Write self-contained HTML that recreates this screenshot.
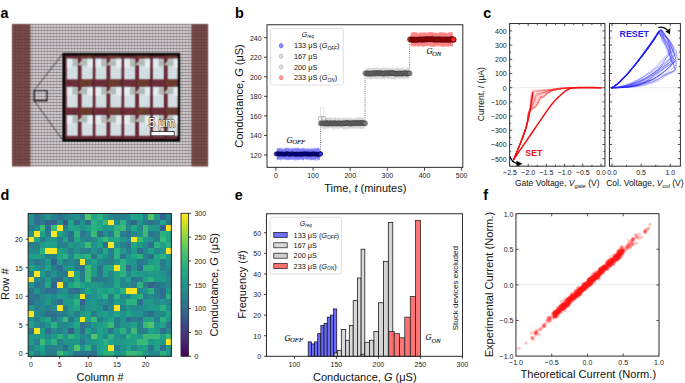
<!DOCTYPE html>
<html><head><meta charset="utf-8"><title>Figure</title>
<style>
html,body{margin:0;padding:0;background:#fff;}
body{width:685px;height:383px;overflow:hidden;font-family:"Liberation Sans", sans-serif;}
svg{display:block;}
</style></head><body>
<svg width="685" height="383" viewBox="0 0 685 383"><text x="0.50" y="17.80" font-size="14.4" text-anchor="start" font-weight="bold" font-style="normal" fill="#000" font-family='"Liberation Sans", sans-serif'>a</text>
<text x="234.90" y="17.90" font-size="14.4" text-anchor="start" font-weight="bold" font-style="normal" fill="#000" font-family='"Liberation Sans", sans-serif'>b</text>
<text x="483.20" y="17.90" font-size="14.4" text-anchor="start" font-weight="bold" font-style="normal" fill="#000" font-family='"Liberation Sans", sans-serif'>c</text>
<text x="0.50" y="200.20" font-size="14.4" text-anchor="start" font-weight="bold" font-style="normal" fill="#000" font-family='"Liberation Sans", sans-serif'>d</text>
<text x="234.70" y="200.30" font-size="14.4" text-anchor="start" font-weight="bold" font-style="normal" fill="#000" font-family='"Liberation Sans", sans-serif'>e</text>
<text x="483.20" y="200.20" font-size="14.4" text-anchor="start" font-weight="bold" font-style="normal" fill="#000" font-family='"Liberation Sans", sans-serif'>f</text>
<defs>
<pattern id="gridp" x="32" y="27" width="3" height="3" patternUnits="userSpaceOnUse"><rect width="3" height="3" fill="#edf0f2"/><rect width="1" height="3" fill="#9c9ca2"/><rect width="3" height="1" fill="#7a646a"/></pattern>
<pattern id="brownp" x="12" y="27" width="3" height="3" patternUnits="userSpaceOnUse"><rect width="3" height="3" fill="#80504a"/><rect width="3" height="1" fill="#5e3a3a"/><rect width="1" height="3" fill="#5e3c3c" fill-opacity="0.6"/></pattern>
<pattern id="padp" x="0" y="0" width="1.6" height="1.6" patternUnits="userSpaceOnUse"><rect width="1.6" height="1.6" fill="#dde8ec"/><rect width="0.4" height="1.6" fill="#c6d2d7"/><rect width="1.6" height="0.4" fill="#c6d2d7"/></pattern>
</defs>
<filter id="blurA" x="-2%" y="-2%" width="104%" height="104%" color-interpolation-filters="sRGB"><feConvolveMatrix order="3" kernelMatrix="0.04 0.12 0.04 0.12 0.36 0.12 0.04 0.12 0.04" divisor="1" edgeMode="duplicate" preserveAlpha="false"/></filter>
<g filter="url(#blurA)">
<rect x="12.00" y="24.00" width="18.80" height="142.50" fill="url(#brownp)" stroke="none" stroke-width="1.0"/>
<rect x="30.80" y="24.00" width="160.40" height="142.50" fill="url(#gridp)" stroke="none" stroke-width="1.0"/>
<rect x="191.20" y="24.00" width="16.90" height="142.50" fill="url(#brownp)" stroke="none" stroke-width="1.0"/>
<line x1="63.00" y1="53.60" x2="34.00" y2="90.40" stroke="#111" stroke-width="0.7"/>
<line x1="34.20" y1="100.80" x2="63.50" y2="141.00" stroke="#111" stroke-width="0.7"/>
<rect x="34.20" y="90.60" width="12.80" height="10.10" fill="none" stroke="#000" stroke-width="1.1"/>
<rect x="63.75" y="54.25" width="115.15" height="86.20" fill="#6c2b38" stroke="#050505" stroke-width="2.6"/>
<clipPath id="insclip"><rect x="64.95" y="55.45" width="112.75" height="83.80"/></clipPath>
<g clip-path="url(#insclip)">
<rect x="78.80" y="51.40" width="13.80" height="6.60" fill="#6a3b2c" stroke="none" stroke-width="1.0"/>
<rect x="92.00" y="51.40" width="2.00" height="32.20" fill="#55212c" stroke="none" stroke-width="1.0"/>
<rect x="78.10" y="51.40" width="1.20" height="32.20" fill="#5a2430" stroke="none" stroke-width="1.0"/>
<rect x="66.80" y="58.70" width="11.00" height="20.70" fill="url(#padp)" stroke="none" stroke-width="1.0"/>
<rect x="66.80" y="58.70" width="5.80" height="9.00" fill="#e3ecee" stroke="none" stroke-width="1.0"/>
<rect x="72.60" y="59.30" width="5.20" height="7.00" fill="#b2bab4" stroke="none" stroke-width="1.0"/>
<rect x="81.60" y="58.70" width="11.20" height="20.70" fill="url(#padp)" stroke="none" stroke-width="1.0"/>
<rect x="87.20" y="58.70" width="5.60" height="9.00" fill="#e3ecee" stroke="none" stroke-width="1.0"/>
<polygon points="78.4,63.9 82.6,59.7 87.2,59.7 87.2,66.1 78.4,65.3" fill="#b2bab4"/>
<line x1="66.80" y1="59.00" x2="72.60" y2="59.00" stroke="#a6e6f0" stroke-width="0.6"/>
<line x1="87.20" y1="59.00" x2="92.80" y2="59.00" stroke="#a6e6f0" stroke-width="0.6"/>
<rect x="107.50" y="51.40" width="13.80" height="6.60" fill="#6a3b2c" stroke="none" stroke-width="1.0"/>
<rect x="120.70" y="51.40" width="2.00" height="32.20" fill="#55212c" stroke="none" stroke-width="1.0"/>
<rect x="106.80" y="51.40" width="1.20" height="32.20" fill="#5a2430" stroke="none" stroke-width="1.0"/>
<rect x="95.50" y="58.70" width="11.00" height="20.70" fill="url(#padp)" stroke="none" stroke-width="1.0"/>
<rect x="95.50" y="58.70" width="5.80" height="9.00" fill="#e3ecee" stroke="none" stroke-width="1.0"/>
<rect x="101.30" y="59.30" width="5.20" height="7.00" fill="#b2bab4" stroke="none" stroke-width="1.0"/>
<rect x="110.30" y="58.70" width="11.20" height="20.70" fill="url(#padp)" stroke="none" stroke-width="1.0"/>
<rect x="115.90" y="58.70" width="5.60" height="9.00" fill="#e3ecee" stroke="none" stroke-width="1.0"/>
<polygon points="107.1,63.9 111.3,59.7 115.9,59.7 115.9,66.1 107.1,65.3" fill="#b2bab4"/>
<line x1="95.50" y1="59.00" x2="101.30" y2="59.00" stroke="#a6e6f0" stroke-width="0.6"/>
<line x1="115.90" y1="59.00" x2="121.50" y2="59.00" stroke="#a6e6f0" stroke-width="0.6"/>
<rect x="136.20" y="51.40" width="13.80" height="6.60" fill="#6a3b2c" stroke="none" stroke-width="1.0"/>
<rect x="149.40" y="51.40" width="2.00" height="32.20" fill="#55212c" stroke="none" stroke-width="1.0"/>
<rect x="135.50" y="51.40" width="1.20" height="32.20" fill="#5a2430" stroke="none" stroke-width="1.0"/>
<rect x="124.20" y="58.70" width="11.00" height="20.70" fill="url(#padp)" stroke="none" stroke-width="1.0"/>
<rect x="124.20" y="58.70" width="5.80" height="9.00" fill="#e3ecee" stroke="none" stroke-width="1.0"/>
<rect x="130.00" y="59.30" width="5.20" height="7.00" fill="#b2bab4" stroke="none" stroke-width="1.0"/>
<rect x="139.00" y="58.70" width="11.20" height="20.70" fill="url(#padp)" stroke="none" stroke-width="1.0"/>
<rect x="144.60" y="58.70" width="5.60" height="9.00" fill="#e3ecee" stroke="none" stroke-width="1.0"/>
<polygon points="135.8,63.9 140.0,59.7 144.6,59.7 144.6,66.1 135.8,65.3" fill="#b2bab4"/>
<line x1="124.20" y1="59.00" x2="130.00" y2="59.00" stroke="#a6e6f0" stroke-width="0.6"/>
<line x1="144.60" y1="59.00" x2="150.20" y2="59.00" stroke="#a6e6f0" stroke-width="0.6"/>
<rect x="164.90" y="51.40" width="13.80" height="6.60" fill="#6a3b2c" stroke="none" stroke-width="1.0"/>
<rect x="178.10" y="51.40" width="2.00" height="32.20" fill="#55212c" stroke="none" stroke-width="1.0"/>
<rect x="164.20" y="51.40" width="1.20" height="32.20" fill="#5a2430" stroke="none" stroke-width="1.0"/>
<rect x="152.90" y="58.70" width="11.00" height="20.70" fill="url(#padp)" stroke="none" stroke-width="1.0"/>
<rect x="152.90" y="58.70" width="5.80" height="9.00" fill="#e3ecee" stroke="none" stroke-width="1.0"/>
<rect x="158.70" y="59.30" width="5.20" height="7.00" fill="#b2bab4" stroke="none" stroke-width="1.0"/>
<rect x="167.70" y="58.70" width="11.20" height="20.70" fill="url(#padp)" stroke="none" stroke-width="1.0"/>
<rect x="173.30" y="58.70" width="5.60" height="9.00" fill="#e3ecee" stroke="none" stroke-width="1.0"/>
<polygon points="164.5,63.9 168.7,59.7 173.3,59.7 173.3,66.1 164.5,65.3" fill="#b2bab4"/>
<line x1="152.90" y1="59.00" x2="158.70" y2="59.00" stroke="#a6e6f0" stroke-width="0.6"/>
<line x1="173.30" y1="59.00" x2="178.90" y2="59.00" stroke="#a6e6f0" stroke-width="0.6"/>
<rect x="78.80" y="79.60" width="13.80" height="6.60" fill="#6a3b2c" stroke="none" stroke-width="1.0"/>
<rect x="92.00" y="79.60" width="2.00" height="32.20" fill="#55212c" stroke="none" stroke-width="1.0"/>
<rect x="78.10" y="79.60" width="1.20" height="32.20" fill="#5a2430" stroke="none" stroke-width="1.0"/>
<rect x="66.80" y="86.90" width="11.00" height="20.70" fill="url(#padp)" stroke="none" stroke-width="1.0"/>
<rect x="66.80" y="86.90" width="5.80" height="9.00" fill="#e3ecee" stroke="none" stroke-width="1.0"/>
<rect x="72.60" y="87.50" width="5.20" height="7.00" fill="#b2bab4" stroke="none" stroke-width="1.0"/>
<rect x="81.60" y="86.90" width="11.20" height="20.70" fill="url(#padp)" stroke="none" stroke-width="1.0"/>
<rect x="87.20" y="86.90" width="5.60" height="9.00" fill="#e3ecee" stroke="none" stroke-width="1.0"/>
<polygon points="78.4,92.1 82.6,87.9 87.2,87.9 87.2,94.3 78.4,93.5" fill="#b2bab4"/>
<line x1="66.80" y1="87.20" x2="72.60" y2="87.20" stroke="#a6e6f0" stroke-width="0.6"/>
<line x1="87.20" y1="87.20" x2="92.80" y2="87.20" stroke="#a6e6f0" stroke-width="0.6"/>
<rect x="107.50" y="79.60" width="13.80" height="6.60" fill="#6a3b2c" stroke="none" stroke-width="1.0"/>
<rect x="120.70" y="79.60" width="2.00" height="32.20" fill="#55212c" stroke="none" stroke-width="1.0"/>
<rect x="106.80" y="79.60" width="1.20" height="32.20" fill="#5a2430" stroke="none" stroke-width="1.0"/>
<rect x="95.50" y="86.90" width="11.00" height="20.70" fill="url(#padp)" stroke="none" stroke-width="1.0"/>
<rect x="95.50" y="86.90" width="5.80" height="9.00" fill="#e3ecee" stroke="none" stroke-width="1.0"/>
<rect x="101.30" y="87.50" width="5.20" height="7.00" fill="#b2bab4" stroke="none" stroke-width="1.0"/>
<rect x="110.30" y="86.90" width="11.20" height="20.70" fill="url(#padp)" stroke="none" stroke-width="1.0"/>
<rect x="115.90" y="86.90" width="5.60" height="9.00" fill="#e3ecee" stroke="none" stroke-width="1.0"/>
<polygon points="107.1,92.1 111.3,87.9 115.9,87.9 115.9,94.3 107.1,93.5" fill="#b2bab4"/>
<line x1="95.50" y1="87.20" x2="101.30" y2="87.20" stroke="#a6e6f0" stroke-width="0.6"/>
<line x1="115.90" y1="87.20" x2="121.50" y2="87.20" stroke="#a6e6f0" stroke-width="0.6"/>
<rect x="136.20" y="79.60" width="13.80" height="6.60" fill="#6a3b2c" stroke="none" stroke-width="1.0"/>
<rect x="149.40" y="79.60" width="2.00" height="32.20" fill="#55212c" stroke="none" stroke-width="1.0"/>
<rect x="135.50" y="79.60" width="1.20" height="32.20" fill="#5a2430" stroke="none" stroke-width="1.0"/>
<rect x="124.20" y="86.90" width="11.00" height="20.70" fill="url(#padp)" stroke="none" stroke-width="1.0"/>
<rect x="124.20" y="86.90" width="5.80" height="9.00" fill="#e3ecee" stroke="none" stroke-width="1.0"/>
<rect x="130.00" y="87.50" width="5.20" height="7.00" fill="#b2bab4" stroke="none" stroke-width="1.0"/>
<rect x="139.00" y="86.90" width="11.20" height="20.70" fill="url(#padp)" stroke="none" stroke-width="1.0"/>
<rect x="144.60" y="86.90" width="5.60" height="9.00" fill="#e3ecee" stroke="none" stroke-width="1.0"/>
<polygon points="135.8,92.1 140.0,87.9 144.6,87.9 144.6,94.3 135.8,93.5" fill="#b2bab4"/>
<line x1="124.20" y1="87.20" x2="130.00" y2="87.20" stroke="#a6e6f0" stroke-width="0.6"/>
<line x1="144.60" y1="87.20" x2="150.20" y2="87.20" stroke="#a6e6f0" stroke-width="0.6"/>
<rect x="164.90" y="79.60" width="13.80" height="6.60" fill="#6a3b2c" stroke="none" stroke-width="1.0"/>
<rect x="178.10" y="79.60" width="2.00" height="32.20" fill="#55212c" stroke="none" stroke-width="1.0"/>
<rect x="164.20" y="79.60" width="1.20" height="32.20" fill="#5a2430" stroke="none" stroke-width="1.0"/>
<rect x="152.90" y="86.90" width="11.00" height="20.70" fill="url(#padp)" stroke="none" stroke-width="1.0"/>
<rect x="152.90" y="86.90" width="5.80" height="9.00" fill="#e3ecee" stroke="none" stroke-width="1.0"/>
<rect x="158.70" y="87.50" width="5.20" height="7.00" fill="#b2bab4" stroke="none" stroke-width="1.0"/>
<rect x="167.70" y="86.90" width="11.20" height="20.70" fill="url(#padp)" stroke="none" stroke-width="1.0"/>
<rect x="173.30" y="86.90" width="5.60" height="9.00" fill="#e3ecee" stroke="none" stroke-width="1.0"/>
<polygon points="164.5,92.1 168.7,87.9 173.3,87.9 173.3,94.3 164.5,93.5" fill="#b2bab4"/>
<line x1="152.90" y1="87.20" x2="158.70" y2="87.20" stroke="#a6e6f0" stroke-width="0.6"/>
<line x1="173.30" y1="87.20" x2="178.90" y2="87.20" stroke="#a6e6f0" stroke-width="0.6"/>
<rect x="78.80" y="107.80" width="13.80" height="6.60" fill="#6a3b2c" stroke="none" stroke-width="1.0"/>
<rect x="92.00" y="107.80" width="2.00" height="32.20" fill="#55212c" stroke="none" stroke-width="1.0"/>
<rect x="78.10" y="107.80" width="1.20" height="32.20" fill="#5a2430" stroke="none" stroke-width="1.0"/>
<rect x="66.80" y="115.10" width="11.00" height="20.70" fill="url(#padp)" stroke="none" stroke-width="1.0"/>
<rect x="66.80" y="115.10" width="5.80" height="9.00" fill="#e3ecee" stroke="none" stroke-width="1.0"/>
<rect x="72.60" y="115.70" width="5.20" height="7.00" fill="#b2bab4" stroke="none" stroke-width="1.0"/>
<rect x="81.60" y="115.10" width="11.20" height="20.70" fill="url(#padp)" stroke="none" stroke-width="1.0"/>
<rect x="87.20" y="115.10" width="5.60" height="9.00" fill="#e3ecee" stroke="none" stroke-width="1.0"/>
<polygon points="78.4,120.3 82.6,116.1 87.2,116.1 87.2,122.5 78.4,121.7" fill="#b2bab4"/>
<line x1="66.80" y1="115.40" x2="72.60" y2="115.40" stroke="#a6e6f0" stroke-width="0.6"/>
<line x1="87.20" y1="115.40" x2="92.80" y2="115.40" stroke="#a6e6f0" stroke-width="0.6"/>
<rect x="107.50" y="107.80" width="13.80" height="6.60" fill="#6a3b2c" stroke="none" stroke-width="1.0"/>
<rect x="120.70" y="107.80" width="2.00" height="32.20" fill="#55212c" stroke="none" stroke-width="1.0"/>
<rect x="106.80" y="107.80" width="1.20" height="32.20" fill="#5a2430" stroke="none" stroke-width="1.0"/>
<rect x="95.50" y="115.10" width="11.00" height="20.70" fill="url(#padp)" stroke="none" stroke-width="1.0"/>
<rect x="95.50" y="115.10" width="5.80" height="9.00" fill="#e3ecee" stroke="none" stroke-width="1.0"/>
<rect x="101.30" y="115.70" width="5.20" height="7.00" fill="#b2bab4" stroke="none" stroke-width="1.0"/>
<rect x="110.30" y="115.10" width="11.20" height="20.70" fill="url(#padp)" stroke="none" stroke-width="1.0"/>
<rect x="115.90" y="115.10" width="5.60" height="9.00" fill="#e3ecee" stroke="none" stroke-width="1.0"/>
<polygon points="107.1,120.3 111.3,116.1 115.9,116.1 115.9,122.5 107.1,121.7" fill="#b2bab4"/>
<line x1="95.50" y1="115.40" x2="101.30" y2="115.40" stroke="#a6e6f0" stroke-width="0.6"/>
<line x1="115.90" y1="115.40" x2="121.50" y2="115.40" stroke="#a6e6f0" stroke-width="0.6"/>
<rect x="136.20" y="107.80" width="13.80" height="6.60" fill="#6a3b2c" stroke="none" stroke-width="1.0"/>
<rect x="149.40" y="107.80" width="2.00" height="32.20" fill="#55212c" stroke="none" stroke-width="1.0"/>
<rect x="135.50" y="107.80" width="1.20" height="32.20" fill="#5a2430" stroke="none" stroke-width="1.0"/>
<rect x="124.20" y="115.10" width="11.00" height="20.70" fill="url(#padp)" stroke="none" stroke-width="1.0"/>
<rect x="124.20" y="115.10" width="5.80" height="9.00" fill="#e3ecee" stroke="none" stroke-width="1.0"/>
<rect x="130.00" y="115.70" width="5.20" height="7.00" fill="#b2bab4" stroke="none" stroke-width="1.0"/>
<rect x="139.00" y="115.10" width="11.20" height="20.70" fill="url(#padp)" stroke="none" stroke-width="1.0"/>
<rect x="144.60" y="115.10" width="5.60" height="9.00" fill="#e3ecee" stroke="none" stroke-width="1.0"/>
<polygon points="135.8,120.3 140.0,116.1 144.6,116.1 144.6,122.5 135.8,121.7" fill="#b2bab4"/>
<line x1="124.20" y1="115.40" x2="130.00" y2="115.40" stroke="#a6e6f0" stroke-width="0.6"/>
<line x1="144.60" y1="115.40" x2="150.20" y2="115.40" stroke="#a6e6f0" stroke-width="0.6"/>
<rect x="164.90" y="107.80" width="13.80" height="6.60" fill="#6a3b2c" stroke="none" stroke-width="1.0"/>
<rect x="178.10" y="107.80" width="2.00" height="32.20" fill="#55212c" stroke="none" stroke-width="1.0"/>
<rect x="164.20" y="107.80" width="1.20" height="32.20" fill="#5a2430" stroke="none" stroke-width="1.0"/>
<rect x="152.90" y="115.10" width="11.00" height="20.70" fill="url(#padp)" stroke="none" stroke-width="1.0"/>
<rect x="152.90" y="115.10" width="5.80" height="9.00" fill="#e3ecee" stroke="none" stroke-width="1.0"/>
<rect x="158.70" y="115.70" width="5.20" height="7.00" fill="#b2bab4" stroke="none" stroke-width="1.0"/>
<rect x="167.70" y="115.10" width="11.20" height="20.70" fill="url(#padp)" stroke="none" stroke-width="1.0"/>
<rect x="173.30" y="115.10" width="5.60" height="9.00" fill="#e3ecee" stroke="none" stroke-width="1.0"/>
<polygon points="164.5,120.3 168.7,116.1 173.3,116.1 173.3,122.5 164.5,121.7" fill="#b2bab4"/>
<line x1="152.90" y1="115.40" x2="158.70" y2="115.40" stroke="#a6e6f0" stroke-width="0.6"/>
<line x1="173.30" y1="115.40" x2="178.90" y2="115.40" stroke="#a6e6f0" stroke-width="0.6"/>
</g>
</g>
<text x="148.40" y="126.90" font-size="12" text-anchor="start" font-weight="normal" font-style="normal" fill="#fff" font-family='"Liberation Sans", sans-serif' stroke="#333" stroke-width="1.3" stroke-opacity="0.8" paint-order="stroke" stroke-linejoin="round">5 μm</text>
<rect x="151.00" y="131.60" width="23.20" height="4.20" fill="#fff" stroke="#222" stroke-width="0.8"/>
<line x1="320.48" y1="154.02" x2="320.48" y2="119.81" stroke="#555" stroke-width="0.8" stroke-dasharray="1,1.2"/>
<line x1="365.06" y1="122.74" x2="365.06" y2="73.87" stroke="#555" stroke-width="0.8" stroke-dasharray="1,1.2"/>
<line x1="409.64" y1="73.87" x2="409.64" y2="39.66" stroke="#555" stroke-width="0.8" stroke-dasharray="1,1.2"/>
<line x1="320.50" y1="107.00" x2="320.50" y2="131.00" stroke="#cfcfcf" stroke-width="0.6"/>
<line x1="323.70" y1="107.00" x2="323.70" y2="131.00" stroke="#cfcfcf" stroke-width="0.6"/>
<g fill="#4a4aff" fill-opacity="0.45"><rect x="276.59" y="149.16" width="1" height="11.09"/><rect x="277.03" y="147.96" width="1" height="11.16"/><rect x="277.47" y="148.47" width="1" height="11.01"/><rect x="277.91" y="148.17" width="1" height="11.97"/><rect x="278.35" y="149.24" width="1" height="9.43"/><rect x="278.79" y="147.82" width="1" height="11.64"/><rect x="279.24" y="147.96" width="1" height="10.67"/><rect x="279.68" y="148.57" width="1" height="11.44"/><rect x="280.12" y="148.98" width="1" height="11.45"/><rect x="280.56" y="147.69" width="1" height="10.99"/><rect x="281.00" y="149.37" width="1" height="10.29"/><rect x="281.44" y="147.62" width="1" height="11.74"/><rect x="281.89" y="149.01" width="1" height="10.43"/><rect x="282.33" y="149.37" width="1" height="9.68"/><rect x="282.77" y="148.58" width="1" height="10.99"/><rect x="283.21" y="148.97" width="1" height="10.09"/><rect x="283.65" y="149.00" width="1" height="10.50"/><rect x="284.09" y="148.87" width="1" height="9.80"/><rect x="284.53" y="147.81" width="1" height="11.88"/><rect x="284.98" y="148.19" width="1" height="10.79"/><rect x="285.42" y="147.52" width="1" height="12.76"/><rect x="285.86" y="149.19" width="1" height="10.07"/><rect x="286.30" y="148.04" width="1" height="11.95"/><rect x="286.74" y="147.62" width="1" height="11.81"/><rect x="287.18" y="147.83" width="1" height="12.08"/><rect x="287.63" y="148.84" width="1" height="10.91"/><rect x="288.07" y="147.73" width="1" height="12.52"/><rect x="288.51" y="148.45" width="1" height="11.30"/><rect x="288.95" y="149.36" width="1" height="9.73"/><rect x="289.39" y="147.89" width="1" height="11.53"/><rect x="289.83" y="149.09" width="1" height="10.59"/><rect x="290.28" y="148.07" width="1" height="11.84"/><rect x="290.72" y="148.70" width="1" height="10.76"/><rect x="291.16" y="148.45" width="1" height="11.67"/><rect x="291.60" y="148.42" width="1" height="10.96"/><rect x="292.04" y="148.48" width="1" height="10.20"/><rect x="292.48" y="149.34" width="1" height="10.63"/><rect x="292.93" y="147.53" width="1" height="12.23"/><rect x="293.37" y="148.67" width="1" height="10.28"/><rect x="293.81" y="148.46" width="1" height="12.05"/><rect x="294.25" y="147.94" width="1" height="11.72"/><rect x="294.69" y="147.77" width="1" height="11.30"/><rect x="295.13" y="148.44" width="1" height="12.02"/><rect x="295.57" y="148.31" width="1" height="11.19"/><rect x="296.02" y="148.91" width="1" height="10.77"/><rect x="296.46" y="147.58" width="1" height="11.05"/><rect x="296.90" y="147.92" width="1" height="12.28"/><rect x="297.34" y="147.72" width="1" height="12.32"/><rect x="297.78" y="147.87" width="1" height="11.75"/><rect x="298.22" y="148.34" width="1" height="11.10"/><rect x="298.67" y="149.31" width="1" height="10.98"/><rect x="299.11" y="148.33" width="1" height="10.68"/><rect x="299.55" y="148.45" width="1" height="11.10"/><rect x="299.99" y="148.74" width="1" height="10.55"/><rect x="300.43" y="148.39" width="1" height="11.43"/><rect x="300.87" y="148.25" width="1" height="11.26"/><rect x="301.32" y="149.37" width="1" height="9.69"/><rect x="301.76" y="149.08" width="1" height="10.66"/><rect x="302.20" y="147.77" width="1" height="12.39"/><rect x="302.64" y="147.89" width="1" height="12.30"/><rect x="303.08" y="148.93" width="1" height="11.31"/><rect x="303.52" y="148.13" width="1" height="10.65"/><rect x="303.97" y="149.39" width="1" height="9.26"/><rect x="304.41" y="147.97" width="1" height="11.13"/><rect x="304.85" y="149.21" width="1" height="10.61"/><rect x="305.29" y="148.76" width="1" height="9.99"/><rect x="305.73" y="149.12" width="1" height="10.52"/><rect x="306.17" y="149.10" width="1" height="10.05"/><rect x="306.62" y="148.06" width="1" height="11.44"/><rect x="307.06" y="148.80" width="1" height="10.73"/><rect x="307.50" y="149.38" width="1" height="9.99"/><rect x="307.94" y="148.61" width="1" height="10.37"/><rect x="308.38" y="149.21" width="1" height="11.14"/><rect x="308.82" y="148.44" width="1" height="10.58"/><rect x="309.26" y="148.26" width="1" height="11.93"/><rect x="309.71" y="149.38" width="1" height="9.27"/><rect x="310.15" y="149.14" width="1" height="10.86"/><rect x="310.59" y="149.11" width="1" height="10.86"/><rect x="311.03" y="148.12" width="1" height="11.55"/><rect x="311.47" y="149.00" width="1" height="11.50"/><rect x="311.91" y="147.89" width="1" height="11.72"/><rect x="312.36" y="148.99" width="1" height="10.87"/><rect x="312.80" y="148.66" width="1" height="11.06"/><rect x="313.24" y="148.81" width="1" height="11.03"/><rect x="313.68" y="149.31" width="1" height="9.89"/><rect x="314.12" y="147.56" width="1" height="12.74"/><rect x="314.56" y="148.83" width="1" height="11.44"/><rect x="315.01" y="148.83" width="1" height="11.60"/><rect x="315.45" y="147.99" width="1" height="11.43"/><rect x="315.89" y="148.94" width="1" height="9.70"/><rect x="316.33" y="147.74" width="1" height="10.96"/><rect x="316.77" y="147.85" width="1" height="12.62"/><rect x="317.21" y="148.33" width="1" height="10.62"/><rect x="317.66" y="147.76" width="1" height="12.74"/><rect x="318.10" y="148.07" width="1" height="11.53"/><rect x="318.54" y="148.70" width="1" height="10.59"/><rect x="318.98" y="149.03" width="1" height="10.89"/></g>
<g fill="#000090" fill-opacity="0.6" stroke="#000038" stroke-opacity="0.6" stroke-width="0.7"><circle cx="276.09" cy="153.96" r="2.10"/><circle cx="277.20" cy="153.75" r="2.10"/><circle cx="278.31" cy="153.67" r="2.10"/><circle cx="279.42" cy="154.17" r="2.10"/><circle cx="280.53" cy="153.84" r="2.10"/><circle cx="281.64" cy="154.02" r="2.10"/><circle cx="282.74" cy="153.87" r="2.10"/><circle cx="283.85" cy="154.36" r="2.10"/><circle cx="284.96" cy="154.38" r="2.10"/><circle cx="286.07" cy="153.59" r="2.10"/><circle cx="287.18" cy="153.75" r="2.10"/><circle cx="288.29" cy="153.87" r="2.10"/><circle cx="289.40" cy="154.46" r="2.10"/><circle cx="290.51" cy="154.28" r="2.10"/><circle cx="291.62" cy="153.88" r="2.10"/><circle cx="292.73" cy="153.76" r="2.10"/><circle cx="293.84" cy="154.18" r="2.10"/><circle cx="294.95" cy="154.33" r="2.10"/><circle cx="296.06" cy="154.41" r="2.10"/><circle cx="297.17" cy="153.88" r="2.10"/><circle cx="298.28" cy="154.37" r="2.10"/><circle cx="299.39" cy="154.19" r="2.10"/><circle cx="300.50" cy="154.01" r="2.10"/><circle cx="301.61" cy="154.46" r="2.10"/><circle cx="302.72" cy="153.78" r="2.10"/><circle cx="303.83" cy="154.23" r="2.10"/><circle cx="304.94" cy="153.65" r="2.10"/><circle cx="306.05" cy="153.73" r="2.10"/><circle cx="307.16" cy="154.39" r="2.10"/><circle cx="308.27" cy="153.76" r="2.10"/><circle cx="309.38" cy="154.26" r="2.10"/><circle cx="310.49" cy="154.11" r="2.10"/><circle cx="311.60" cy="154.33" r="2.10"/><circle cx="312.71" cy="153.90" r="2.10"/><circle cx="313.82" cy="153.88" r="2.10"/><circle cx="314.93" cy="153.83" r="2.10"/><circle cx="316.04" cy="154.35" r="2.10"/><circle cx="317.15" cy="154.12" r="2.10"/><circle cx="318.26" cy="154.43" r="2.10"/><circle cx="319.37" cy="154.37" r="2.10"/><circle cx="320.48" cy="153.69" r="2.10"/></g>
<circle cx="320.48" cy="154.02" r="2.10" fill="#3030ff" stroke="#000038" stroke-width="0.6"/>
<g fill="#b4b4b4" fill-opacity="0.28"><rect x="321.35" y="117.77" width="1" height="10.06"/><rect x="321.79" y="118.76" width="1" height="9.02"/><rect x="322.23" y="117.17" width="1" height="11.98"/><rect x="322.67" y="117.24" width="1" height="11.05"/><rect x="323.11" y="117.65" width="1" height="11.48"/><rect x="323.55" y="118.11" width="1" height="10.62"/><rect x="323.99" y="118.40" width="1" height="9.39"/><rect x="324.43" y="118.32" width="1" height="11.02"/><rect x="324.87" y="117.75" width="1" height="11.66"/><rect x="325.31" y="117.95" width="1" height="10.21"/><rect x="325.75" y="117.32" width="1" height="11.90"/><rect x="326.19" y="118.81" width="1" height="10.11"/><rect x="326.63" y="118.66" width="1" height="9.20"/><rect x="327.07" y="117.13" width="1" height="10.58"/><rect x="327.51" y="118.37" width="1" height="11.16"/><rect x="327.95" y="118.02" width="1" height="9.83"/><rect x="328.39" y="118.51" width="1" height="9.58"/><rect x="328.83" y="117.40" width="1" height="10.43"/><rect x="329.27" y="117.08" width="1" height="11.27"/><rect x="329.71" y="116.97" width="1" height="12.41"/><rect x="330.14" y="118.27" width="1" height="9.85"/><rect x="330.58" y="117.92" width="1" height="9.91"/><rect x="331.02" y="117.58" width="1" height="10.13"/><rect x="331.46" y="118.81" width="1" height="10.71"/><rect x="331.90" y="118.26" width="1" height="10.51"/><rect x="332.34" y="117.97" width="1" height="10.27"/><rect x="332.78" y="118.71" width="1" height="10.67"/><rect x="333.22" y="116.97" width="1" height="12.52"/><rect x="333.66" y="118.62" width="1" height="9.43"/><rect x="334.10" y="117.65" width="1" height="11.87"/><rect x="334.54" y="117.79" width="1" height="11.16"/><rect x="334.98" y="117.56" width="1" height="10.57"/><rect x="335.42" y="117.79" width="1" height="10.43"/><rect x="335.86" y="118.36" width="1" height="9.43"/><rect x="336.30" y="118.29" width="1" height="11.23"/><rect x="336.74" y="117.97" width="1" height="10.91"/><rect x="337.18" y="117.60" width="1" height="11.84"/><rect x="337.62" y="118.08" width="1" height="10.14"/><rect x="338.06" y="118.20" width="1" height="10.04"/><rect x="338.50" y="117.20" width="1" height="12.14"/><rect x="338.94" y="118.25" width="1" height="10.02"/><rect x="339.38" y="117.79" width="1" height="10.96"/><rect x="339.82" y="117.69" width="1" height="10.41"/><rect x="340.26" y="118.79" width="1" height="9.31"/><rect x="340.70" y="118.69" width="1" height="10.00"/><rect x="341.14" y="118.70" width="1" height="9.08"/><rect x="341.58" y="117.61" width="1" height="10.58"/><rect x="342.02" y="117.31" width="1" height="11.27"/><rect x="342.46" y="117.17" width="1" height="10.75"/><rect x="342.90" y="117.87" width="1" height="11.29"/><rect x="343.34" y="118.68" width="1" height="10.77"/><rect x="343.77" y="118.50" width="1" height="10.62"/><rect x="344.21" y="116.94" width="1" height="12.27"/><rect x="344.65" y="118.22" width="1" height="9.62"/><rect x="345.09" y="117.84" width="1" height="11.55"/><rect x="345.53" y="118.27" width="1" height="11.08"/><rect x="345.97" y="118.56" width="1" height="10.82"/><rect x="346.41" y="118.77" width="1" height="9.47"/><rect x="346.85" y="117.10" width="1" height="12.08"/><rect x="347.29" y="117.09" width="1" height="12.16"/><rect x="347.73" y="117.40" width="1" height="11.56"/><rect x="348.17" y="118.49" width="1" height="9.97"/><rect x="348.61" y="118.53" width="1" height="10.48"/><rect x="349.05" y="117.55" width="1" height="10.57"/><rect x="349.49" y="118.71" width="1" height="10.77"/><rect x="349.93" y="117.28" width="1" height="11.41"/><rect x="350.37" y="117.79" width="1" height="11.47"/><rect x="350.81" y="117.96" width="1" height="10.43"/><rect x="351.25" y="118.18" width="1" height="9.95"/><rect x="351.69" y="118.78" width="1" height="10.09"/><rect x="352.13" y="118.03" width="1" height="10.70"/><rect x="352.57" y="118.71" width="1" height="9.60"/><rect x="353.01" y="118.57" width="1" height="9.31"/><rect x="353.45" y="118.33" width="1" height="10.89"/><rect x="353.89" y="118.07" width="1" height="10.33"/><rect x="354.33" y="117.66" width="1" height="10.42"/><rect x="354.77" y="118.82" width="1" height="9.83"/><rect x="355.21" y="117.87" width="1" height="11.01"/><rect x="355.65" y="117.99" width="1" height="10.96"/><rect x="356.09" y="117.43" width="1" height="10.66"/><rect x="356.53" y="117.88" width="1" height="10.67"/><rect x="356.96" y="118.40" width="1" height="10.02"/><rect x="357.40" y="117.76" width="1" height="11.62"/><rect x="357.84" y="117.07" width="1" height="11.09"/><rect x="358.28" y="117.59" width="1" height="10.13"/><rect x="358.72" y="118.69" width="1" height="9.92"/><rect x="359.16" y="117.15" width="1" height="10.79"/><rect x="359.60" y="117.36" width="1" height="11.97"/><rect x="360.04" y="118.23" width="1" height="10.73"/><rect x="360.48" y="117.20" width="1" height="11.14"/><rect x="360.92" y="117.48" width="1" height="11.56"/><rect x="361.36" y="117.69" width="1" height="11.59"/><rect x="361.80" y="117.11" width="1" height="12.36"/><rect x="362.24" y="117.73" width="1" height="10.24"/><rect x="362.68" y="118.35" width="1" height="9.70"/><rect x="363.12" y="117.74" width="1" height="11.35"/><rect x="363.56" y="118.73" width="1" height="10.21"/></g>
<g fill="#707070" fill-opacity="0.6" stroke="#303030" stroke-opacity="0.6" stroke-width="0.7"><circle cx="320.85" cy="123.43" r="2.50"/><circle cx="321.96" cy="123.09" r="2.50"/><circle cx="323.06" cy="123.24" r="2.50"/><circle cx="324.17" cy="122.93" r="2.50"/><circle cx="325.27" cy="123.44" r="2.50"/><circle cx="326.38" cy="122.82" r="2.50"/><circle cx="327.48" cy="123.66" r="2.50"/><circle cx="328.59" cy="123.51" r="2.50"/><circle cx="329.69" cy="123.35" r="2.50"/><circle cx="330.80" cy="123.02" r="2.50"/><circle cx="331.90" cy="123.60" r="2.50"/><circle cx="333.01" cy="123.64" r="2.50"/><circle cx="334.11" cy="122.91" r="2.50"/><circle cx="335.22" cy="123.48" r="2.50"/><circle cx="336.32" cy="123.54" r="2.50"/><circle cx="337.43" cy="123.37" r="2.50"/><circle cx="338.53" cy="123.41" r="2.50"/><circle cx="339.64" cy="123.18" r="2.50"/><circle cx="340.75" cy="123.61" r="2.50"/><circle cx="341.85" cy="123.66" r="2.50"/><circle cx="342.96" cy="123.13" r="2.50"/><circle cx="344.06" cy="123.50" r="2.50"/><circle cx="345.17" cy="123.17" r="2.50"/><circle cx="346.27" cy="122.93" r="2.50"/><circle cx="347.38" cy="123.07" r="2.50"/><circle cx="348.48" cy="122.89" r="2.50"/><circle cx="349.59" cy="123.60" r="2.50"/><circle cx="350.69" cy="123.64" r="2.50"/><circle cx="351.80" cy="122.89" r="2.50"/><circle cx="352.90" cy="123.32" r="2.50"/><circle cx="354.01" cy="123.15" r="2.50"/><circle cx="355.11" cy="122.89" r="2.50"/><circle cx="356.22" cy="123.05" r="2.50"/><circle cx="357.32" cy="123.00" r="2.50"/><circle cx="358.43" cy="123.46" r="2.50"/><circle cx="359.53" cy="122.78" r="2.50"/><circle cx="360.64" cy="122.95" r="2.50"/><circle cx="361.74" cy="123.18" r="2.50"/><circle cx="362.85" cy="122.80" r="2.50"/><circle cx="363.95" cy="123.35" r="2.50"/><circle cx="365.06" cy="123.33" r="2.50"/></g>
<circle cx="320.50" cy="118.5" r="2.3" fill="#f4f4f4" fill-opacity="0.6" stroke="#8a8a8a" stroke-width="0.6"/>
<circle cx="323.70" cy="118.5" r="2.3" fill="#f4f4f4" fill-opacity="0.6" stroke="#8a8a8a" stroke-width="0.6"/>
<g fill="#b4b4b4" fill-opacity="0.28"><rect x="365.93" y="67.37" width="1" height="10.80"/><rect x="366.37" y="68.43" width="1" height="10.39"/><rect x="366.81" y="68.45" width="1" height="10.45"/><rect x="367.25" y="68.50" width="1" height="10.59"/><rect x="367.69" y="67.46" width="1" height="11.87"/><rect x="368.13" y="67.11" width="1" height="11.72"/><rect x="368.57" y="68.04" width="1" height="11.39"/><rect x="369.01" y="67.50" width="1" height="11.37"/><rect x="369.45" y="68.24" width="1" height="10.08"/><rect x="369.89" y="68.77" width="1" height="10.56"/><rect x="370.33" y="68.75" width="1" height="10.46"/><rect x="370.77" y="67.93" width="1" height="11.70"/><rect x="371.21" y="67.52" width="1" height="12.13"/><rect x="371.65" y="68.72" width="1" height="10.02"/><rect x="372.09" y="67.88" width="1" height="10.50"/><rect x="372.53" y="68.01" width="1" height="10.45"/><rect x="372.97" y="67.96" width="1" height="9.82"/><rect x="373.41" y="68.13" width="1" height="10.51"/><rect x="373.85" y="68.39" width="1" height="10.15"/><rect x="374.29" y="67.48" width="1" height="11.62"/><rect x="374.72" y="68.03" width="1" height="10.99"/><rect x="375.16" y="68.25" width="1" height="9.92"/><rect x="375.60" y="68.97" width="1" height="9.34"/><rect x="376.04" y="67.83" width="1" height="11.64"/><rect x="376.48" y="67.39" width="1" height="11.37"/><rect x="376.92" y="67.08" width="1" height="11.58"/><rect x="377.36" y="67.38" width="1" height="11.19"/><rect x="377.80" y="67.55" width="1" height="12.13"/><rect x="378.24" y="68.39" width="1" height="9.71"/><rect x="378.68" y="67.79" width="1" height="11.01"/><rect x="379.12" y="68.29" width="1" height="9.50"/><rect x="379.56" y="68.23" width="1" height="10.36"/><rect x="380.00" y="68.20" width="1" height="11.23"/><rect x="380.44" y="67.86" width="1" height="11.33"/><rect x="380.88" y="67.25" width="1" height="11.96"/><rect x="381.32" y="68.03" width="1" height="11.18"/><rect x="381.76" y="67.75" width="1" height="11.28"/><rect x="382.20" y="67.77" width="1" height="10.79"/><rect x="382.64" y="67.77" width="1" height="11.22"/><rect x="383.08" y="67.18" width="1" height="12.10"/><rect x="383.52" y="67.35" width="1" height="11.90"/><rect x="383.96" y="67.41" width="1" height="11.53"/><rect x="384.40" y="68.31" width="1" height="9.98"/><rect x="384.84" y="67.62" width="1" height="11.84"/><rect x="385.28" y="67.93" width="1" height="10.14"/><rect x="385.72" y="67.38" width="1" height="11.33"/><rect x="386.16" y="68.08" width="1" height="9.78"/><rect x="386.60" y="68.00" width="1" height="11.21"/><rect x="387.04" y="68.17" width="1" height="10.29"/><rect x="387.48" y="67.72" width="1" height="10.10"/><rect x="387.92" y="68.00" width="1" height="11.59"/><rect x="388.35" y="67.65" width="1" height="10.90"/><rect x="388.79" y="67.66" width="1" height="11.28"/><rect x="389.23" y="68.58" width="1" height="9.60"/><rect x="389.67" y="67.28" width="1" height="11.02"/><rect x="390.11" y="68.83" width="1" height="10.54"/><rect x="390.55" y="67.97" width="1" height="10.51"/><rect x="390.99" y="68.00" width="1" height="11.20"/><rect x="391.43" y="68.66" width="1" height="10.38"/><rect x="391.87" y="67.61" width="1" height="11.73"/><rect x="392.31" y="68.46" width="1" height="10.49"/><rect x="392.75" y="68.53" width="1" height="10.32"/><rect x="393.19" y="68.65" width="1" height="10.65"/><rect x="393.63" y="67.31" width="1" height="11.10"/><rect x="394.07" y="68.55" width="1" height="11.08"/><rect x="394.51" y="67.62" width="1" height="11.78"/><rect x="394.95" y="68.92" width="1" height="10.59"/><rect x="395.39" y="67.78" width="1" height="10.60"/><rect x="395.83" y="68.15" width="1" height="11.09"/><rect x="396.27" y="67.47" width="1" height="10.67"/><rect x="396.71" y="67.78" width="1" height="10.32"/><rect x="397.15" y="67.11" width="1" height="11.52"/><rect x="397.59" y="67.23" width="1" height="11.95"/><rect x="398.03" y="67.81" width="1" height="10.47"/><rect x="398.47" y="67.97" width="1" height="10.08"/><rect x="398.91" y="68.71" width="1" height="10.44"/><rect x="399.35" y="68.29" width="1" height="10.94"/><rect x="399.79" y="68.52" width="1" height="10.64"/><rect x="400.23" y="67.60" width="1" height="10.77"/><rect x="400.67" y="68.77" width="1" height="9.77"/><rect x="401.11" y="68.03" width="1" height="9.94"/><rect x="401.54" y="68.62" width="1" height="9.26"/><rect x="401.98" y="67.83" width="1" height="11.65"/><rect x="402.42" y="68.56" width="1" height="9.28"/><rect x="402.86" y="67.63" width="1" height="11.72"/><rect x="403.30" y="67.13" width="1" height="11.83"/><rect x="403.74" y="68.32" width="1" height="11.07"/><rect x="404.18" y="68.75" width="1" height="10.36"/><rect x="404.62" y="68.80" width="1" height="9.75"/><rect x="405.06" y="68.03" width="1" height="10.48"/><rect x="405.50" y="68.66" width="1" height="9.57"/><rect x="405.94" y="67.40" width="1" height="11.26"/><rect x="406.38" y="67.87" width="1" height="10.32"/><rect x="406.82" y="67.61" width="1" height="10.81"/><rect x="407.26" y="67.84" width="1" height="11.69"/><rect x="407.70" y="67.07" width="1" height="10.80"/><rect x="408.14" y="67.45" width="1" height="11.98"/></g>
<g fill="#707070" fill-opacity="0.6" stroke="#303030" stroke-opacity="0.6" stroke-width="0.7"><circle cx="365.43" cy="73.22" r="2.50"/><circle cx="366.54" cy="73.27" r="2.50"/><circle cx="367.64" cy="73.45" r="2.50"/><circle cx="368.75" cy="73.76" r="2.50"/><circle cx="369.85" cy="73.29" r="2.50"/><circle cx="370.96" cy="73.72" r="2.50"/><circle cx="372.06" cy="73.61" r="2.50"/><circle cx="373.17" cy="73.07" r="2.50"/><circle cx="374.27" cy="73.75" r="2.50"/><circle cx="375.38" cy="72.94" r="2.50"/><circle cx="376.48" cy="73.06" r="2.50"/><circle cx="377.59" cy="73.53" r="2.50"/><circle cx="378.69" cy="72.98" r="2.50"/><circle cx="379.80" cy="73.27" r="2.50"/><circle cx="380.90" cy="73.05" r="2.50"/><circle cx="382.01" cy="73.35" r="2.50"/><circle cx="383.11" cy="73.68" r="2.50"/><circle cx="384.22" cy="73.74" r="2.50"/><circle cx="385.33" cy="72.96" r="2.50"/><circle cx="386.43" cy="72.98" r="2.50"/><circle cx="387.54" cy="73.69" r="2.50"/><circle cx="388.64" cy="72.97" r="2.50"/><circle cx="389.75" cy="73.17" r="2.50"/><circle cx="390.85" cy="73.03" r="2.50"/><circle cx="391.96" cy="73.01" r="2.50"/><circle cx="393.06" cy="72.95" r="2.50"/><circle cx="394.17" cy="73.50" r="2.50"/><circle cx="395.27" cy="73.60" r="2.50"/><circle cx="396.38" cy="73.55" r="2.50"/><circle cx="397.48" cy="73.69" r="2.50"/><circle cx="398.59" cy="73.53" r="2.50"/><circle cx="399.69" cy="73.28" r="2.50"/><circle cx="400.80" cy="73.50" r="2.50"/><circle cx="401.90" cy="73.80" r="2.50"/><circle cx="403.01" cy="73.51" r="2.50"/><circle cx="404.11" cy="73.15" r="2.50"/><circle cx="405.22" cy="72.98" r="2.50"/><circle cx="406.32" cy="73.77" r="2.50"/><circle cx="407.43" cy="73.46" r="2.50"/><circle cx="408.53" cy="73.24" r="2.50"/><circle cx="409.64" cy="73.47" r="2.50"/></g>
<g fill="#ff4a4a" fill-opacity="0.42"><rect x="410.51" y="32.68" width="1" height="13.48"/><rect x="410.95" y="33.64" width="1" height="12.19"/><rect x="411.39" y="32.97" width="1" height="12.58"/><rect x="411.83" y="32.07" width="1" height="13.90"/><rect x="412.28" y="32.49" width="1" height="14.04"/><rect x="412.72" y="32.33" width="1" height="14.21"/><rect x="413.16" y="32.32" width="1" height="13.33"/><rect x="413.60" y="31.88" width="1" height="13.56"/><rect x="414.04" y="32.00" width="1" height="14.80"/><rect x="414.48" y="32.12" width="1" height="13.14"/><rect x="414.92" y="33.58" width="1" height="13.14"/><rect x="415.36" y="32.86" width="1" height="13.01"/><rect x="415.80" y="31.87" width="1" height="13.37"/><rect x="416.25" y="32.74" width="1" height="13.27"/><rect x="416.69" y="33.51" width="1" height="12.40"/><rect x="417.13" y="32.40" width="1" height="14.45"/><rect x="417.57" y="33.71" width="1" height="12.45"/><rect x="418.01" y="33.59" width="1" height="13.11"/><rect x="418.45" y="33.59" width="1" height="11.63"/><rect x="418.89" y="33.02" width="1" height="13.54"/><rect x="419.33" y="33.16" width="1" height="12.25"/><rect x="419.78" y="32.23" width="1" height="14.47"/><rect x="420.22" y="32.12" width="1" height="13.63"/><rect x="420.66" y="32.94" width="1" height="12.69"/><rect x="421.10" y="32.69" width="1" height="13.10"/><rect x="421.54" y="33.11" width="1" height="13.55"/><rect x="421.98" y="31.92" width="1" height="14.36"/><rect x="422.42" y="33.56" width="1" height="12.85"/><rect x="422.86" y="32.90" width="1" height="14.16"/><rect x="423.30" y="32.38" width="1" height="14.38"/><rect x="423.75" y="32.41" width="1" height="13.77"/><rect x="424.19" y="32.04" width="1" height="14.72"/><rect x="424.63" y="33.20" width="1" height="12.26"/><rect x="425.07" y="33.05" width="1" height="13.11"/><rect x="425.51" y="33.57" width="1" height="12.25"/><rect x="425.95" y="32.66" width="1" height="12.59"/><rect x="426.39" y="32.19" width="1" height="14.21"/><rect x="426.83" y="33.16" width="1" height="12.57"/><rect x="427.27" y="33.08" width="1" height="12.70"/><rect x="427.72" y="32.32" width="1" height="13.80"/><rect x="428.16" y="32.75" width="1" height="12.70"/><rect x="428.60" y="32.00" width="1" height="13.78"/><rect x="429.04" y="33.13" width="1" height="12.16"/><rect x="429.48" y="31.88" width="1" height="14.20"/><rect x="429.92" y="32.01" width="1" height="14.93"/><rect x="430.36" y="31.90" width="1" height="14.83"/><rect x="430.80" y="31.98" width="1" height="14.95"/><rect x="431.24" y="32.22" width="1" height="13.20"/><rect x="431.69" y="32.75" width="1" height="13.51"/><rect x="432.13" y="31.85" width="1" height="14.81"/><rect x="432.57" y="32.41" width="1" height="14.18"/><rect x="433.01" y="33.07" width="1" height="13.90"/><rect x="433.45" y="32.52" width="1" height="13.41"/><rect x="433.89" y="32.87" width="1" height="14.17"/><rect x="434.33" y="32.74" width="1" height="12.74"/><rect x="434.77" y="33.47" width="1" height="13.00"/><rect x="435.21" y="32.68" width="1" height="14.22"/><rect x="435.66" y="33.41" width="1" height="12.54"/><rect x="436.10" y="32.36" width="1" height="12.89"/><rect x="436.54" y="33.57" width="1" height="12.64"/><rect x="436.98" y="33.25" width="1" height="12.12"/><rect x="437.42" y="33.26" width="1" height="13.12"/><rect x="437.86" y="32.75" width="1" height="12.56"/><rect x="438.30" y="33.62" width="1" height="13.17"/><rect x="438.74" y="32.52" width="1" height="12.97"/><rect x="439.18" y="32.10" width="1" height="13.10"/><rect x="439.63" y="33.05" width="1" height="13.73"/><rect x="440.07" y="32.40" width="1" height="13.31"/><rect x="440.51" y="32.05" width="1" height="14.26"/><rect x="440.95" y="32.10" width="1" height="14.78"/><rect x="441.39" y="32.94" width="1" height="13.51"/><rect x="441.83" y="32.71" width="1" height="14.26"/><rect x="442.27" y="32.23" width="1" height="14.33"/><rect x="442.71" y="32.20" width="1" height="14.88"/><rect x="443.15" y="33.27" width="1" height="12.28"/><rect x="443.60" y="32.33" width="1" height="14.31"/><rect x="444.04" y="32.77" width="1" height="13.32"/><rect x="444.48" y="32.98" width="1" height="13.87"/><rect x="444.92" y="32.23" width="1" height="14.05"/><rect x="445.36" y="33.68" width="1" height="13.11"/><rect x="445.80" y="32.88" width="1" height="12.64"/><rect x="446.24" y="33.18" width="1" height="13.30"/><rect x="446.68" y="33.75" width="1" height="11.64"/><rect x="447.12" y="33.18" width="1" height="13.68"/><rect x="447.57" y="32.33" width="1" height="14.70"/><rect x="448.01" y="32.72" width="1" height="13.54"/><rect x="448.45" y="32.70" width="1" height="13.47"/><rect x="448.89" y="32.72" width="1" height="14.01"/><rect x="449.33" y="31.93" width="1" height="14.01"/><rect x="449.77" y="32.55" width="1" height="13.20"/><rect x="450.21" y="33.18" width="1" height="12.95"/><rect x="450.65" y="32.63" width="1" height="13.58"/><rect x="451.09" y="31.88" width="1" height="13.59"/><rect x="451.54" y="32.54" width="1" height="14.53"/><rect x="451.98" y="32.35" width="1" height="13.90"/></g>
<g fill="#b00000" fill-opacity="0.6" stroke="#300000" stroke-opacity="0.6" stroke-width="0.7"><circle cx="410.01" cy="39.34" r="2.60"/><circle cx="411.13" cy="39.37" r="2.60"/><circle cx="412.24" cy="39.85" r="2.60"/><circle cx="413.35" cy="39.82" r="2.60"/><circle cx="414.47" cy="39.61" r="2.60"/><circle cx="415.58" cy="39.82" r="2.60"/><circle cx="416.70" cy="39.84" r="2.60"/><circle cx="417.81" cy="39.77" r="2.60"/><circle cx="418.93" cy="39.35" r="2.60"/><circle cx="420.04" cy="39.43" r="2.60"/><circle cx="421.16" cy="39.73" r="2.60"/><circle cx="422.27" cy="39.34" r="2.60"/><circle cx="423.39" cy="39.68" r="2.60"/><circle cx="424.50" cy="39.44" r="2.60"/><circle cx="425.61" cy="39.31" r="2.60"/><circle cx="426.73" cy="39.42" r="2.60"/><circle cx="427.84" cy="39.11" r="2.60"/><circle cx="428.96" cy="39.33" r="2.60"/><circle cx="430.07" cy="39.38" r="2.60"/><circle cx="431.19" cy="39.03" r="2.60"/><circle cx="432.30" cy="39.16" r="2.60"/><circle cx="433.42" cy="39.24" r="2.60"/><circle cx="434.53" cy="39.78" r="2.60"/><circle cx="435.64" cy="39.54" r="2.60"/><circle cx="436.76" cy="39.27" r="2.60"/><circle cx="437.87" cy="39.91" r="2.60"/><circle cx="438.99" cy="39.24" r="2.60"/><circle cx="440.10" cy="39.47" r="2.60"/><circle cx="441.22" cy="39.68" r="2.60"/><circle cx="442.33" cy="39.63" r="2.60"/><circle cx="443.45" cy="39.40" r="2.60"/><circle cx="444.56" cy="39.71" r="2.60"/><circle cx="445.68" cy="39.45" r="2.60"/><circle cx="446.79" cy="39.65" r="2.60"/><circle cx="447.90" cy="39.45" r="2.60"/><circle cx="449.02" cy="39.88" r="2.60"/><circle cx="450.13" cy="39.65" r="2.60"/><circle cx="451.25" cy="39.09" r="2.60"/><circle cx="452.36" cy="39.13" r="2.60"/><circle cx="453.48" cy="39.88" r="2.60"/></g>
<circle cx="453.48" cy="39.46" r="2.60" fill="#ff2020" stroke="#300000" stroke-width="0.6"/>
<rect x="267.00" y="24.75" width="195.80" height="142.60" fill="none" stroke="#2b2b2b" stroke-width="1.0"/>
<line x1="264.00" y1="155.00" x2="267.00" y2="155.00" stroke="#2b2b2b" stroke-width="0.9"/>
<text x="0.00" y="0.00" font-size="8.0" text-anchor="end" font-weight="normal" font-style="normal" fill="#1a1a1a" font-family='"Liberation Sans", sans-serif' transform="translate(261.60 157.85) scale(0.875 1)">120</text>
<line x1="264.00" y1="135.45" x2="267.00" y2="135.45" stroke="#2b2b2b" stroke-width="0.9"/>
<text x="0.00" y="0.00" font-size="8.0" text-anchor="end" font-weight="normal" font-style="normal" fill="#1a1a1a" font-family='"Liberation Sans", sans-serif' transform="translate(261.60 138.30) scale(0.875 1)">140</text>
<line x1="264.00" y1="115.90" x2="267.00" y2="115.90" stroke="#2b2b2b" stroke-width="0.9"/>
<text x="0.00" y="0.00" font-size="8.0" text-anchor="end" font-weight="normal" font-style="normal" fill="#1a1a1a" font-family='"Liberation Sans", sans-serif' transform="translate(261.60 118.75) scale(0.875 1)">160</text>
<line x1="264.00" y1="96.35" x2="267.00" y2="96.35" stroke="#2b2b2b" stroke-width="0.9"/>
<text x="0.00" y="0.00" font-size="8.0" text-anchor="end" font-weight="normal" font-style="normal" fill="#1a1a1a" font-family='"Liberation Sans", sans-serif' transform="translate(261.60 99.20) scale(0.875 1)">180</text>
<line x1="264.00" y1="76.80" x2="267.00" y2="76.80" stroke="#2b2b2b" stroke-width="0.9"/>
<text x="0.00" y="0.00" font-size="8.0" text-anchor="end" font-weight="normal" font-style="normal" fill="#1a1a1a" font-family='"Liberation Sans", sans-serif' transform="translate(261.60 79.65) scale(0.875 1)">200</text>
<line x1="264.00" y1="57.25" x2="267.00" y2="57.25" stroke="#2b2b2b" stroke-width="0.9"/>
<text x="0.00" y="0.00" font-size="8.0" text-anchor="end" font-weight="normal" font-style="normal" fill="#1a1a1a" font-family='"Liberation Sans", sans-serif' transform="translate(261.60 60.10) scale(0.875 1)">220</text>
<line x1="264.00" y1="37.70" x2="267.00" y2="37.70" stroke="#2b2b2b" stroke-width="0.9"/>
<text x="0.00" y="0.00" font-size="8.0" text-anchor="end" font-weight="normal" font-style="normal" fill="#1a1a1a" font-family='"Liberation Sans", sans-serif' transform="translate(261.60 40.55) scale(0.875 1)">240</text>
<line x1="275.90" y1="167.35" x2="275.90" y2="170.65" stroke="#2b2b2b" stroke-width="0.9"/>
<text x="0.00" y="0.00" font-size="8.0" text-anchor="middle" font-weight="normal" font-style="normal" fill="#1a1a1a" font-family='"Liberation Sans", sans-serif' transform="translate(275.90 178.35) scale(0.875 1)">0</text>
<line x1="313.05" y1="167.35" x2="313.05" y2="170.65" stroke="#2b2b2b" stroke-width="0.9"/>
<text x="0.00" y="0.00" font-size="8.0" text-anchor="middle" font-weight="normal" font-style="normal" fill="#1a1a1a" font-family='"Liberation Sans", sans-serif' transform="translate(313.05 178.35) scale(0.875 1)">100</text>
<line x1="350.20" y1="167.35" x2="350.20" y2="170.65" stroke="#2b2b2b" stroke-width="0.9"/>
<text x="0.00" y="0.00" font-size="8.0" text-anchor="middle" font-weight="normal" font-style="normal" fill="#1a1a1a" font-family='"Liberation Sans", sans-serif' transform="translate(350.20 178.35) scale(0.875 1)">200</text>
<line x1="387.35" y1="167.35" x2="387.35" y2="170.65" stroke="#2b2b2b" stroke-width="0.9"/>
<text x="0.00" y="0.00" font-size="8.0" text-anchor="middle" font-weight="normal" font-style="normal" fill="#1a1a1a" font-family='"Liberation Sans", sans-serif' transform="translate(387.35 178.35) scale(0.875 1)">300</text>
<line x1="424.50" y1="167.35" x2="424.50" y2="170.65" stroke="#2b2b2b" stroke-width="0.9"/>
<text x="0.00" y="0.00" font-size="8.0" text-anchor="middle" font-weight="normal" font-style="normal" fill="#1a1a1a" font-family='"Liberation Sans", sans-serif' transform="translate(424.50 178.35) scale(0.875 1)">400</text>
<line x1="461.65" y1="167.35" x2="461.65" y2="170.65" stroke="#2b2b2b" stroke-width="0.9"/>
<text x="0.00" y="0.00" font-size="8.0" text-anchor="middle" font-weight="normal" font-style="normal" fill="#1a1a1a" font-family='"Liberation Sans", sans-serif' transform="translate(461.65 178.35) scale(0.875 1)">500</text>
<text x="365.30" y="191.90" font-size="11" text-anchor="middle" font-weight="normal" font-style="normal" fill="#111" font-family='"Liberation Sans", sans-serif'>Time, <tspan font-style="italic">t</tspan> (minutes)</text>
<text x="243.40" y="96.00" font-size="11" text-anchor="middle" font-weight="normal" font-style="normal" fill="#111" font-family='"Liberation Sans", sans-serif' transform="rotate(-90 243.40 96.00)">Conductance, <tspan font-style="italic">G</tspan> (μS)</text>
<text x="286.60" y="142.60" font-size="8.3" text-anchor="start" font-weight="normal" font-style="italic" fill="#111" font-family='"Liberation Serif", serif' stroke="#111" stroke-width="0.12">G</text>
<text x="292.20" y="144.30" font-size="6.7" text-anchor="start" font-weight="normal" font-style="italic" fill="#111" font-family='"Liberation Serif", serif' stroke="#111" stroke-width="0.12">OFF</text>
<text x="426.40" y="54.00" font-size="8.3" text-anchor="start" font-weight="normal" font-style="italic" fill="#111" font-family='"Liberation Serif", serif' stroke="#111" stroke-width="0.12">G</text>
<text x="432.00" y="55.60" font-size="6.7" text-anchor="start" font-weight="normal" font-style="italic" fill="#111" font-family='"Liberation Serif", serif' stroke="#111" stroke-width="0.12">ON</text>
<rect x="270.5" y="28.4" width="72.7" height="56.6" rx="2" ry="2" fill="#fff" fill-opacity="0.85" stroke="#d8d8d8" stroke-width="0.8"/>
<text x="307.90" y="36.60" font-size="7.0" text-anchor="middle" font-weight="normal" font-style="italic" fill="#111" font-family='"Liberation Sans", sans-serif'>G<tspan font-size="4.6" dy="1.2">req</tspan></text>
<line x1="281.10" y1="43.10" x2="281.10" y2="48.30" stroke="#5555dd" stroke-width="0.6"/>
<circle cx="281.1" cy="45.70" r="2.0" fill="#8888ff" stroke="#5555dd" stroke-width="0.5"/>
<text x="294.00" y="48.30" font-size="7.3" text-anchor="start" font-weight="normal" font-style="normal" fill="#111" font-family='"Liberation Sans", sans-serif'>133 μS (<tspan font-style="italic">G</tspan><tspan font-size="4.8" dy="1.3" font-style="italic">OFF</tspan><tspan dy="-1.3">)</tspan></text>
<line x1="281.10" y1="53.75" x2="281.10" y2="58.95" stroke="#aaaaaa" stroke-width="0.6"/>
<circle cx="281.1" cy="56.35" r="2.0" fill="#dddddd" stroke="#aaaaaa" stroke-width="0.5"/>
<text x="294.00" y="58.95" font-size="7.3" text-anchor="start" font-weight="normal" font-style="normal" fill="#111" font-family='"Liberation Sans", sans-serif'>167 μS</text>
<line x1="281.10" y1="64.40" x2="281.10" y2="69.60" stroke="#aaaaaa" stroke-width="0.6"/>
<circle cx="281.1" cy="67.00" r="2.0" fill="#dddddd" stroke="#aaaaaa" stroke-width="0.5"/>
<text x="294.00" y="69.60" font-size="7.3" text-anchor="start" font-weight="normal" font-style="normal" fill="#111" font-family='"Liberation Sans", sans-serif'>200 μS</text>
<line x1="281.10" y1="75.05" x2="281.10" y2="80.25" stroke="#dd6666" stroke-width="0.6"/>
<circle cx="281.1" cy="77.65" r="2.0" fill="#ff9999" stroke="#dd6666" stroke-width="0.5"/>
<text x="294.00" y="80.25" font-size="7.3" text-anchor="start" font-weight="normal" font-style="normal" fill="#111" font-family='"Liberation Sans", sans-serif'>233 μS (<tspan font-style="italic">G</tspan><tspan font-size="4.8" dy="1.3" font-style="italic">ON</tspan><tspan dy="-1.3">)</tspan></text>
<line x1="509.65" y1="87.70" x2="604.95" y2="87.70" stroke="#e6e6e6" stroke-width="0.8"/>
<line x1="609.45" y1="87.70" x2="680.40" y2="87.70" stroke="#e6e6e6" stroke-width="0.8"/>
<line x1="601.00" y1="23.55" x2="601.00" y2="166.20" stroke="#e6e6e6" stroke-width="0.8"/>
<line x1="612.00" y1="23.55" x2="612.00" y2="166.20" stroke="#e6e6e6" stroke-width="0.8"/>
<path d="M601.00,87.70 L597.91,87.69 L593.52,87.67 L588.38,87.65 L583.03,87.64 L578.01,87.65 L573.88,87.70 L570.61,87.78 L567.75,87.89 L565.24,88.02 L562.98,88.16 L560.88,88.32 L558.88,88.48 L557.10,88.66 L555.65,88.85 L554.37,89.04 L553.10,89.25 L551.70,89.47 L550.00,89.69 L547.85,89.92 L545.34,90.17 L542.69,90.42 L540.12,90.67 L537.85,90.91 L536.10,91.12 L534.97,91.24 L534.27,91.23 L533.88,91.21 L533.65,91.29 L533.44,91.56 L533.10,92.12 L532.65,93.01 L532.21,94.13 L531.78,95.44 L531.38,96.91 L531.03,98.49 L530.73,100.12 L530.54,101.85 L530.44,103.72 L530.39,105.69 L530.33,107.74 L530.19,109.85 L529.92,112.00 L529.53,114.18 L529.07,116.40 L528.54,118.68 L527.93,121.03 L527.25,123.47 L526.50,126.00 L525.66,128.66 L524.72,131.46 L523.72,134.34 L522.66,137.25 L521.58,140.16 L520.50,143.00 L519.32,145.98 L518.01,149.18 L516.67,152.36 L515.42,155.31 L514.36,157.80 L513.60,159.60" fill="none" stroke="#ff2a2a" stroke-width="0.55" stroke-opacity="0.7" stroke-linejoin="round" stroke-linecap="round"/>
<path d="M601.00,87.70 L597.63,87.69 L592.83,87.67 L587.20,87.64 L581.38,87.63 L575.95,87.65 L571.53,87.70 L568.10,87.79 L565.15,87.91 L562.60,88.06 L560.37,88.23 L558.38,88.42 L556.53,88.62 L555.01,88.83 L553.90,89.04 L553.03,89.27 L552.21,89.53 L551.26,89.84 L550.00,90.20 L548.30,90.65 L546.29,91.20 L544.15,91.80 L542.06,92.39 L540.20,92.91 L538.75,93.33 L537.77,93.54 L537.13,93.56 L536.72,93.52 L536.43,93.56 L536.14,93.78 L535.75,94.33 L535.28,95.24 L534.83,96.41 L534.39,97.79 L533.93,99.28 L533.46,100.82 L532.95,102.33 L532.39,103.79 L531.79,105.27 L531.17,106.79 L530.55,108.39 L529.94,110.12 L529.38,112.00 L528.90,114.05 L528.48,116.23 L528.09,118.54 L527.67,120.95 L527.15,123.44 L526.50,126.00 L525.69,128.66 L524.76,131.46 L523.75,134.34 L522.68,137.25 L521.59,140.16 L520.50,143.00 L519.32,145.98 L518.01,149.18 L516.67,152.36 L515.42,155.31 L514.36,157.80 L513.60,159.60" fill="none" stroke="#ff2a2a" stroke-width="0.55" stroke-opacity="0.7" stroke-linejoin="round" stroke-linecap="round"/>
<path d="M601.00,87.70 L597.81,87.68 L593.28,87.65 L587.98,87.61 L582.46,87.60 L577.31,87.62 L573.08,87.70 L569.75,87.83 L566.87,88.01 L564.34,88.22 L562.09,88.47 L560.03,88.76 L558.08,89.10 L556.31,89.46 L554.80,89.86 L553.49,90.30 L552.29,90.79 L551.16,91.35 L550.00,91.99 L548.83,92.79 L547.69,93.75 L546.60,94.77 L545.59,95.78 L544.66,96.66 L543.84,97.32 L543.17,97.66 L542.66,97.72 L542.22,97.66 L541.82,97.63 L541.38,97.80 L540.84,98.32 L540.23,99.28 L539.59,100.56 L538.92,102.03 L538.20,103.57 L537.42,105.04 L536.55,106.32 L535.54,107.31 L534.39,108.08 L533.18,108.79 L531.97,109.58 L530.86,110.60 L529.91,112.00 L529.19,113.82 L528.63,115.94 L528.17,118.29 L527.71,120.80 L527.18,123.40 L526.50,126.00 L525.66,128.66 L524.72,131.46 L523.72,134.34 L522.66,137.25 L521.58,140.16 L520.50,143.00 L519.32,145.98 L518.01,149.18 L516.67,152.36 L515.42,155.31 L514.36,157.80 L513.60,159.60" fill="none" stroke="#ff2a2a" stroke-width="0.55" stroke-opacity="0.7" stroke-linejoin="round" stroke-linecap="round"/>
<path d="M601.00,87.70 L597.87,87.68 L593.41,87.65 L588.20,87.61 L582.77,87.60 L577.69,87.62 L573.52,87.70 L570.22,87.83 L567.35,88.00 L564.83,88.21 L562.58,88.46 L560.50,88.75 L558.52,89.08 L556.71,89.44 L555.15,89.82 L553.77,90.25 L552.49,90.73 L551.26,91.28 L550.00,91.91 L548.69,92.69 L547.37,93.64 L546.10,94.65 L544.90,95.63 L543.82,96.50 L542.89,97.16 L542.17,97.49 L541.63,97.55 L541.21,97.48 L540.83,97.46 L540.41,97.63 L539.89,98.16 L539.28,99.11 L538.65,100.38 L537.98,101.85 L537.27,103.39 L536.50,104.87 L535.67,106.16 L534.71,107.16 L533.63,107.96 L532.49,108.70 L531.37,109.53 L530.34,110.58 L529.47,112.00 L528.83,113.83 L528.36,115.95 L527.98,118.30 L527.60,120.81 L527.13,123.40 L526.50,126.00 L525.69,128.66 L524.76,131.46 L523.75,134.34 L522.68,137.25 L521.59,140.16 L520.50,143.00 L519.32,145.98 L518.01,149.18 L516.67,152.36 L515.42,155.31 L514.36,157.80 L513.60,159.60" fill="none" stroke="#ff2a2a" stroke-width="0.55" stroke-opacity="0.7" stroke-linejoin="round" stroke-linecap="round"/>
<path d="M601.00,87.70 L597.91,87.69 L593.52,87.67 L588.38,87.66 L583.03,87.65 L578.01,87.66 L573.88,87.70 L570.61,87.77 L567.75,87.87 L565.24,87.99 L562.98,88.12 L560.88,88.26 L558.88,88.39 L557.11,88.54 L555.67,88.69 L554.41,88.86 L553.15,89.02 L551.73,89.19 L550.00,89.36 L547.77,89.52 L545.15,89.68 L542.38,89.84 L539.68,90.01 L537.31,90.17 L535.49,90.34 L534.32,90.42 L533.61,90.41 L533.22,90.40 L533.00,90.48 L532.81,90.76 L532.49,91.34 L532.07,92.21 L531.68,93.31 L531.30,94.61 L530.96,96.06 L530.66,97.65 L530.40,99.34 L530.22,101.16 L530.14,103.16 L530.10,105.29 L530.04,107.51 L529.92,109.76 L529.67,112.00 L529.32,114.22 L528.90,116.46 L528.41,118.73 L527.86,121.06 L527.22,123.48 L526.50,126.00 L525.67,128.66 L524.74,131.46 L523.73,134.34 L522.67,137.25 L521.58,140.16 L520.50,143.00 L519.32,145.98 L518.01,149.18 L516.67,152.36 L515.42,155.31 L514.36,157.80 L513.60,159.60" fill="none" stroke="#ff2a2a" stroke-width="0.55" stroke-opacity="0.7" stroke-linejoin="round" stroke-linecap="round"/>
<path d="M601.00,87.70 L597.63,87.69 L592.82,87.65 L587.20,87.62 L581.37,87.60 L575.94,87.63 L571.52,87.70 L568.09,87.82 L565.14,87.99 L562.59,88.18 L560.36,88.41 L558.37,88.68 L556.52,88.99 L554.95,89.31 L553.74,89.67 L552.76,90.05 L551.90,90.49 L551.02,90.99 L550.00,91.57 L548.81,92.31 L547.55,93.19 L546.27,94.14 L545.04,95.07 L543.92,95.89 L542.98,96.52 L542.26,96.83 L541.72,96.88 L541.29,96.83 L540.90,96.81 L540.49,96.99 L539.98,97.52 L539.41,98.46 L538.85,99.72 L538.26,101.17 L537.61,102.70 L536.88,104.19 L536.03,105.52 L534.99,106.60 L533.76,107.51 L532.44,108.38 L531.14,109.34 L529.97,110.50 L529.02,112.00 L528.38,113.86 L527.98,116.00 L527.70,118.34 L527.43,120.83 L527.07,123.41 L526.50,126.00 L525.71,128.66 L524.79,131.46 L523.77,134.34 L522.70,137.25 L521.59,140.16 L520.50,143.00 L519.32,145.98 L518.01,149.18 L516.67,152.36 L515.42,155.31 L514.36,157.80 L513.60,159.60" fill="none" stroke="#ff2a2a" stroke-width="0.55" stroke-opacity="0.7" stroke-linejoin="round" stroke-linecap="round"/>
<path d="M601.00,87.70 L598.22,87.69 L594.28,87.66 L589.65,87.63 L584.82,87.62 L580.26,87.63 L576.43,87.70 L573.34,87.81 L570.59,87.96 L568.11,88.13 L565.81,88.34 L563.61,88.57 L561.43,88.83 L559.30,89.12 L557.28,89.42 L555.37,89.75 L553.54,90.12 L551.75,90.54 L550.00,91.01 L548.23,91.58 L546.45,92.26 L544.72,92.99 L543.11,93.70 L541.68,94.34 L540.49,94.83 L539.62,95.08 L539.02,95.11 L538.61,95.07 L538.28,95.08 L537.94,95.29 L537.49,95.83 L536.96,96.75 L536.44,97.97 L535.91,99.38 L535.34,100.89 L534.71,102.40 L534.02,103.83 L533.19,105.11 L532.23,106.32 L531.21,107.54 L530.22,108.84 L529.32,110.30 L528.59,112.00 L528.09,113.96 L527.79,116.12 L527.58,118.45 L527.36,120.90 L527.04,123.43 L526.50,126.00 L525.74,128.66 L524.82,131.46 L523.80,134.34 L522.71,137.25 L521.60,140.16 L520.50,143.00 L519.32,145.98 L518.01,149.18 L516.67,152.36 L515.42,155.31 L514.36,157.80 L513.60,159.60" fill="none" stroke="#ff2a2a" stroke-width="0.55" stroke-opacity="0.7" stroke-linejoin="round" stroke-linecap="round"/>
<path d="M601.00,87.70 L598.22,87.69 L594.28,87.65 L589.65,87.62 L584.82,87.60 L580.26,87.63 L576.43,87.70 L573.34,87.82 L570.59,87.98 L568.11,88.18 L565.81,88.41 L563.62,88.68 L561.43,88.98 L559.28,89.32 L557.24,89.68 L555.29,90.07 L553.44,90.51 L551.67,91.01 L550.00,91.56 L548.39,92.24 L546.85,93.04 L545.40,93.89 L544.07,94.72 L542.88,95.46 L541.85,96.02 L541.07,96.31 L540.51,96.35 L540.09,96.30 L539.73,96.30 L539.35,96.49 L538.85,97.02 L538.28,97.96 L537.70,99.21 L537.09,100.65 L536.43,102.17 L535.72,103.67 L534.92,105.02 L533.97,106.16 L532.87,107.16 L531.71,108.14 L530.58,109.19 L529.55,110.44 L528.72,112.00 L528.17,113.89 L527.83,116.04 L527.60,118.37 L527.37,120.85 L527.04,123.41 L526.50,126.00 L525.73,128.66 L524.81,131.46 L523.79,134.34 L522.71,137.25 L521.60,140.16 L520.50,143.00 L519.32,145.98 L518.01,149.18 L516.67,152.36 L515.42,155.31 L514.36,157.80 L513.60,159.60" fill="none" stroke="#ff2a2a" stroke-width="0.55" stroke-opacity="0.7" stroke-linejoin="round" stroke-linecap="round"/>
<path d="M601.00,87.70 L598.28,87.69 L594.43,87.66 L589.91,87.64 L585.19,87.62 L580.72,87.64 L576.95,87.70 L573.89,87.80 L571.17,87.93 L568.70,88.09 L566.39,88.28 L564.17,88.49 L561.95,88.72 L559.77,88.95 L557.69,89.20 L555.70,89.47 L553.77,89.77 L551.88,90.13 L550.00,90.56 L548.06,91.11 L546.07,91.78 L544.12,92.50 L542.29,93.21 L540.67,93.84 L539.35,94.33 L538.41,94.57 L537.79,94.61 L537.38,94.56 L537.08,94.58 L536.77,94.79 L536.35,95.33 L535.86,96.25 L535.37,97.45 L534.89,98.85 L534.38,100.35 L533.84,101.87 L533.25,103.33 L532.57,104.67 L531.81,105.97 L531.01,107.29 L530.22,108.69 L529.49,110.24 L528.86,112.00 L528.39,113.99 L528.06,116.16 L527.78,118.48 L527.48,120.91 L527.08,123.43 L526.50,126.00 L525.72,128.66 L524.80,131.46 L523.78,134.34 L522.70,137.25 L521.59,140.16 L520.50,143.00 L519.32,145.98 L518.01,149.18 L516.67,152.36 L515.42,155.31 L514.36,157.80 L513.60,159.60" fill="none" stroke="#ff2a2a" stroke-width="0.55" stroke-opacity="0.7" stroke-linejoin="round" stroke-linecap="round"/>
<path d="M601.00,87.70 L597.72,87.69 L593.05,87.66 L587.58,87.64 L581.91,87.63 L576.61,87.64 L572.29,87.70 L568.90,87.80 L565.99,87.93 L563.45,88.09 L561.21,88.27 L559.18,88.47 L557.29,88.69 L555.66,88.93 L554.39,89.18 L553.34,89.45 L552.35,89.76 L551.29,90.10 L550.00,90.48 L548.39,90.94 L546.57,91.49 L544.66,92.07 L542.82,92.64 L541.17,93.16 L539.86,93.57 L538.95,93.77 L538.34,93.79 L537.92,93.76 L537.60,93.79 L537.28,94.02 L536.86,94.57 L536.37,95.48 L535.90,96.66 L535.42,98.04 L534.93,99.53 L534.41,101.07 L533.83,102.57 L533.19,104.00 L532.47,105.43 L531.73,106.91 L530.98,108.46 L530.27,110.15 L529.62,112.00 L529.07,114.03 L528.60,116.22 L528.17,118.53 L527.71,120.94 L527.17,123.44 L526.50,126.00 L525.68,128.66 L524.75,131.46 L523.74,134.34 L522.67,137.25 L521.59,140.16 L520.50,143.00 L519.32,145.98 L518.01,149.18 L516.67,152.36 L515.42,155.31 L514.36,157.80 L513.60,159.60" fill="none" stroke="#ff2a2a" stroke-width="0.55" stroke-opacity="0.7" stroke-linejoin="round" stroke-linecap="round"/>
<path d="M601.00,87.70 L598.28,87.69 L594.42,87.67 L589.90,87.65 L585.18,87.64 L580.70,87.65 L576.93,87.70 L573.87,87.79 L571.15,87.90 L568.68,88.04 L566.37,88.21 L564.15,88.38 L561.93,88.57 L559.77,88.78 L557.74,89.00 L555.79,89.25 L553.88,89.50 L551.97,89.76 L550.00,90.01 L547.88,90.27 L545.62,90.53 L543.35,90.80 L541.20,91.07 L539.31,91.32 L537.81,91.54 L536.78,91.66 L536.12,91.66 L535.71,91.64 L535.44,91.71 L535.18,91.98 L534.81,92.54 L534.35,93.43 L533.91,94.56 L533.47,95.89 L533.04,97.36 L532.61,98.93 L532.17,100.54 L531.72,102.22 L531.28,104.01 L530.83,105.90 L530.38,107.86 L529.92,109.90 L529.45,112.00 L529.01,114.15 L528.60,116.37 L528.18,118.65 L527.72,121.02 L527.17,123.46 L526.50,126.00 L525.69,128.66 L524.76,131.46 L523.75,134.34 L522.68,137.25 L521.59,140.16 L520.50,143.00 L519.32,145.98 L518.01,149.18 L516.67,152.36 L515.42,155.31 L514.36,157.80 L513.60,159.60" fill="none" stroke="#ff2a2a" stroke-width="0.55" stroke-opacity="0.7" stroke-linejoin="round" stroke-linecap="round"/>
<path d="M601.00,87.70 L597.95,87.68 L593.63,87.65 L588.56,87.62 L583.28,87.60 L578.33,87.62 L574.24,87.70 L571.00,87.83 L568.16,88.00 L565.65,88.20 L563.38,88.44 L561.27,88.72 L559.24,89.04 L557.33,89.39 L555.62,89.78 L554.07,90.21 L552.64,90.68 L551.29,91.20 L550.00,91.78 L548.76,92.48 L547.61,93.30 L546.55,94.18 L545.57,95.04 L544.69,95.79 L543.88,96.37 L543.21,96.67 L542.69,96.71 L542.26,96.66 L541.85,96.65 L541.41,96.84 L540.88,97.37 L540.30,98.32 L539.72,99.57 L539.12,101.02 L538.44,102.55 L537.67,104.04 L536.77,105.37 L535.64,106.47 L534.29,107.41 L532.84,108.31 L531.42,109.30 L530.13,110.48 L529.10,112.00 L528.42,113.87 L527.99,116.01 L527.70,118.35 L527.43,120.84 L527.07,123.41 L526.50,126.00 L525.71,128.66 L524.78,131.46 L523.77,134.34 L522.69,137.25 L521.59,140.16 L520.50,143.00 L519.32,145.98 L518.01,149.18 L516.67,152.36 L515.42,155.31 L514.36,157.80 L513.60,159.60" fill="none" stroke="#ff2a2a" stroke-width="0.55" stroke-opacity="0.7" stroke-linejoin="round" stroke-linecap="round"/>
<path d="M532.80,92.50 L532.57,94.16 L532.27,96.43 L531.90,99.12 L531.48,102.07 L531.01,105.09 L530.50,108.00 L529.95,110.87 L529.37,113.85 L528.73,116.91 L528.04,119.98 L527.30,123.03 L526.50,126.00 L525.63,128.90 L524.68,131.76 L523.68,134.59 L522.64,137.40 L521.58,140.20 L520.50,143.00 L519.32,145.98 L518.01,149.18 L516.67,152.36 L515.42,155.31 L514.36,157.80 L513.60,159.60" fill="none" stroke="#f21111" stroke-width="1.5" stroke-opacity="1.0" stroke-linejoin="round" stroke-linecap="round"/>
<path d="M601.00,87.70 L597.96,87.67 L593.59,87.61 L588.50,87.54 L583.30,87.51 L578.59,87.56 L575.00,87.70 L572.61,87.94 L570.96,88.24 L569.80,88.62 L568.91,89.07 L568.06,89.59 L567.00,90.20 L565.79,90.91 L564.62,91.73 L563.49,92.62 L562.38,93.57 L561.28,94.54 L560.20,95.50 L559.13,96.45 L558.08,97.41 L557.05,98.39 L556.03,99.41 L555.01,100.48 L554.00,101.60 L552.99,102.78 L552.00,104.02 L551.01,105.30 L550.02,106.63 L549.02,107.99 L548.00,109.40 L546.96,110.86 L545.90,112.39 L544.82,113.96 L543.75,115.54 L542.67,117.13 L541.60,118.70 L540.58,120.17 L539.63,121.56 L538.68,122.94 L537.66,124.42 L536.52,126.07 L535.20,128.00 L533.65,130.26 L531.93,132.79 L530.08,135.49 L528.16,138.29 L526.25,141.09 L524.40,143.80 L522.48,146.62 L520.40,149.65 L518.32,152.69 L516.40,155.50 L514.77,157.88 L513.60,159.60" fill="none" stroke="#f21111" stroke-width="1.5" stroke-opacity="1.0" stroke-linejoin="round" stroke-linecap="round"/>
<path d="M510.0,156.4 Q511.6,162.6 517.6,163.5" fill="none" stroke="#000" stroke-width="1.3"/>
<polygon points="516.4,160.7 522.6,163.8 516.6,166.6" fill="#000"/>
<text x="525.30" y="156.40" font-size="8.8" text-anchor="start" font-weight="bold" font-style="normal" fill="#f21111" font-family='"Liberation Sans", sans-serif'>SET</text>
<path d="M612.00,87.70 L613.52,86.70 L615.70,85.25 L617.88,83.63 L619.83,81.91 L621.79,80.01 L623.75,78.02 L625.71,75.97 L627.67,73.84 L629.63,71.64 L631.58,69.38 L633.54,67.06 L635.50,64.69 L637.46,62.27 L639.42,59.79 L641.38,57.28 L643.33,54.73 L645.29,52.13 L647.25,49.50 L649.21,46.83 L651.17,44.12 L653.13,41.38 L655.15,38.01 L657.18,34.60 L659.00,32.96 L660.44,34.28 L661.68,37.37 L663.03,40.46 L664.73,42.85 L666.53,45.24 L668.06,48.00 L669.02,51.37 L669.69,55.10 L670.61,58.78 L672.39,62.53 L674.41,66.22 L675.32,69.12 L674.30,70.75 L672.17,71.59 L670.04,72.30 L668.29,73.05 L666.53,73.67 L664.77,74.26 L663.01,74.79 L661.25,75.29 L659.49,75.95 L657.73,76.94 L655.97,78.08 L654.21,79.03 L652.46,79.60 L650.70,79.98 L648.94,80.40 L647.18,80.95 L645.42,81.54 L643.66,82.11 L641.90,82.64 L640.14,83.14 L638.38,83.62 L636.62,84.08 L634.87,84.52 L633.11,84.93 L631.35,85.32 L629.59,85.68 L627.83,86.02 L626.07,86.33 L624.31,86.61 L622.55,86.87 L620.79,87.09 L619.04,87.29 L617.28,87.45 L615.32,87.57 L613.37,87.65 L612.00,87.70" fill="none" stroke="#3030ff" stroke-width="0.5" stroke-opacity="0.6" stroke-linejoin="round" stroke-linecap="round"/>
<path d="M612.00,87.70 L613.51,86.70 L615.68,85.24 L617.84,83.60 L619.78,81.87 L621.73,79.96 L623.68,77.96 L625.62,75.89 L627.57,73.74 L629.52,71.53 L631.46,69.25 L633.41,66.92 L635.35,64.53 L637.30,62.09 L639.25,59.60 L641.19,57.07 L643.14,54.50 L645.08,51.89 L647.03,49.23 L648.98,46.55 L650.92,43.82 L652.87,41.06 L654.86,37.82 L656.85,34.55 L658.71,32.59 L660.29,32.76 L661.74,34.25 L663.31,35.92 L665.17,37.26 L667.15,38.79 L668.94,40.87 L670.33,43.91 L671.54,47.51 L672.85,50.83 L674.79,53.63 L676.84,56.16 L677.74,58.37 L676.69,60.16 L674.48,61.62 L672.27,62.94 L670.44,64.08 L668.61,65.08 L666.79,66.22 L664.96,67.71 L663.13,69.35 L661.31,70.80 L659.48,71.84 L657.66,72.69 L655.83,73.58 L654.00,74.62 L652.18,75.70 L650.35,76.72 L648.52,77.67 L646.70,78.56 L644.87,79.41 L643.05,80.23 L641.22,81.02 L639.39,81.76 L637.57,82.46 L635.74,83.12 L633.91,83.74 L632.09,84.33 L630.26,84.86 L628.44,85.36 L626.61,85.81 L624.78,86.22 L622.96,86.58 L621.13,86.90 L619.30,87.17 L617.48,87.38 L615.45,87.54 L613.42,87.64 L612.00,87.70" fill="none" stroke="#3030ff" stroke-width="0.5" stroke-opacity="0.6" stroke-linejoin="round" stroke-linecap="round"/>
<path d="M612.00,87.70 L613.55,86.67 L615.77,85.17 L617.99,83.50 L619.99,81.72 L621.98,79.76 L623.98,77.71 L625.98,75.60 L627.97,73.39 L629.97,71.12 L631.97,68.79 L633.96,66.40 L635.96,63.95 L637.96,61.45 L639.95,58.90 L641.95,56.31 L643.95,53.67 L645.94,50.99 L647.94,48.27 L649.94,45.52 L651.93,42.72 L653.93,39.89 L656.00,36.39 L658.08,32.85 L659.92,31.21 L661.40,32.76 L662.66,36.21 L663.82,39.62 L664.90,42.25 L665.88,44.84 L666.90,47.71 L667.97,51.01 L669.06,54.58 L670.26,58.22 L671.95,62.15 L673.74,66.14 L674.48,69.32 L673.44,71.19 L671.36,72.25 L669.27,73.15 L667.54,74.04 L665.80,74.77 L664.07,75.55 L662.33,76.45 L660.59,77.40 L658.86,78.36 L657.12,79.38 L655.39,80.41 L653.65,81.29 L651.92,81.90 L650.18,82.36 L648.45,82.82 L646.71,83.35 L644.98,83.87 L643.24,84.36 L641.50,84.80 L639.77,85.20 L638.03,85.57 L636.30,85.90 L634.56,86.20 L632.83,86.47 L631.09,86.71 L629.36,86.91 L627.62,87.09 L625.88,87.25 L624.15,87.37 L622.41,87.48 L620.68,87.56 L618.94,87.62 L617.21,87.66 L615.28,87.68 L613.35,87.69 L612.00,87.70" fill="none" stroke="#3030ff" stroke-width="0.5" stroke-opacity="0.6" stroke-linejoin="round" stroke-linecap="round"/>
<path d="M612.00,87.70 L613.55,86.67 L615.76,85.18 L617.97,83.50 L619.96,81.72 L621.94,79.76 L623.93,77.72 L625.92,75.60 L627.91,73.40 L629.90,71.13 L631.89,68.80 L633.88,66.40 L635.87,63.96 L637.85,61.46 L639.84,58.91 L641.83,56.32 L643.82,53.68 L645.81,51.00 L647.80,48.29 L649.79,45.53 L651.78,42.74 L653.77,39.91 L655.82,36.57 L657.88,33.20 L659.73,31.23 L661.21,31.62 L662.49,33.42 L663.86,35.17 L665.46,36.18 L667.15,37.14 L668.82,38.74 L670.47,41.53 L672.09,44.95 L673.58,48.12 L675.20,50.63 L676.67,52.87 L677.15,55.12 L676.01,57.57 L673.87,60.02 L671.72,62.21 L669.91,63.96 L668.10,65.44 L666.29,66.92 L664.48,68.49 L662.67,70.06 L660.86,71.59 L659.05,73.09 L657.24,74.55 L655.43,75.91 L653.62,77.16 L651.81,78.30 L650.00,79.36 L648.20,80.34 L646.39,81.23 L644.58,82.06 L642.77,82.82 L640.96,83.51 L639.15,84.14 L637.34,84.71 L635.53,85.22 L633.72,85.68 L631.91,86.08 L630.10,86.42 L628.29,86.72 L626.48,86.97 L624.67,87.18 L622.86,87.35 L621.05,87.48 L619.24,87.57 L617.43,87.64 L615.42,87.68 L613.41,87.69 L612.00,87.70" fill="none" stroke="#3030ff" stroke-width="0.5" stroke-opacity="0.6" stroke-linejoin="round" stroke-linecap="round"/>
<path d="M612.00,87.70 L613.58,86.65 L615.83,85.13 L618.08,83.43 L620.10,81.62 L622.13,79.63 L624.15,77.55 L626.18,75.40 L628.20,73.16 L630.23,70.85 L632.25,68.48 L634.28,66.04 L636.30,63.55 L638.33,61.02 L640.36,58.42 L642.38,55.79 L644.41,53.11 L646.43,50.38 L648.46,47.62 L650.48,44.82 L652.51,41.98 L654.53,39.10 L656.60,35.68 L658.67,32.23 L660.61,30.27 L662.37,30.74 L664.00,32.71 L665.49,34.90 L666.80,36.93 L667.96,39.18 L669.09,41.55 L670.19,43.99 L671.25,46.54 L672.32,49.22 L673.76,52.24 L675.20,55.40 L675.68,58.00 L674.56,59.64 L672.47,60.73 L670.38,61.83 L668.61,63.17 L666.84,64.51 L665.07,65.77 L663.30,66.85 L661.53,67.83 L659.76,68.87 L657.99,70.02 L656.22,71.23 L654.46,72.43 L652.69,73.62 L650.92,74.81 L649.15,75.92 L647.38,76.90 L645.61,77.79 L643.84,78.65 L642.07,79.50 L640.30,80.31 L638.53,81.08 L636.77,81.82 L635.00,82.52 L633.23,83.19 L631.46,83.81 L629.69,84.40 L627.92,84.95 L626.15,85.45 L624.38,85.91 L622.61,86.33 L620.84,86.70 L619.08,87.02 L617.31,87.28 L615.34,87.48 L613.38,87.61 L612.00,87.70" fill="none" stroke="#3030ff" stroke-width="0.5" stroke-opacity="0.6" stroke-linejoin="round" stroke-linecap="round"/>
<path d="M612.00,87.70 L613.52,86.70 L615.69,85.24 L617.86,83.61 L619.81,81.88 L621.77,79.98 L623.72,77.98 L625.68,75.92 L627.63,73.78 L629.58,71.57 L631.54,69.30 L633.49,66.97 L635.44,64.59 L637.40,62.16 L639.35,59.68 L641.30,57.15 L643.26,54.59 L645.21,51.98 L647.16,49.34 L649.12,46.65 L651.07,43.94 L653.03,41.18 L655.04,37.74 L657.06,34.25 L658.89,32.73 L660.35,34.57 L661.63,38.36 L662.99,41.93 L664.59,44.31 L666.28,46.46 L667.92,49.13 L669.47,52.81 L670.96,57.00 L672.32,60.92 L673.77,64.42 L675.09,67.65 L675.47,70.18 L674.33,71.70 L672.25,72.52 L670.18,73.22 L668.41,73.89 L666.65,74.44 L664.89,75.16 L663.13,76.28 L661.36,77.56 L659.60,78.64 L657.84,79.29 L656.07,79.74 L654.31,80.20 L652.55,80.78 L650.78,81.38 L649.02,81.96 L647.26,82.51 L645.50,83.03 L643.73,83.53 L641.97,83.99 L640.21,84.43 L638.44,84.84 L636.68,85.22 L634.92,85.57 L633.16,85.90 L631.39,86.20 L629.63,86.46 L627.87,86.71 L626.10,86.92 L624.34,87.11 L622.58,87.27 L620.81,87.41 L619.05,87.51 L617.29,87.60 L615.33,87.65 L613.37,87.68 L612.00,87.70" fill="none" stroke="#3030ff" stroke-width="0.5" stroke-opacity="0.6" stroke-linejoin="round" stroke-linecap="round"/>
<path d="M612.00,87.70 L613.54,86.66 L615.75,85.15 L617.96,83.47 L619.94,81.67 L621.93,79.69 L623.91,77.63 L625.90,75.50 L627.89,73.27 L629.87,70.98 L631.86,68.63 L633.84,66.22 L635.83,63.75 L637.82,61.23 L639.80,58.66 L641.79,56.04 L643.77,53.38 L645.76,50.68 L647.74,47.94 L649.73,45.16 L651.72,42.34 L653.70,39.49 L655.75,36.13 L657.79,32.74 L659.66,30.73 L661.23,30.95 L662.62,32.55 L664.03,34.34 L665.49,35.92 L666.96,37.69 L668.51,39.70 L670.26,42.12 L672.08,44.78 L673.67,47.17 L675.15,49.01 L676.39,50.59 L676.70,52.26 L675.52,54.19 L673.41,56.20 L671.30,58.13 L669.51,59.90 L667.71,61.58 L665.91,63.17 L664.12,64.65 L662.32,66.04 L660.52,67.41 L658.72,68.76 L656.93,70.09 L655.13,71.40 L653.33,72.70 L651.54,73.99 L649.74,75.21 L647.94,76.34 L646.14,77.41 L644.35,78.43 L642.55,79.40 L640.75,80.32 L638.96,81.19 L637.16,82.00 L635.36,82.76 L633.57,83.47 L631.77,84.12 L629.97,84.73 L628.17,85.28 L626.38,85.77 L624.58,86.21 L622.78,86.59 L620.99,86.92 L619.19,87.20 L617.39,87.41 L615.39,87.56 L613.40,87.64 L612.00,87.70" fill="none" stroke="#3030ff" stroke-width="0.5" stroke-opacity="0.6" stroke-linejoin="round" stroke-linecap="round"/>
<path d="M612.00,87.70 L613.52,86.71 L615.69,85.28 L617.85,83.67 L619.80,81.96 L621.75,80.08 L623.71,78.11 L625.66,76.08 L627.61,73.97 L629.56,71.79 L631.51,69.55 L633.46,67.25 L635.41,64.90 L637.36,62.51 L639.31,60.06 L641.26,57.57 L643.22,55.04 L645.17,52.47 L647.12,49.86 L649.07,47.21 L651.02,44.53 L652.97,41.81 L654.97,38.57 L656.97,35.29 L658.82,33.48 L660.46,34.12 L661.95,36.23 L663.34,38.34 L664.63,39.82 L665.83,41.32 L667.01,43.28 L668.21,45.97 L669.38,49.14 L670.49,52.43 L671.81,56.08 L673.07,59.85 L673.43,62.79 L672.32,64.28 L670.31,64.94 L668.31,65.66 L666.60,66.77 L664.90,67.93 L663.19,69.04 L661.48,70.04 L659.78,70.97 L658.07,71.91 L656.36,72.86 L654.66,73.82 L652.95,74.79 L651.25,75.80 L649.54,76.81 L647.83,77.75 L646.13,78.58 L644.42,79.33 L642.71,80.05 L641.01,80.76 L639.30,81.44 L637.59,82.09 L635.89,82.71 L634.18,83.30 L632.48,83.86 L630.77,84.39 L629.06,84.89 L627.36,85.35 L625.65,85.78 L623.94,86.17 L622.24,86.52 L620.53,86.84 L618.83,87.11 L617.12,87.34 L615.22,87.51 L613.33,87.62 L612.00,87.70" fill="none" stroke="#3030ff" stroke-width="0.5" stroke-opacity="0.6" stroke-linejoin="round" stroke-linecap="round"/>
<path d="M612.00,87.70 L613.53,86.69 L615.71,85.22 L617.90,83.58 L619.87,81.83 L621.83,79.91 L623.80,77.90 L625.77,75.82 L627.73,73.65 L629.70,71.43 L631.67,69.14 L633.63,66.79 L635.60,64.38 L637.57,61.93 L639.53,59.43 L641.50,56.88 L643.47,54.29 L645.43,51.66 L647.40,48.99 L649.37,46.29 L651.33,43.54 L653.30,40.77 L655.40,37.38 L657.49,33.97 L659.20,32.24 L660.24,33.40 L660.90,36.24 L661.62,38.91 L662.57,40.63 L663.59,42.17 L664.59,44.05 L665.50,46.63 L666.38,49.55 L667.35,52.12 L668.77,54.05 L670.28,55.63 L670.85,57.15 L669.84,58.70 L667.90,60.20 L665.95,61.62 L664.31,62.96 L662.68,64.24 L661.04,65.45 L659.41,66.53 L657.77,67.54 L656.14,68.62 L654.51,69.89 L652.87,71.22 L651.24,72.41 L649.60,73.30 L647.97,74.03 L646.33,74.81 L644.70,75.72 L643.06,76.69 L641.43,77.63 L639.79,78.51 L638.16,79.36 L636.52,80.17 L634.89,80.96 L633.25,81.72 L631.62,82.43 L629.98,83.12 L628.35,83.77 L626.71,84.38 L625.08,84.95 L623.44,85.48 L621.81,85.96 L620.17,86.40 L618.54,86.80 L616.90,87.13 L615.09,87.38 L613.27,87.57 L612.00,87.70" fill="none" stroke="#3030ff" stroke-width="0.5" stroke-opacity="0.6" stroke-linejoin="round" stroke-linecap="round"/>
<path d="M612.00,87.70 L613.58,86.64 L615.83,85.11 L618.08,83.39 L620.10,81.57 L622.13,79.56 L624.15,77.46 L626.18,75.29 L628.20,73.03 L630.23,70.70 L632.25,68.31 L634.28,65.85 L636.30,63.34 L638.33,60.78 L640.35,58.16 L642.38,55.51 L644.40,52.80 L646.43,50.05 L648.45,47.26 L650.48,44.44 L652.50,41.57 L654.53,38.67 L656.69,35.15 L658.86,31.60 L660.61,29.77 L661.63,30.76 L662.24,33.47 L662.94,36.37 L663.91,38.89 L664.97,41.60 L666.09,44.55 L667.37,47.89 L668.71,51.47 L669.80,55.04 L670.68,58.66 L671.30,62.27 L671.22,65.29 L670.05,67.39 L668.17,68.90 L666.29,70.29 L664.64,71.68 L663.00,72.94 L661.35,74.11 L659.71,75.16 L658.06,76.12 L656.42,77.07 L654.77,78.07 L653.13,79.07 L651.48,79.96 L649.84,80.69 L648.19,81.32 L646.55,81.94 L644.90,82.58 L643.26,83.21 L641.61,83.79 L639.97,84.32 L638.32,84.79 L636.68,85.23 L635.03,85.62 L633.39,85.98 L631.74,86.29 L630.10,86.57 L628.45,86.81 L626.81,87.02 L625.16,87.19 L623.52,87.34 L621.87,87.45 L620.23,87.55 L618.58,87.61 L616.94,87.66 L615.11,87.68 L613.28,87.69 L612.00,87.70" fill="none" stroke="#3030ff" stroke-width="0.5" stroke-opacity="0.6" stroke-linejoin="round" stroke-linecap="round"/>
<path d="M612.00,87.70 L613.57,86.66 L615.82,85.15 L618.06,83.47 L620.08,81.67 L622.10,79.69 L624.12,77.63 L626.14,75.50 L628.16,73.27 L630.18,70.98 L632.20,68.63 L634.22,66.22 L636.24,63.75 L638.26,61.23 L640.28,58.66 L642.30,56.04 L644.32,53.39 L646.34,50.68 L648.35,47.94 L650.37,45.16 L652.39,42.35 L654.41,39.49 L656.55,36.06 L658.69,32.59 L660.47,30.74 L661.69,31.66 L662.56,34.20 L663.39,36.50 L664.26,37.86 L665.09,38.99 L665.89,40.11 L666.65,41.17 L667.39,42.22 L668.11,43.63 L669.07,45.57 L670.02,47.87 L670.20,50.40 L669.09,53.24 L667.22,56.31 L665.35,59.29 L663.73,62.13 L662.11,64.88 L660.50,67.38 L658.88,69.52 L657.26,71.41 L655.65,73.21 L654.03,74.99 L652.41,76.67 L650.80,78.15 L649.18,79.32 L647.56,80.29 L645.95,81.20 L644.33,82.11 L642.72,82.98 L641.10,83.75 L639.48,84.42 L637.87,85.00 L636.25,85.51 L634.63,85.95 L633.02,86.32 L631.40,86.64 L629.78,86.90 L628.17,87.11 L626.55,87.28 L624.93,87.42 L623.32,87.51 L621.70,87.59 L620.08,87.64 L618.47,87.67 L616.85,87.69 L615.05,87.70 L613.26,87.70 L612.00,87.70" fill="none" stroke="#3030ff" stroke-width="0.5" stroke-opacity="0.6" stroke-linejoin="round" stroke-linecap="round"/>
<path d="M612.00,87.70 L613.57,86.65 L615.80,85.14 L618.04,83.44 L620.05,81.63 L622.06,79.64 L624.08,77.56 L626.09,75.41 L628.10,73.18 L630.12,70.87 L632.13,68.51 L634.14,66.07 L636.15,63.59 L638.17,61.05 L640.18,58.46 L642.19,55.83 L644.20,53.16 L646.22,50.43 L648.23,47.68 L650.24,44.88 L652.26,42.04 L654.27,39.17 L656.32,35.74 L658.38,32.27 L660.31,30.35 L662.10,30.99 L663.77,33.18 L665.25,35.55 L666.41,37.59 L667.37,39.81 L668.49,42.34 L669.99,45.24 L671.65,48.45 L673.14,51.90 L674.64,55.87 L675.98,60.08 L676.37,63.64 L675.22,66.11 L673.11,67.93 L671.00,69.56 L669.22,71.10 L667.43,72.44 L665.64,73.76 L663.85,75.13 L662.06,76.48 L660.28,77.77 L658.49,79.04 L656.70,80.25 L654.91,81.26 L653.12,81.95 L651.34,82.44 L649.55,82.94 L647.76,83.54 L645.97,84.15 L644.18,84.70 L642.40,85.18 L640.61,85.60 L638.82,85.97 L637.03,86.29 L635.24,86.57 L633.46,86.81 L631.67,87.02 L629.88,87.19 L628.09,87.33 L626.30,87.44 L624.52,87.52 L622.73,87.59 L620.94,87.64 L619.15,87.67 L617.36,87.69 L615.38,87.70 L613.39,87.70 L612.00,87.70" fill="none" stroke="#3030ff" stroke-width="0.5" stroke-opacity="0.6" stroke-linejoin="round" stroke-linecap="round"/>
<path d="M612.00,87.70 L613.50,86.72 L615.63,85.30 L617.77,83.71 L619.69,82.02 L621.61,80.16 L623.53,78.21 L625.46,76.20 L627.38,74.11 L629.30,71.95 L631.22,69.74 L633.15,67.46 L635.07,65.13 L636.99,62.76 L638.91,60.34 L640.84,57.87 L642.76,55.37 L644.68,52.82 L646.60,50.24 L648.53,47.62 L650.45,44.97 L652.37,42.28 L654.32,39.12 L656.26,35.93 L658.14,34.03 L659.96,34.21 L661.72,35.69 L663.30,37.41 L664.61,39.06 L665.75,40.96 L666.90,43.01 L668.19,45.25 L669.50,47.63 L670.57,49.92 L671.49,52.00 L672.17,53.98 L672.12,55.91 L670.94,57.81 L669.03,59.66 L667.11,61.42 L665.44,63.07 L663.77,64.63 L662.10,66.13 L660.43,67.61 L658.76,69.03 L657.09,70.33 L655.42,71.46 L653.75,72.46 L652.08,73.50 L650.41,74.66 L648.74,75.86 L647.07,76.99 L645.40,78.01 L643.73,78.96 L642.06,79.86 L640.39,80.71 L638.72,81.52 L637.05,82.27 L635.38,82.98 L633.71,83.63 L632.04,84.24 L630.37,84.80 L628.70,85.31 L627.03,85.76 L625.36,86.17 L623.69,86.53 L622.02,86.85 L620.35,87.11 L618.68,87.32 L617.01,87.49 L615.15,87.60 L613.30,87.66 L612.00,87.70" fill="none" stroke="#3030ff" stroke-width="0.5" stroke-opacity="0.6" stroke-linejoin="round" stroke-linecap="round"/>
<path d="M612.00,87.70 L613.58,86.63 L615.83,85.09 L618.09,83.36 L620.11,81.51 L622.14,79.49 L624.17,77.37 L626.20,75.18 L628.23,72.90 L630.26,70.55 L632.28,68.14 L634.31,65.66 L636.34,63.13 L638.37,60.55 L640.40,57.91 L642.43,55.23 L644.45,52.50 L646.48,49.73 L648.51,46.92 L650.54,44.06 L652.57,41.17 L654.60,38.25 L656.69,34.74 L658.78,31.20 L660.68,29.27 L662.29,29.94 L663.71,32.23 L665.05,34.72 L666.32,37.05 L667.51,39.58 L668.66,42.03 L669.83,44.19 L670.96,46.27 L671.95,48.54 L672.97,51.21 L673.84,54.08 L673.92,56.75 L672.73,59.13 L670.75,61.32 L668.76,63.28 L667.04,64.88 L665.32,66.25 L663.60,67.70 L661.88,69.45 L660.16,71.29 L658.44,72.90 L656.72,74.09 L655.00,75.06 L653.28,76.08 L651.56,77.29 L649.84,78.55 L648.12,79.69 L646.40,80.65 L644.68,81.49 L642.96,82.26 L641.24,82.99 L639.52,83.65 L637.80,84.26 L636.08,84.80 L634.36,85.29 L632.64,85.73 L630.92,86.12 L629.20,86.45 L627.48,86.74 L625.76,86.99 L624.04,87.19 L622.32,87.35 L620.60,87.48 L618.88,87.57 L617.16,87.64 L615.25,87.68 L613.34,87.69 L612.00,87.70" fill="none" stroke="#3030ff" stroke-width="0.5" stroke-opacity="0.6" stroke-linejoin="round" stroke-linecap="round"/>
<path d="M612.00,87.70 L613.58,86.64 L615.85,85.11 L618.11,83.39 L620.15,81.56 L622.19,79.55 L624.22,77.45 L626.26,75.28 L628.30,73.01 L630.33,70.68 L632.37,68.29 L634.41,65.83 L636.44,63.32 L638.48,60.75 L640.52,58.14 L642.56,55.47 L644.59,52.77 L646.63,50.02 L648.67,47.23 L650.70,44.40 L652.74,41.53 L654.78,38.62 L656.92,35.14 L659.06,31.61 L660.89,29.71 L662.16,30.57 L663.12,33.06 L664.16,35.36 L665.48,36.82 L666.89,38.10 L668.23,39.43 L669.50,40.82 L670.71,42.25 L671.70,43.92 L672.62,46.01 L673.32,48.33 L673.28,50.49 L672.08,52.32 L670.13,53.99 L668.18,55.64 L666.48,57.30 L664.77,58.93 L663.07,60.60 L661.37,62.33 L659.67,64.09 L657.96,65.80 L656.26,67.45 L654.56,69.05 L652.86,70.54 L651.15,71.84 L649.45,73.02 L647.75,74.18 L646.05,75.34 L644.34,76.49 L642.64,77.58 L640.94,78.61 L639.24,79.58 L637.54,80.51 L635.83,81.38 L634.13,82.20 L632.43,82.97 L630.73,83.68 L629.02,84.34 L627.32,84.95 L625.62,85.49 L623.92,85.98 L622.21,86.41 L620.51,86.79 L618.81,87.10 L617.11,87.35 L615.22,87.52 L613.32,87.63 L612.00,87.70" fill="none" stroke="#3030ff" stroke-width="0.5" stroke-opacity="0.6" stroke-linejoin="round" stroke-linecap="round"/>
<path d="M612.00,87.70 L613.54,86.68 L615.75,85.21 L617.96,83.56 L619.94,81.80 L621.93,79.87 L623.91,77.86 L625.90,75.77 L627.89,73.60 L629.87,71.36 L631.86,69.06 L633.84,66.70 L635.83,64.29 L637.81,61.83 L639.80,59.31 L641.79,56.76 L643.77,54.16 L645.76,51.51 L647.74,48.83 L649.73,46.12 L651.71,43.36 L653.70,40.58 L655.76,37.29 L657.83,33.97 L659.66,32.02 L661.15,32.35 L662.40,34.04 L663.49,35.70 L664.33,36.82 L665.00,37.90 L665.76,39.09 L666.79,40.38 L667.89,41.78 L668.81,43.42 L669.61,45.45 L670.21,47.73 L670.12,49.98 L668.97,52.15 L667.12,54.31 L665.28,56.36 L663.67,58.26 L662.05,60.05 L660.44,61.80 L658.82,63.56 L657.21,65.27 L655.59,66.86 L653.98,68.26 L652.36,69.53 L650.75,70.82 L649.14,72.19 L647.52,73.57 L645.91,74.87 L644.29,76.07 L642.68,77.20 L641.06,78.28 L639.45,79.29 L637.83,80.26 L636.22,81.16 L634.60,82.00 L632.99,82.79 L631.37,83.51 L629.76,84.18 L628.15,84.79 L626.53,85.35 L624.92,85.84 L623.30,86.28 L621.69,86.65 L620.07,86.97 L618.46,87.24 L616.84,87.44 L615.05,87.57 L613.26,87.65 L612.00,87.70" fill="none" stroke="#3030ff" stroke-width="0.5" stroke-opacity="0.6" stroke-linejoin="round" stroke-linecap="round"/>
<path d="M612.00,87.70 L613.52,86.70 L615.68,85.24 L617.85,83.62 L619.80,81.89 L621.75,79.98 L623.70,77.99 L625.65,75.94 L627.60,73.79 L629.55,71.59 L631.51,69.32 L633.46,66.99 L635.41,64.61 L637.36,62.18 L639.31,59.71 L641.26,57.18 L643.21,54.62 L645.16,52.02 L647.11,49.37 L649.06,46.69 L651.01,43.98 L652.96,41.23 L655.00,38.02 L657.04,34.77 L658.81,32.79 L660.17,32.84 L661.25,34.14 L662.28,35.66 L663.31,37.11 L664.27,38.77 L665.22,40.36 L666.13,41.65 L667.03,42.86 L667.96,44.40 L669.27,46.47 L670.62,48.85 L671.08,51.28 L670.03,53.69 L668.09,56.14 L666.16,58.49 L664.51,60.67 L662.87,62.74 L661.23,64.80 L659.59,66.93 L657.95,69.04 L656.31,70.91 L654.67,72.39 L653.03,73.64 L651.39,74.85 L649.74,76.11 L648.10,77.34 L646.46,78.50 L644.82,79.57 L643.18,80.57 L641.54,81.49 L639.90,82.34 L638.26,83.10 L636.62,83.80 L634.97,84.43 L633.33,85.00 L631.69,85.50 L630.05,85.94 L628.41,86.32 L626.77,86.64 L625.13,86.92 L623.49,87.14 L621.85,87.32 L620.21,87.46 L618.56,87.56 L616.92,87.64 L615.10,87.68 L613.28,87.69 L612.00,87.70" fill="none" stroke="#3030ff" stroke-width="0.5" stroke-opacity="0.6" stroke-linejoin="round" stroke-linecap="round"/>
<path d="M612.00,87.70 L613.51,86.72 L615.67,85.29 L617.82,83.70 L619.77,82.00 L621.71,80.13 L623.65,78.18 L625.59,76.16 L627.53,74.06 L629.47,71.89 L631.41,69.67 L633.35,67.38 L635.30,65.05 L637.24,62.67 L639.18,60.23 L641.12,57.76 L643.06,55.25 L645.00,52.69 L646.94,50.10 L648.88,47.47 L650.83,44.80 L652.77,42.11 L654.73,38.82 L656.70,35.50 L658.59,33.83 L660.37,34.94 L662.07,37.70 L663.72,40.37 L665.33,42.19 L666.90,43.91 L668.40,46.13 L669.81,49.20 L671.16,52.76 L672.51,56.37 L674.20,60.07 L675.89,63.82 L676.53,66.99 L675.44,69.26 L673.29,70.96 L671.15,72.43 L669.36,73.70 L667.57,74.74 L665.78,75.82 L663.98,77.08 L662.19,78.38 L660.40,79.54 L658.61,80.51 L656.81,81.36 L655.02,82.10 L653.23,82.73 L651.44,83.27 L649.64,83.78 L647.85,84.31 L646.06,84.81 L644.27,85.27 L642.47,85.66 L640.68,86.01 L638.89,86.32 L637.10,86.58 L635.30,86.81 L633.51,87.01 L631.72,87.17 L629.93,87.30 L628.13,87.41 L626.34,87.50 L624.55,87.57 L622.76,87.62 L620.96,87.65 L619.17,87.68 L617.38,87.69 L615.39,87.70 L613.39,87.70 L612.00,87.70" fill="none" stroke="#3030ff" stroke-width="0.5" stroke-opacity="0.6" stroke-linejoin="round" stroke-linecap="round"/>
<path d="M612.00,87.70 L613.57,86.66 L615.80,85.14 L618.04,83.44 L620.05,81.63 L622.06,79.65 L624.08,77.57 L626.09,75.42 L628.10,73.19 L630.12,70.88 L632.13,68.52 L634.14,66.09 L636.15,63.61 L638.17,61.07 L640.18,58.49 L642.19,55.85 L644.21,53.18 L646.22,50.46 L648.23,47.70 L650.24,44.91 L652.26,42.07 L654.27,39.20 L656.33,35.78 L658.39,32.33 L660.31,30.39 L662.00,31.02 L663.55,33.17 L665.03,35.32 L666.49,36.91 L667.88,38.51 L669.13,40.27 L670.15,42.26 L671.02,44.41 L671.89,46.71 L673.09,49.25 L674.28,51.94 L674.59,54.47 L673.44,56.72 L671.41,58.81 L669.38,60.83 L667.64,62.83 L665.90,64.75 L664.16,66.51 L662.42,68.01 L660.68,69.34 L658.95,70.70 L657.21,72.19 L655.47,73.72 L653.73,75.16 L651.99,76.49 L650.25,77.73 L648.51,78.87 L646.77,79.89 L645.04,80.81 L643.30,81.66 L641.56,82.45 L639.82,83.18 L638.08,83.84 L636.34,84.44 L634.60,84.99 L632.86,85.47 L631.13,85.90 L629.39,86.28 L627.65,86.60 L625.91,86.88 L624.17,87.11 L622.43,87.29 L620.69,87.44 L618.95,87.55 L617.22,87.63 L615.28,87.67 L613.35,87.69 L612.00,87.70" fill="none" stroke="#3030ff" stroke-width="0.5" stroke-opacity="0.6" stroke-linejoin="round" stroke-linecap="round"/>
<path d="M612.00,87.70 L613.58,86.63 L615.83,85.08 L618.08,83.35 L620.10,81.51 L622.13,79.48 L624.15,77.36 L626.18,75.17 L628.20,72.88 L630.23,70.53 L632.26,68.12 L634.28,65.64 L636.31,63.10 L638.33,60.52 L640.36,57.88 L642.38,55.19 L644.41,52.46 L646.43,49.68 L648.46,46.87 L650.48,44.01 L652.51,41.12 L654.54,38.19 L656.66,34.66 L658.79,31.09 L660.61,29.20 L661.89,30.16 L662.86,32.80 L663.91,35.24 L665.29,36.56 L666.75,37.69 L667.98,39.57 L668.77,42.86 L669.33,46.90 L669.92,50.61 L670.90,53.64 L671.92,56.35 L672.13,58.74 L670.99,60.80 L669.05,62.55 L667.12,64.09 L665.45,65.38 L663.78,66.46 L662.11,67.56 L660.44,68.79 L658.77,70.06 L657.10,71.27 L655.43,72.39 L653.76,73.46 L652.08,74.56 L650.41,75.77 L648.74,77.01 L647.07,78.15 L645.40,79.10 L643.73,79.94 L642.06,80.74 L640.39,81.51 L638.72,82.24 L637.05,82.92 L635.38,83.55 L633.71,84.14 L632.04,84.68 L630.37,85.17 L628.70,85.62 L627.03,86.03 L625.36,86.39 L623.69,86.70 L622.02,86.97 L620.35,87.20 L618.68,87.38 L617.01,87.53 L615.15,87.62 L613.30,87.67 L612.00,87.70" fill="none" stroke="#3030ff" stroke-width="0.5" stroke-opacity="0.6" stroke-linejoin="round" stroke-linecap="round"/>
<path d="M612.00,87.70 L614.36,86.36 L616.72,84.52 L619.08,82.42 L621.44,80.14 L623.81,77.71 L626.17,75.15 L628.53,72.49 L630.89,69.72 L633.25,66.87 L635.61,63.94 L637.97,60.93 L640.33,57.86 L642.69,54.72 L645.06,51.51 L647.42,48.25 L649.78,44.94 L652.14,41.57 L654.50,38.16 L656.86,34.69 L659.22,31.18" fill="none" stroke="#1f1fff" stroke-width="1.5" stroke-opacity="1.0" stroke-linejoin="round" stroke-linecap="round"/>
<path d="M675.55,60.72 L672.37,64.09 L669.19,67.18 L666.01,70.02 L662.84,72.60 L659.66,74.93 L656.48,77.03 L653.31,78.90 L650.13,80.55 L646.95,82.00 L643.77,83.25 L640.60,84.32 L637.42,85.21 L634.24,85.94 L631.06,86.52 L627.89,86.97 L624.71,87.29 L621.53,87.51 L618.35,87.63 L615.18,87.69 L612.00,87.70" fill="none" stroke="#1f1fff" stroke-width="0.9" stroke-opacity="0.9" stroke-linejoin="round" stroke-linecap="round"/>
<path d="M658.2,27.5 Q663.5,25.9 667.4,30.0" fill="none" stroke="#000" stroke-width="1.3"/>
<polygon points="665.4,31.6 670.4,28.0 670.0,34.4" fill="#000"/>
<text x="619.60" y="37.30" font-size="8.8" text-anchor="start" font-weight="bold" font-style="normal" fill="#1f1fff" font-family='"Liberation Sans", sans-serif'>RESET</text>
<rect x="509.65" y="23.55" width="95.30" height="142.65" fill="none" stroke="#2b2b2b" stroke-width="1.0"/>
<rect x="609.45" y="23.55" width="70.95" height="142.65" fill="none" stroke="#2b2b2b" stroke-width="1.0"/>
<line x1="509.65" y1="158.70" x2="512.25" y2="158.70" stroke="#2b2b2b" stroke-width="0.8"/>
<line x1="604.95" y1="158.70" x2="602.35" y2="158.70" stroke="#2b2b2b" stroke-width="0.8"/>
<line x1="609.45" y1="158.70" x2="612.05" y2="158.70" stroke="#2b2b2b" stroke-width="0.8"/>
<line x1="680.40" y1="158.70" x2="677.80" y2="158.70" stroke="#2b2b2b" stroke-width="0.8"/>
<text x="0.00" y="0.00" font-size="8.0" text-anchor="end" font-weight="normal" font-style="normal" fill="#1a1a1a" font-family='"Liberation Sans", sans-serif' transform="translate(506.65 161.55) scale(0.875 1)">−500</text>
<line x1="509.65" y1="151.60" x2="511.15" y2="151.60" stroke="#2b2b2b" stroke-width="0.8"/>
<line x1="604.95" y1="151.60" x2="603.45" y2="151.60" stroke="#2b2b2b" stroke-width="0.8"/>
<line x1="609.45" y1="151.60" x2="610.95" y2="151.60" stroke="#2b2b2b" stroke-width="0.8"/>
<line x1="680.40" y1="151.60" x2="678.90" y2="151.60" stroke="#2b2b2b" stroke-width="0.8"/>
<line x1="509.65" y1="144.50" x2="512.25" y2="144.50" stroke="#2b2b2b" stroke-width="0.8"/>
<line x1="604.95" y1="144.50" x2="602.35" y2="144.50" stroke="#2b2b2b" stroke-width="0.8"/>
<line x1="609.45" y1="144.50" x2="612.05" y2="144.50" stroke="#2b2b2b" stroke-width="0.8"/>
<line x1="680.40" y1="144.50" x2="677.80" y2="144.50" stroke="#2b2b2b" stroke-width="0.8"/>
<text x="0.00" y="0.00" font-size="8.0" text-anchor="end" font-weight="normal" font-style="normal" fill="#1a1a1a" font-family='"Liberation Sans", sans-serif' transform="translate(506.65 147.35) scale(0.875 1)">−400</text>
<line x1="509.65" y1="137.40" x2="511.15" y2="137.40" stroke="#2b2b2b" stroke-width="0.8"/>
<line x1="604.95" y1="137.40" x2="603.45" y2="137.40" stroke="#2b2b2b" stroke-width="0.8"/>
<line x1="609.45" y1="137.40" x2="610.95" y2="137.40" stroke="#2b2b2b" stroke-width="0.8"/>
<line x1="680.40" y1="137.40" x2="678.90" y2="137.40" stroke="#2b2b2b" stroke-width="0.8"/>
<line x1="509.65" y1="130.30" x2="512.25" y2="130.30" stroke="#2b2b2b" stroke-width="0.8"/>
<line x1="604.95" y1="130.30" x2="602.35" y2="130.30" stroke="#2b2b2b" stroke-width="0.8"/>
<line x1="609.45" y1="130.30" x2="612.05" y2="130.30" stroke="#2b2b2b" stroke-width="0.8"/>
<line x1="680.40" y1="130.30" x2="677.80" y2="130.30" stroke="#2b2b2b" stroke-width="0.8"/>
<text x="0.00" y="0.00" font-size="8.0" text-anchor="end" font-weight="normal" font-style="normal" fill="#1a1a1a" font-family='"Liberation Sans", sans-serif' transform="translate(506.65 133.15) scale(0.875 1)">−300</text>
<line x1="509.65" y1="123.20" x2="511.15" y2="123.20" stroke="#2b2b2b" stroke-width="0.8"/>
<line x1="604.95" y1="123.20" x2="603.45" y2="123.20" stroke="#2b2b2b" stroke-width="0.8"/>
<line x1="609.45" y1="123.20" x2="610.95" y2="123.20" stroke="#2b2b2b" stroke-width="0.8"/>
<line x1="680.40" y1="123.20" x2="678.90" y2="123.20" stroke="#2b2b2b" stroke-width="0.8"/>
<line x1="509.65" y1="116.10" x2="512.25" y2="116.10" stroke="#2b2b2b" stroke-width="0.8"/>
<line x1="604.95" y1="116.10" x2="602.35" y2="116.10" stroke="#2b2b2b" stroke-width="0.8"/>
<line x1="609.45" y1="116.10" x2="612.05" y2="116.10" stroke="#2b2b2b" stroke-width="0.8"/>
<line x1="680.40" y1="116.10" x2="677.80" y2="116.10" stroke="#2b2b2b" stroke-width="0.8"/>
<text x="0.00" y="0.00" font-size="8.0" text-anchor="end" font-weight="normal" font-style="normal" fill="#1a1a1a" font-family='"Liberation Sans", sans-serif' transform="translate(506.65 118.95) scale(0.875 1)">−200</text>
<line x1="509.65" y1="109.00" x2="511.15" y2="109.00" stroke="#2b2b2b" stroke-width="0.8"/>
<line x1="604.95" y1="109.00" x2="603.45" y2="109.00" stroke="#2b2b2b" stroke-width="0.8"/>
<line x1="609.45" y1="109.00" x2="610.95" y2="109.00" stroke="#2b2b2b" stroke-width="0.8"/>
<line x1="680.40" y1="109.00" x2="678.90" y2="109.00" stroke="#2b2b2b" stroke-width="0.8"/>
<line x1="509.65" y1="101.90" x2="512.25" y2="101.90" stroke="#2b2b2b" stroke-width="0.8"/>
<line x1="604.95" y1="101.90" x2="602.35" y2="101.90" stroke="#2b2b2b" stroke-width="0.8"/>
<line x1="609.45" y1="101.90" x2="612.05" y2="101.90" stroke="#2b2b2b" stroke-width="0.8"/>
<line x1="680.40" y1="101.90" x2="677.80" y2="101.90" stroke="#2b2b2b" stroke-width="0.8"/>
<text x="0.00" y="0.00" font-size="8.0" text-anchor="end" font-weight="normal" font-style="normal" fill="#1a1a1a" font-family='"Liberation Sans", sans-serif' transform="translate(506.65 104.75) scale(0.875 1)">−100</text>
<line x1="509.65" y1="94.80" x2="511.15" y2="94.80" stroke="#2b2b2b" stroke-width="0.8"/>
<line x1="604.95" y1="94.80" x2="603.45" y2="94.80" stroke="#2b2b2b" stroke-width="0.8"/>
<line x1="609.45" y1="94.80" x2="610.95" y2="94.80" stroke="#2b2b2b" stroke-width="0.8"/>
<line x1="680.40" y1="94.80" x2="678.90" y2="94.80" stroke="#2b2b2b" stroke-width="0.8"/>
<line x1="509.65" y1="87.70" x2="512.25" y2="87.70" stroke="#2b2b2b" stroke-width="0.8"/>
<line x1="604.95" y1="87.70" x2="602.35" y2="87.70" stroke="#2b2b2b" stroke-width="0.8"/>
<line x1="609.45" y1="87.70" x2="612.05" y2="87.70" stroke="#2b2b2b" stroke-width="0.8"/>
<line x1="680.40" y1="87.70" x2="677.80" y2="87.70" stroke="#2b2b2b" stroke-width="0.8"/>
<text x="0.00" y="0.00" font-size="8.0" text-anchor="end" font-weight="normal" font-style="normal" fill="#1a1a1a" font-family='"Liberation Sans", sans-serif' transform="translate(506.65 90.55) scale(0.875 1)">0</text>
<line x1="509.65" y1="80.60" x2="511.15" y2="80.60" stroke="#2b2b2b" stroke-width="0.8"/>
<line x1="604.95" y1="80.60" x2="603.45" y2="80.60" stroke="#2b2b2b" stroke-width="0.8"/>
<line x1="609.45" y1="80.60" x2="610.95" y2="80.60" stroke="#2b2b2b" stroke-width="0.8"/>
<line x1="680.40" y1="80.60" x2="678.90" y2="80.60" stroke="#2b2b2b" stroke-width="0.8"/>
<line x1="509.65" y1="73.50" x2="512.25" y2="73.50" stroke="#2b2b2b" stroke-width="0.8"/>
<line x1="604.95" y1="73.50" x2="602.35" y2="73.50" stroke="#2b2b2b" stroke-width="0.8"/>
<line x1="609.45" y1="73.50" x2="612.05" y2="73.50" stroke="#2b2b2b" stroke-width="0.8"/>
<line x1="680.40" y1="73.50" x2="677.80" y2="73.50" stroke="#2b2b2b" stroke-width="0.8"/>
<text x="0.00" y="0.00" font-size="8.0" text-anchor="end" font-weight="normal" font-style="normal" fill="#1a1a1a" font-family='"Liberation Sans", sans-serif' transform="translate(506.65 76.35) scale(0.875 1)">100</text>
<line x1="509.65" y1="66.40" x2="511.15" y2="66.40" stroke="#2b2b2b" stroke-width="0.8"/>
<line x1="604.95" y1="66.40" x2="603.45" y2="66.40" stroke="#2b2b2b" stroke-width="0.8"/>
<line x1="609.45" y1="66.40" x2="610.95" y2="66.40" stroke="#2b2b2b" stroke-width="0.8"/>
<line x1="680.40" y1="66.40" x2="678.90" y2="66.40" stroke="#2b2b2b" stroke-width="0.8"/>
<line x1="509.65" y1="59.30" x2="512.25" y2="59.30" stroke="#2b2b2b" stroke-width="0.8"/>
<line x1="604.95" y1="59.30" x2="602.35" y2="59.30" stroke="#2b2b2b" stroke-width="0.8"/>
<line x1="609.45" y1="59.30" x2="612.05" y2="59.30" stroke="#2b2b2b" stroke-width="0.8"/>
<line x1="680.40" y1="59.30" x2="677.80" y2="59.30" stroke="#2b2b2b" stroke-width="0.8"/>
<text x="0.00" y="0.00" font-size="8.0" text-anchor="end" font-weight="normal" font-style="normal" fill="#1a1a1a" font-family='"Liberation Sans", sans-serif' transform="translate(506.65 62.15) scale(0.875 1)">200</text>
<line x1="509.65" y1="52.20" x2="511.15" y2="52.20" stroke="#2b2b2b" stroke-width="0.8"/>
<line x1="604.95" y1="52.20" x2="603.45" y2="52.20" stroke="#2b2b2b" stroke-width="0.8"/>
<line x1="609.45" y1="52.20" x2="610.95" y2="52.20" stroke="#2b2b2b" stroke-width="0.8"/>
<line x1="680.40" y1="52.20" x2="678.90" y2="52.20" stroke="#2b2b2b" stroke-width="0.8"/>
<line x1="509.65" y1="45.10" x2="512.25" y2="45.10" stroke="#2b2b2b" stroke-width="0.8"/>
<line x1="604.95" y1="45.10" x2="602.35" y2="45.10" stroke="#2b2b2b" stroke-width="0.8"/>
<line x1="609.45" y1="45.10" x2="612.05" y2="45.10" stroke="#2b2b2b" stroke-width="0.8"/>
<line x1="680.40" y1="45.10" x2="677.80" y2="45.10" stroke="#2b2b2b" stroke-width="0.8"/>
<text x="0.00" y="0.00" font-size="8.0" text-anchor="end" font-weight="normal" font-style="normal" fill="#1a1a1a" font-family='"Liberation Sans", sans-serif' transform="translate(506.65 47.95) scale(0.875 1)">300</text>
<line x1="509.65" y1="38.00" x2="511.15" y2="38.00" stroke="#2b2b2b" stroke-width="0.8"/>
<line x1="604.95" y1="38.00" x2="603.45" y2="38.00" stroke="#2b2b2b" stroke-width="0.8"/>
<line x1="609.45" y1="38.00" x2="610.95" y2="38.00" stroke="#2b2b2b" stroke-width="0.8"/>
<line x1="680.40" y1="38.00" x2="678.90" y2="38.00" stroke="#2b2b2b" stroke-width="0.8"/>
<line x1="509.65" y1="30.90" x2="512.25" y2="30.90" stroke="#2b2b2b" stroke-width="0.8"/>
<line x1="604.95" y1="30.90" x2="602.35" y2="30.90" stroke="#2b2b2b" stroke-width="0.8"/>
<line x1="609.45" y1="30.90" x2="612.05" y2="30.90" stroke="#2b2b2b" stroke-width="0.8"/>
<line x1="680.40" y1="30.90" x2="677.80" y2="30.90" stroke="#2b2b2b" stroke-width="0.8"/>
<text x="0.00" y="0.00" font-size="8.0" text-anchor="end" font-weight="normal" font-style="normal" fill="#1a1a1a" font-family='"Liberation Sans", sans-serif' transform="translate(506.65 33.75) scale(0.875 1)">400</text>
<line x1="519.10" y1="166.20" x2="519.10" y2="164.70" stroke="#2b2b2b" stroke-width="0.8"/>
<line x1="519.10" y1="23.55" x2="519.10" y2="25.05" stroke="#2b2b2b" stroke-width="0.8"/>
<line x1="528.20" y1="166.20" x2="528.20" y2="163.60" stroke="#2b2b2b" stroke-width="0.8"/>
<line x1="528.20" y1="23.55" x2="528.20" y2="26.15" stroke="#2b2b2b" stroke-width="0.8"/>
<line x1="537.30" y1="166.20" x2="537.30" y2="164.70" stroke="#2b2b2b" stroke-width="0.8"/>
<line x1="537.30" y1="23.55" x2="537.30" y2="25.05" stroke="#2b2b2b" stroke-width="0.8"/>
<line x1="546.40" y1="166.20" x2="546.40" y2="163.60" stroke="#2b2b2b" stroke-width="0.8"/>
<line x1="546.40" y1="23.55" x2="546.40" y2="26.15" stroke="#2b2b2b" stroke-width="0.8"/>
<line x1="555.50" y1="166.20" x2="555.50" y2="164.70" stroke="#2b2b2b" stroke-width="0.8"/>
<line x1="555.50" y1="23.55" x2="555.50" y2="25.05" stroke="#2b2b2b" stroke-width="0.8"/>
<line x1="564.60" y1="166.20" x2="564.60" y2="163.60" stroke="#2b2b2b" stroke-width="0.8"/>
<line x1="564.60" y1="23.55" x2="564.60" y2="26.15" stroke="#2b2b2b" stroke-width="0.8"/>
<line x1="573.70" y1="166.20" x2="573.70" y2="164.70" stroke="#2b2b2b" stroke-width="0.8"/>
<line x1="573.70" y1="23.55" x2="573.70" y2="25.05" stroke="#2b2b2b" stroke-width="0.8"/>
<line x1="582.80" y1="166.20" x2="582.80" y2="163.60" stroke="#2b2b2b" stroke-width="0.8"/>
<line x1="582.80" y1="23.55" x2="582.80" y2="26.15" stroke="#2b2b2b" stroke-width="0.8"/>
<line x1="591.90" y1="166.20" x2="591.90" y2="164.70" stroke="#2b2b2b" stroke-width="0.8"/>
<line x1="591.90" y1="23.55" x2="591.90" y2="25.05" stroke="#2b2b2b" stroke-width="0.8"/>
<line x1="601.00" y1="166.20" x2="601.00" y2="163.60" stroke="#2b2b2b" stroke-width="0.8"/>
<line x1="601.00" y1="23.55" x2="601.00" y2="26.15" stroke="#2b2b2b" stroke-width="0.8"/>
<text x="0.00" y="0.00" font-size="8.0" text-anchor="middle" font-weight="normal" font-style="normal" fill="#1a1a1a" font-family='"Liberation Sans", sans-serif' transform="translate(510.00 174.90) scale(0.875 1)">−2.5</text>
<text x="0.00" y="0.00" font-size="8.0" text-anchor="middle" font-weight="normal" font-style="normal" fill="#1a1a1a" font-family='"Liberation Sans", sans-serif' transform="translate(528.20 174.90) scale(0.875 1)">−2.0</text>
<text x="0.00" y="0.00" font-size="8.0" text-anchor="middle" font-weight="normal" font-style="normal" fill="#1a1a1a" font-family='"Liberation Sans", sans-serif' transform="translate(546.40 174.90) scale(0.875 1)">−1.5</text>
<text x="0.00" y="0.00" font-size="8.0" text-anchor="middle" font-weight="normal" font-style="normal" fill="#1a1a1a" font-family='"Liberation Sans", sans-serif' transform="translate(564.60 174.90) scale(0.875 1)">−1.0</text>
<text x="0.00" y="0.00" font-size="8.0" text-anchor="middle" font-weight="normal" font-style="normal" fill="#1a1a1a" font-family='"Liberation Sans", sans-serif' transform="translate(582.80 174.90) scale(0.875 1)">−0.5</text>
<text x="0.00" y="0.00" font-size="8.0" text-anchor="middle" font-weight="normal" font-style="normal" fill="#1a1a1a" font-family='"Liberation Sans", sans-serif' transform="translate(601.00 174.90) scale(0.875 1)">0.0</text>
<line x1="612.00" y1="166.20" x2="612.00" y2="163.60" stroke="#2b2b2b" stroke-width="0.8"/>
<line x1="612.00" y1="23.55" x2="612.00" y2="26.15" stroke="#2b2b2b" stroke-width="0.8"/>
<line x1="626.58" y1="166.20" x2="626.58" y2="164.70" stroke="#2b2b2b" stroke-width="0.8"/>
<line x1="626.58" y1="23.55" x2="626.58" y2="25.05" stroke="#2b2b2b" stroke-width="0.8"/>
<line x1="641.15" y1="166.20" x2="641.15" y2="163.60" stroke="#2b2b2b" stroke-width="0.8"/>
<line x1="641.15" y1="23.55" x2="641.15" y2="26.15" stroke="#2b2b2b" stroke-width="0.8"/>
<line x1="655.73" y1="166.20" x2="655.73" y2="164.70" stroke="#2b2b2b" stroke-width="0.8"/>
<line x1="655.73" y1="23.55" x2="655.73" y2="25.05" stroke="#2b2b2b" stroke-width="0.8"/>
<line x1="670.30" y1="166.20" x2="670.30" y2="163.60" stroke="#2b2b2b" stroke-width="0.8"/>
<line x1="670.30" y1="23.55" x2="670.30" y2="26.15" stroke="#2b2b2b" stroke-width="0.8"/>
<text x="0.00" y="0.00" font-size="8.0" text-anchor="middle" font-weight="normal" font-style="normal" fill="#1a1a1a" font-family='"Liberation Sans", sans-serif' transform="translate(612.00 174.90) scale(0.875 1)">0.0</text>
<text x="0.00" y="0.00" font-size="8.0" text-anchor="middle" font-weight="normal" font-style="normal" fill="#1a1a1a" font-family='"Liberation Sans", sans-serif' transform="translate(641.15 174.90) scale(0.875 1)">0.5</text>
<text x="0.00" y="0.00" font-size="8.0" text-anchor="middle" font-weight="normal" font-style="normal" fill="#1a1a1a" font-family='"Liberation Sans", sans-serif' transform="translate(670.30 174.90) scale(0.875 1)">1.0</text>
<text x="557.20" y="185.70" font-size="8.5" text-anchor="middle" font-weight="normal" font-style="normal" fill="#111" font-family='"Liberation Sans", sans-serif'>Gate Voltage, <tspan font-style="italic">V</tspan><tspan font-size="5.8" dy="2.4" font-style="italic">gate</tspan><tspan dy="-2.4"> (V)</tspan></text>
<text x="644.90" y="185.70" font-size="8.5" text-anchor="middle" font-weight="normal" font-style="normal" fill="#111" font-family='"Liberation Sans", sans-serif'>Col. Voltage, <tspan font-style="italic">V</tspan><tspan font-size="5.8" dy="2.4" font-style="italic">col</tspan><tspan dy="-2.4"> (V)</tspan></text>
<text x="484.50" y="94.20" font-size="8.5" text-anchor="middle" font-weight="normal" font-style="normal" fill="#111" font-family='"Liberation Sans", sans-serif' transform="rotate(-90 484.50 94.20)">Current, <tspan font-style="italic">I</tspan> (μA)</text>
<rect x="28.15" y="350.54" width="6.03" height="6.01" fill="#1fa287" shape-rendering="crispEdges"/>
<rect x="33.88" y="350.54" width="6.03" height="6.01" fill="#277f8e" shape-rendering="crispEdges"/>
<rect x="39.61" y="350.54" width="6.03" height="6.01" fill="#1f9a89" shape-rendering="crispEdges"/>
<rect x="45.33" y="350.54" width="6.03" height="6.01" fill="#277f8e" shape-rendering="crispEdges"/>
<rect x="51.06" y="350.54" width="6.03" height="6.01" fill="#277f8e" shape-rendering="crispEdges"/>
<rect x="56.79" y="350.54" width="6.03" height="6.01" fill="#3aba76" shape-rendering="crispEdges"/>
<rect x="62.52" y="350.54" width="6.03" height="6.01" fill="#22a784" shape-rendering="crispEdges"/>
<rect x="68.25" y="350.54" width="6.03" height="6.01" fill="#20938c" shape-rendering="crispEdges"/>
<rect x="73.97" y="350.54" width="6.03" height="6.01" fill="#2b768e" shape-rendering="crispEdges"/>
<rect x="79.70" y="350.54" width="6.03" height="6.01" fill="#2b768e" shape-rendering="crispEdges"/>
<rect x="85.43" y="350.54" width="6.03" height="6.01" fill="#2e6e8e" shape-rendering="crispEdges"/>
<rect x="91.16" y="350.54" width="6.03" height="6.01" fill="#2e6e8e" shape-rendering="crispEdges"/>
<rect x="96.89" y="350.54" width="6.03" height="6.01" fill="#1fa287" shape-rendering="crispEdges"/>
<rect x="102.61" y="350.54" width="6.03" height="6.01" fill="#2cb27e" shape-rendering="crispEdges"/>
<rect x="108.34" y="350.54" width="6.03" height="6.01" fill="#2cb27e" shape-rendering="crispEdges"/>
<rect x="114.07" y="350.54" width="6.03" height="6.01" fill="#20938c" shape-rendering="crispEdges"/>
<rect x="119.80" y="350.54" width="6.03" height="6.01" fill="#1f9a89" shape-rendering="crispEdges"/>
<rect x="125.53" y="350.54" width="6.03" height="6.01" fill="#3aba76" shape-rendering="crispEdges"/>
<rect x="131.25" y="350.54" width="6.03" height="6.01" fill="#3aba76" shape-rendering="crispEdges"/>
<rect x="136.98" y="350.54" width="6.03" height="6.01" fill="#2cb27e" shape-rendering="crispEdges"/>
<rect x="142.71" y="350.54" width="6.03" height="6.01" fill="#1f9a89" shape-rendering="crispEdges"/>
<rect x="148.44" y="350.54" width="6.03" height="6.01" fill="#23898d" shape-rendering="crispEdges"/>
<rect x="154.17" y="350.54" width="6.03" height="6.01" fill="#23898d" shape-rendering="crispEdges"/>
<rect x="159.89" y="350.54" width="6.03" height="6.01" fill="#2cb27e" shape-rendering="crispEdges"/>
<rect x="165.62" y="350.54" width="6.03" height="6.01" fill="#1f9a89" shape-rendering="crispEdges"/>
<rect x="28.15" y="344.83" width="6.03" height="6.01" fill="#277f8e" shape-rendering="crispEdges"/>
<rect x="33.88" y="344.83" width="6.03" height="6.01" fill="#1f9a89" shape-rendering="crispEdges"/>
<rect x="39.61" y="344.83" width="6.03" height="6.01" fill="#1fa287" shape-rendering="crispEdges"/>
<rect x="45.33" y="344.83" width="6.03" height="6.01" fill="#277f8e" shape-rendering="crispEdges"/>
<rect x="51.06" y="344.83" width="6.03" height="6.01" fill="#277f8e" shape-rendering="crispEdges"/>
<rect x="56.79" y="344.83" width="6.03" height="6.01" fill="#23898d" shape-rendering="crispEdges"/>
<rect x="62.52" y="344.83" width="6.03" height="6.01" fill="#2e6e8e" shape-rendering="crispEdges"/>
<rect x="68.25" y="344.83" width="6.03" height="6.01" fill="#20938c" shape-rendering="crispEdges"/>
<rect x="73.97" y="344.83" width="6.03" height="6.01" fill="#51c469" shape-rendering="crispEdges"/>
<rect x="79.70" y="344.83" width="6.03" height="6.01" fill="#20938c" shape-rendering="crispEdges"/>
<rect x="85.43" y="344.83" width="6.03" height="6.01" fill="#2cb27e" shape-rendering="crispEdges"/>
<rect x="91.16" y="344.83" width="6.03" height="6.01" fill="#277f8e" shape-rendering="crispEdges"/>
<rect x="96.89" y="344.83" width="6.03" height="6.01" fill="#1fa287" shape-rendering="crispEdges"/>
<rect x="102.61" y="344.83" width="6.03" height="6.01" fill="#22a784" shape-rendering="crispEdges"/>
<rect x="108.34" y="344.83" width="6.03" height="6.01" fill="#f9e623" shape-rendering="crispEdges"/>
<rect x="114.07" y="344.83" width="6.03" height="6.01" fill="#277f8e" shape-rendering="crispEdges"/>
<rect x="119.80" y="344.83" width="6.03" height="6.01" fill="#20938c" shape-rendering="crispEdges"/>
<rect x="125.53" y="344.83" width="6.03" height="6.01" fill="#1fa287" shape-rendering="crispEdges"/>
<rect x="131.25" y="344.83" width="6.03" height="6.01" fill="#23898d" shape-rendering="crispEdges"/>
<rect x="136.98" y="344.83" width="6.03" height="6.01" fill="#1f9a89" shape-rendering="crispEdges"/>
<rect x="142.71" y="344.83" width="6.03" height="6.01" fill="#1fa287" shape-rendering="crispEdges"/>
<rect x="148.44" y="344.83" width="6.03" height="6.01" fill="#2b768e" shape-rendering="crispEdges"/>
<rect x="154.17" y="344.83" width="6.03" height="6.01" fill="#1fa287" shape-rendering="crispEdges"/>
<rect x="159.89" y="344.83" width="6.03" height="6.01" fill="#2e6e8e" shape-rendering="crispEdges"/>
<rect x="165.62" y="344.83" width="6.03" height="6.01" fill="#1f9a89" shape-rendering="crispEdges"/>
<rect x="28.15" y="339.12" width="6.03" height="6.01" fill="#1f9a89" shape-rendering="crispEdges"/>
<rect x="33.88" y="339.12" width="6.03" height="6.01" fill="#277f8e" shape-rendering="crispEdges"/>
<rect x="39.61" y="339.12" width="6.03" height="6.01" fill="#3aba76" shape-rendering="crispEdges"/>
<rect x="45.33" y="339.12" width="6.03" height="6.01" fill="#1f9a89" shape-rendering="crispEdges"/>
<rect x="51.06" y="339.12" width="6.03" height="6.01" fill="#2cb27e" shape-rendering="crispEdges"/>
<rect x="56.79" y="339.12" width="6.03" height="6.01" fill="#277f8e" shape-rendering="crispEdges"/>
<rect x="62.52" y="339.12" width="6.03" height="6.01" fill="#1f9a89" shape-rendering="crispEdges"/>
<rect x="68.25" y="339.12" width="6.03" height="6.01" fill="#20938c" shape-rendering="crispEdges"/>
<rect x="73.97" y="339.12" width="6.03" height="6.01" fill="#1f9a89" shape-rendering="crispEdges"/>
<rect x="79.70" y="339.12" width="6.03" height="6.01" fill="#2b768e" shape-rendering="crispEdges"/>
<rect x="85.43" y="339.12" width="6.03" height="6.01" fill="#20938c" shape-rendering="crispEdges"/>
<rect x="91.16" y="339.12" width="6.03" height="6.01" fill="#1f9a89" shape-rendering="crispEdges"/>
<rect x="96.89" y="339.12" width="6.03" height="6.01" fill="#1fa287" shape-rendering="crispEdges"/>
<rect x="102.61" y="339.12" width="6.03" height="6.01" fill="#2cb27e" shape-rendering="crispEdges"/>
<rect x="108.34" y="339.12" width="6.03" height="6.01" fill="#1fa287" shape-rendering="crispEdges"/>
<rect x="114.07" y="339.12" width="6.03" height="6.01" fill="#1f9a89" shape-rendering="crispEdges"/>
<rect x="119.80" y="339.12" width="6.03" height="6.01" fill="#1f9a89" shape-rendering="crispEdges"/>
<rect x="125.53" y="339.12" width="6.03" height="6.01" fill="#1fa287" shape-rendering="crispEdges"/>
<rect x="131.25" y="339.12" width="6.03" height="6.01" fill="#1fa287" shape-rendering="crispEdges"/>
<rect x="136.98" y="339.12" width="6.03" height="6.01" fill="#3aba76" shape-rendering="crispEdges"/>
<rect x="142.71" y="339.12" width="6.03" height="6.01" fill="#3aba76" shape-rendering="crispEdges"/>
<rect x="148.44" y="339.12" width="6.03" height="6.01" fill="#1f9a89" shape-rendering="crispEdges"/>
<rect x="154.17" y="339.12" width="6.03" height="6.01" fill="#1fa287" shape-rendering="crispEdges"/>
<rect x="159.89" y="339.12" width="6.03" height="6.01" fill="#1f9a89" shape-rendering="crispEdges"/>
<rect x="165.62" y="339.12" width="6.03" height="6.01" fill="#f9e623" shape-rendering="crispEdges"/>
<rect x="28.15" y="333.41" width="6.03" height="6.01" fill="#1f9a89" shape-rendering="crispEdges"/>
<rect x="33.88" y="333.41" width="6.03" height="6.01" fill="#20938c" shape-rendering="crispEdges"/>
<rect x="39.61" y="333.41" width="6.03" height="6.01" fill="#1f9a89" shape-rendering="crispEdges"/>
<rect x="45.33" y="333.41" width="6.03" height="6.01" fill="#23898d" shape-rendering="crispEdges"/>
<rect x="51.06" y="333.41" width="6.03" height="6.01" fill="#1f9a89" shape-rendering="crispEdges"/>
<rect x="56.79" y="333.41" width="6.03" height="6.01" fill="#2cb27e" shape-rendering="crispEdges"/>
<rect x="62.52" y="333.41" width="6.03" height="6.01" fill="#20938c" shape-rendering="crispEdges"/>
<rect x="68.25" y="333.41" width="6.03" height="6.01" fill="#2cb27e" shape-rendering="crispEdges"/>
<rect x="73.97" y="333.41" width="6.03" height="6.01" fill="#1fa287" shape-rendering="crispEdges"/>
<rect x="79.70" y="333.41" width="6.03" height="6.01" fill="#23898d" shape-rendering="crispEdges"/>
<rect x="85.43" y="333.41" width="6.03" height="6.01" fill="#23898d" shape-rendering="crispEdges"/>
<rect x="91.16" y="333.41" width="6.03" height="6.01" fill="#51c469" shape-rendering="crispEdges"/>
<rect x="96.89" y="333.41" width="6.03" height="6.01" fill="#1fa287" shape-rendering="crispEdges"/>
<rect x="102.61" y="333.41" width="6.03" height="6.01" fill="#23898d" shape-rendering="crispEdges"/>
<rect x="108.34" y="333.41" width="6.03" height="6.01" fill="#2cb27e" shape-rendering="crispEdges"/>
<rect x="114.07" y="333.41" width="6.03" height="6.01" fill="#20938c" shape-rendering="crispEdges"/>
<rect x="119.80" y="333.41" width="6.03" height="6.01" fill="#23898d" shape-rendering="crispEdges"/>
<rect x="125.53" y="333.41" width="6.03" height="6.01" fill="#2cb27e" shape-rendering="crispEdges"/>
<rect x="131.25" y="333.41" width="6.03" height="6.01" fill="#1fa287" shape-rendering="crispEdges"/>
<rect x="136.98" y="333.41" width="6.03" height="6.01" fill="#1f9a89" shape-rendering="crispEdges"/>
<rect x="142.71" y="333.41" width="6.03" height="6.01" fill="#3aba76" shape-rendering="crispEdges"/>
<rect x="148.44" y="333.41" width="6.03" height="6.01" fill="#3aba76" shape-rendering="crispEdges"/>
<rect x="154.17" y="333.41" width="6.03" height="6.01" fill="#3aba76" shape-rendering="crispEdges"/>
<rect x="159.89" y="333.41" width="6.03" height="6.01" fill="#1fa287" shape-rendering="crispEdges"/>
<rect x="165.62" y="333.41" width="6.03" height="6.01" fill="#3aba76" shape-rendering="crispEdges"/>
<rect x="28.15" y="327.70" width="6.03" height="6.01" fill="#2b768e" shape-rendering="crispEdges"/>
<rect x="33.88" y="327.70" width="6.03" height="6.01" fill="#f9e623" shape-rendering="crispEdges"/>
<rect x="39.61" y="327.70" width="6.03" height="6.01" fill="#1f9a89" shape-rendering="crispEdges"/>
<rect x="45.33" y="327.70" width="6.03" height="6.01" fill="#2e6e8e" shape-rendering="crispEdges"/>
<rect x="51.06" y="327.70" width="6.03" height="6.01" fill="#23898d" shape-rendering="crispEdges"/>
<rect x="56.79" y="327.70" width="6.03" height="6.01" fill="#277f8e" shape-rendering="crispEdges"/>
<rect x="62.52" y="327.70" width="6.03" height="6.01" fill="#20938c" shape-rendering="crispEdges"/>
<rect x="68.25" y="327.70" width="6.03" height="6.01" fill="#34618d" shape-rendering="crispEdges"/>
<rect x="73.97" y="327.70" width="6.03" height="6.01" fill="#1f9a89" shape-rendering="crispEdges"/>
<rect x="79.70" y="327.70" width="6.03" height="6.01" fill="#2e6e8e" shape-rendering="crispEdges"/>
<rect x="85.43" y="327.70" width="6.03" height="6.01" fill="#1fa287" shape-rendering="crispEdges"/>
<rect x="91.16" y="327.70" width="6.03" height="6.01" fill="#23898d" shape-rendering="crispEdges"/>
<rect x="96.89" y="327.70" width="6.03" height="6.01" fill="#1fa287" shape-rendering="crispEdges"/>
<rect x="102.61" y="327.70" width="6.03" height="6.01" fill="#1f9a89" shape-rendering="crispEdges"/>
<rect x="108.34" y="327.70" width="6.03" height="6.01" fill="#2b768e" shape-rendering="crispEdges"/>
<rect x="114.07" y="327.70" width="6.03" height="6.01" fill="#1f9a89" shape-rendering="crispEdges"/>
<rect x="119.80" y="327.70" width="6.03" height="6.01" fill="#2cb27e" shape-rendering="crispEdges"/>
<rect x="125.53" y="327.70" width="6.03" height="6.01" fill="#23898d" shape-rendering="crispEdges"/>
<rect x="131.25" y="327.70" width="6.03" height="6.01" fill="#3aba76" shape-rendering="crispEdges"/>
<rect x="136.98" y="327.70" width="6.03" height="6.01" fill="#277f8e" shape-rendering="crispEdges"/>
<rect x="142.71" y="327.70" width="6.03" height="6.01" fill="#277f8e" shape-rendering="crispEdges"/>
<rect x="148.44" y="327.70" width="6.03" height="6.01" fill="#1fa287" shape-rendering="crispEdges"/>
<rect x="154.17" y="327.70" width="6.03" height="6.01" fill="#1f9a89" shape-rendering="crispEdges"/>
<rect x="159.89" y="327.70" width="6.03" height="6.01" fill="#2e6e8e" shape-rendering="crispEdges"/>
<rect x="165.62" y="327.70" width="6.03" height="6.01" fill="#23898d" shape-rendering="crispEdges"/>
<rect x="28.15" y="321.99" width="6.03" height="6.01" fill="#1fa287" shape-rendering="crispEdges"/>
<rect x="33.88" y="321.99" width="6.03" height="6.01" fill="#23898d" shape-rendering="crispEdges"/>
<rect x="39.61" y="321.99" width="6.03" height="6.01" fill="#277f8e" shape-rendering="crispEdges"/>
<rect x="45.33" y="321.99" width="6.03" height="6.01" fill="#20938c" shape-rendering="crispEdges"/>
<rect x="51.06" y="321.99" width="6.03" height="6.01" fill="#2cb27e" shape-rendering="crispEdges"/>
<rect x="56.79" y="321.99" width="6.03" height="6.01" fill="#23898d" shape-rendering="crispEdges"/>
<rect x="62.52" y="321.99" width="6.03" height="6.01" fill="#23898d" shape-rendering="crispEdges"/>
<rect x="68.25" y="321.99" width="6.03" height="6.01" fill="#20938c" shape-rendering="crispEdges"/>
<rect x="73.97" y="321.99" width="6.03" height="6.01" fill="#22a784" shape-rendering="crispEdges"/>
<rect x="79.70" y="321.99" width="6.03" height="6.01" fill="#2e6e8e" shape-rendering="crispEdges"/>
<rect x="85.43" y="321.99" width="6.03" height="6.01" fill="#277f8e" shape-rendering="crispEdges"/>
<rect x="91.16" y="321.99" width="6.03" height="6.01" fill="#1f9a89" shape-rendering="crispEdges"/>
<rect x="96.89" y="321.99" width="6.03" height="6.01" fill="#1f9a89" shape-rendering="crispEdges"/>
<rect x="102.61" y="321.99" width="6.03" height="6.01" fill="#22a784" shape-rendering="crispEdges"/>
<rect x="108.34" y="321.99" width="6.03" height="6.01" fill="#3aba76" shape-rendering="crispEdges"/>
<rect x="114.07" y="321.99" width="6.03" height="6.01" fill="#277f8e" shape-rendering="crispEdges"/>
<rect x="119.80" y="321.99" width="6.03" height="6.01" fill="#20938c" shape-rendering="crispEdges"/>
<rect x="125.53" y="321.99" width="6.03" height="6.01" fill="#20938c" shape-rendering="crispEdges"/>
<rect x="131.25" y="321.99" width="6.03" height="6.01" fill="#1fa287" shape-rendering="crispEdges"/>
<rect x="136.98" y="321.99" width="6.03" height="6.01" fill="#277f8e" shape-rendering="crispEdges"/>
<rect x="142.71" y="321.99" width="6.03" height="6.01" fill="#3aba76" shape-rendering="crispEdges"/>
<rect x="148.44" y="321.99" width="6.03" height="6.01" fill="#51c469" shape-rendering="crispEdges"/>
<rect x="154.17" y="321.99" width="6.03" height="6.01" fill="#20938c" shape-rendering="crispEdges"/>
<rect x="159.89" y="321.99" width="6.03" height="6.01" fill="#1fa287" shape-rendering="crispEdges"/>
<rect x="165.62" y="321.99" width="6.03" height="6.01" fill="#2b768e" shape-rendering="crispEdges"/>
<rect x="28.15" y="316.28" width="6.03" height="6.01" fill="#20938c" shape-rendering="crispEdges"/>
<rect x="33.88" y="316.28" width="6.03" height="6.01" fill="#277f8e" shape-rendering="crispEdges"/>
<rect x="39.61" y="316.28" width="6.03" height="6.01" fill="#1f9a89" shape-rendering="crispEdges"/>
<rect x="45.33" y="316.28" width="6.03" height="6.01" fill="#22a784" shape-rendering="crispEdges"/>
<rect x="51.06" y="316.28" width="6.03" height="6.01" fill="#2b768e" shape-rendering="crispEdges"/>
<rect x="56.79" y="316.28" width="6.03" height="6.01" fill="#20938c" shape-rendering="crispEdges"/>
<rect x="62.52" y="316.28" width="6.03" height="6.01" fill="#3aba76" shape-rendering="crispEdges"/>
<rect x="68.25" y="316.28" width="6.03" height="6.01" fill="#2b768e" shape-rendering="crispEdges"/>
<rect x="73.97" y="316.28" width="6.03" height="6.01" fill="#1f9a89" shape-rendering="crispEdges"/>
<rect x="79.70" y="316.28" width="6.03" height="6.01" fill="#f9e623" shape-rendering="crispEdges"/>
<rect x="85.43" y="316.28" width="6.03" height="6.01" fill="#1fa287" shape-rendering="crispEdges"/>
<rect x="91.16" y="316.28" width="6.03" height="6.01" fill="#3aba76" shape-rendering="crispEdges"/>
<rect x="96.89" y="316.28" width="6.03" height="6.01" fill="#277f8e" shape-rendering="crispEdges"/>
<rect x="102.61" y="316.28" width="6.03" height="6.01" fill="#20938c" shape-rendering="crispEdges"/>
<rect x="108.34" y="316.28" width="6.03" height="6.01" fill="#1fa287" shape-rendering="crispEdges"/>
<rect x="114.07" y="316.28" width="6.03" height="6.01" fill="#277f8e" shape-rendering="crispEdges"/>
<rect x="119.80" y="316.28" width="6.03" height="6.01" fill="#20938c" shape-rendering="crispEdges"/>
<rect x="125.53" y="316.28" width="6.03" height="6.01" fill="#2e6e8e" shape-rendering="crispEdges"/>
<rect x="131.25" y="316.28" width="6.03" height="6.01" fill="#277f8e" shape-rendering="crispEdges"/>
<rect x="136.98" y="316.28" width="6.03" height="6.01" fill="#2b768e" shape-rendering="crispEdges"/>
<rect x="142.71" y="316.28" width="6.03" height="6.01" fill="#1fa287" shape-rendering="crispEdges"/>
<rect x="148.44" y="316.28" width="6.03" height="6.01" fill="#1fa287" shape-rendering="crispEdges"/>
<rect x="154.17" y="316.28" width="6.03" height="6.01" fill="#277f8e" shape-rendering="crispEdges"/>
<rect x="159.89" y="316.28" width="6.03" height="6.01" fill="#2cb27e" shape-rendering="crispEdges"/>
<rect x="165.62" y="316.28" width="6.03" height="6.01" fill="#1f9a89" shape-rendering="crispEdges"/>
<rect x="28.15" y="310.57" width="6.03" height="6.01" fill="#f9e623" shape-rendering="crispEdges"/>
<rect x="33.88" y="310.57" width="6.03" height="6.01" fill="#23898d" shape-rendering="crispEdges"/>
<rect x="39.61" y="310.57" width="6.03" height="6.01" fill="#277f8e" shape-rendering="crispEdges"/>
<rect x="45.33" y="310.57" width="6.03" height="6.01" fill="#2e6e8e" shape-rendering="crispEdges"/>
<rect x="51.06" y="310.57" width="6.03" height="6.01" fill="#2e6e8e" shape-rendering="crispEdges"/>
<rect x="56.79" y="310.57" width="6.03" height="6.01" fill="#277f8e" shape-rendering="crispEdges"/>
<rect x="62.52" y="310.57" width="6.03" height="6.01" fill="#277f8e" shape-rendering="crispEdges"/>
<rect x="68.25" y="310.57" width="6.03" height="6.01" fill="#20938c" shape-rendering="crispEdges"/>
<rect x="73.97" y="310.57" width="6.03" height="6.01" fill="#277f8e" shape-rendering="crispEdges"/>
<rect x="79.70" y="310.57" width="6.03" height="6.01" fill="#1f9a89" shape-rendering="crispEdges"/>
<rect x="85.43" y="310.57" width="6.03" height="6.01" fill="#1fa287" shape-rendering="crispEdges"/>
<rect x="91.16" y="310.57" width="6.03" height="6.01" fill="#277f8e" shape-rendering="crispEdges"/>
<rect x="96.89" y="310.57" width="6.03" height="6.01" fill="#1f9a89" shape-rendering="crispEdges"/>
<rect x="102.61" y="310.57" width="6.03" height="6.01" fill="#1fa287" shape-rendering="crispEdges"/>
<rect x="108.34" y="310.57" width="6.03" height="6.01" fill="#20938c" shape-rendering="crispEdges"/>
<rect x="114.07" y="310.57" width="6.03" height="6.01" fill="#1fa287" shape-rendering="crispEdges"/>
<rect x="119.80" y="310.57" width="6.03" height="6.01" fill="#20938c" shape-rendering="crispEdges"/>
<rect x="125.53" y="310.57" width="6.03" height="6.01" fill="#1fa287" shape-rendering="crispEdges"/>
<rect x="131.25" y="310.57" width="6.03" height="6.01" fill="#20938c" shape-rendering="crispEdges"/>
<rect x="136.98" y="310.57" width="6.03" height="6.01" fill="#20938c" shape-rendering="crispEdges"/>
<rect x="142.71" y="310.57" width="6.03" height="6.01" fill="#277f8e" shape-rendering="crispEdges"/>
<rect x="148.44" y="310.57" width="6.03" height="6.01" fill="#2e6e8e" shape-rendering="crispEdges"/>
<rect x="154.17" y="310.57" width="6.03" height="6.01" fill="#23898d" shape-rendering="crispEdges"/>
<rect x="159.89" y="310.57" width="6.03" height="6.01" fill="#23898d" shape-rendering="crispEdges"/>
<rect x="165.62" y="310.57" width="6.03" height="6.01" fill="#22a784" shape-rendering="crispEdges"/>
<rect x="28.15" y="304.86" width="6.03" height="6.01" fill="#1f9a89" shape-rendering="crispEdges"/>
<rect x="33.88" y="304.86" width="6.03" height="6.01" fill="#277f8e" shape-rendering="crispEdges"/>
<rect x="39.61" y="304.86" width="6.03" height="6.01" fill="#23898d" shape-rendering="crispEdges"/>
<rect x="45.33" y="304.86" width="6.03" height="6.01" fill="#277f8e" shape-rendering="crispEdges"/>
<rect x="51.06" y="304.86" width="6.03" height="6.01" fill="#23898d" shape-rendering="crispEdges"/>
<rect x="56.79" y="304.86" width="6.03" height="6.01" fill="#f9e623" shape-rendering="crispEdges"/>
<rect x="62.52" y="304.86" width="6.03" height="6.01" fill="#277f8e" shape-rendering="crispEdges"/>
<rect x="68.25" y="304.86" width="6.03" height="6.01" fill="#1f9a89" shape-rendering="crispEdges"/>
<rect x="73.97" y="304.86" width="6.03" height="6.01" fill="#22a784" shape-rendering="crispEdges"/>
<rect x="79.70" y="304.86" width="6.03" height="6.01" fill="#277f8e" shape-rendering="crispEdges"/>
<rect x="85.43" y="304.86" width="6.03" height="6.01" fill="#20938c" shape-rendering="crispEdges"/>
<rect x="91.16" y="304.86" width="6.03" height="6.01" fill="#1f9a89" shape-rendering="crispEdges"/>
<rect x="96.89" y="304.86" width="6.03" height="6.01" fill="#20938c" shape-rendering="crispEdges"/>
<rect x="102.61" y="304.86" width="6.03" height="6.01" fill="#2e6e8e" shape-rendering="crispEdges"/>
<rect x="108.34" y="304.86" width="6.03" height="6.01" fill="#23898d" shape-rendering="crispEdges"/>
<rect x="114.07" y="304.86" width="6.03" height="6.01" fill="#f9e623" shape-rendering="crispEdges"/>
<rect x="119.80" y="304.86" width="6.03" height="6.01" fill="#277f8e" shape-rendering="crispEdges"/>
<rect x="125.53" y="304.86" width="6.03" height="6.01" fill="#20938c" shape-rendering="crispEdges"/>
<rect x="131.25" y="304.86" width="6.03" height="6.01" fill="#23898d" shape-rendering="crispEdges"/>
<rect x="136.98" y="304.86" width="6.03" height="6.01" fill="#23898d" shape-rendering="crispEdges"/>
<rect x="142.71" y="304.86" width="6.03" height="6.01" fill="#20938c" shape-rendering="crispEdges"/>
<rect x="148.44" y="304.86" width="6.03" height="6.01" fill="#1f9a89" shape-rendering="crispEdges"/>
<rect x="154.17" y="304.86" width="6.03" height="6.01" fill="#1f9a89" shape-rendering="crispEdges"/>
<rect x="159.89" y="304.86" width="6.03" height="6.01" fill="#2cb27e" shape-rendering="crispEdges"/>
<rect x="165.62" y="304.86" width="6.03" height="6.01" fill="#20938c" shape-rendering="crispEdges"/>
<rect x="28.15" y="299.15" width="6.03" height="6.01" fill="#2e6e8e" shape-rendering="crispEdges"/>
<rect x="33.88" y="299.15" width="6.03" height="6.01" fill="#277f8e" shape-rendering="crispEdges"/>
<rect x="39.61" y="299.15" width="6.03" height="6.01" fill="#23898d" shape-rendering="crispEdges"/>
<rect x="45.33" y="299.15" width="6.03" height="6.01" fill="#1f9a89" shape-rendering="crispEdges"/>
<rect x="51.06" y="299.15" width="6.03" height="6.01" fill="#277f8e" shape-rendering="crispEdges"/>
<rect x="56.79" y="299.15" width="6.03" height="6.01" fill="#2e6e8e" shape-rendering="crispEdges"/>
<rect x="62.52" y="299.15" width="6.03" height="6.01" fill="#1f9a89" shape-rendering="crispEdges"/>
<rect x="68.25" y="299.15" width="6.03" height="6.01" fill="#1f9a89" shape-rendering="crispEdges"/>
<rect x="73.97" y="299.15" width="6.03" height="6.01" fill="#2cb27e" shape-rendering="crispEdges"/>
<rect x="79.70" y="299.15" width="6.03" height="6.01" fill="#34618d" shape-rendering="crispEdges"/>
<rect x="85.43" y="299.15" width="6.03" height="6.01" fill="#20938c" shape-rendering="crispEdges"/>
<rect x="91.16" y="299.15" width="6.03" height="6.01" fill="#1f9a89" shape-rendering="crispEdges"/>
<rect x="96.89" y="299.15" width="6.03" height="6.01" fill="#23898d" shape-rendering="crispEdges"/>
<rect x="102.61" y="299.15" width="6.03" height="6.01" fill="#20938c" shape-rendering="crispEdges"/>
<rect x="108.34" y="299.15" width="6.03" height="6.01" fill="#277f8e" shape-rendering="crispEdges"/>
<rect x="114.07" y="299.15" width="6.03" height="6.01" fill="#1f9a89" shape-rendering="crispEdges"/>
<rect x="119.80" y="299.15" width="6.03" height="6.01" fill="#20938c" shape-rendering="crispEdges"/>
<rect x="125.53" y="299.15" width="6.03" height="6.01" fill="#2cb27e" shape-rendering="crispEdges"/>
<rect x="131.25" y="299.15" width="6.03" height="6.01" fill="#2cb27e" shape-rendering="crispEdges"/>
<rect x="136.98" y="299.15" width="6.03" height="6.01" fill="#2e6e8e" shape-rendering="crispEdges"/>
<rect x="142.71" y="299.15" width="6.03" height="6.01" fill="#1f9a89" shape-rendering="crispEdges"/>
<rect x="148.44" y="299.15" width="6.03" height="6.01" fill="#1f9a89" shape-rendering="crispEdges"/>
<rect x="154.17" y="299.15" width="6.03" height="6.01" fill="#23898d" shape-rendering="crispEdges"/>
<rect x="159.89" y="299.15" width="6.03" height="6.01" fill="#20938c" shape-rendering="crispEdges"/>
<rect x="165.62" y="299.15" width="6.03" height="6.01" fill="#23898d" shape-rendering="crispEdges"/>
<rect x="28.15" y="293.44" width="6.03" height="6.01" fill="#2b768e" shape-rendering="crispEdges"/>
<rect x="33.88" y="293.44" width="6.03" height="6.01" fill="#2b768e" shape-rendering="crispEdges"/>
<rect x="39.61" y="293.44" width="6.03" height="6.01" fill="#23898d" shape-rendering="crispEdges"/>
<rect x="45.33" y="293.44" width="6.03" height="6.01" fill="#20938c" shape-rendering="crispEdges"/>
<rect x="51.06" y="293.44" width="6.03" height="6.01" fill="#23898d" shape-rendering="crispEdges"/>
<rect x="56.79" y="293.44" width="6.03" height="6.01" fill="#1f9a89" shape-rendering="crispEdges"/>
<rect x="62.52" y="293.44" width="6.03" height="6.01" fill="#1f9a89" shape-rendering="crispEdges"/>
<rect x="68.25" y="293.44" width="6.03" height="6.01" fill="#23898d" shape-rendering="crispEdges"/>
<rect x="73.97" y="293.44" width="6.03" height="6.01" fill="#1f9a89" shape-rendering="crispEdges"/>
<rect x="79.70" y="293.44" width="6.03" height="6.01" fill="#f9e623" shape-rendering="crispEdges"/>
<rect x="85.43" y="293.44" width="6.03" height="6.01" fill="#23898d" shape-rendering="crispEdges"/>
<rect x="91.16" y="293.44" width="6.03" height="6.01" fill="#20938c" shape-rendering="crispEdges"/>
<rect x="96.89" y="293.44" width="6.03" height="6.01" fill="#1fa287" shape-rendering="crispEdges"/>
<rect x="102.61" y="293.44" width="6.03" height="6.01" fill="#2cb27e" shape-rendering="crispEdges"/>
<rect x="108.34" y="293.44" width="6.03" height="6.01" fill="#277f8e" shape-rendering="crispEdges"/>
<rect x="114.07" y="293.44" width="6.03" height="6.01" fill="#2cb27e" shape-rendering="crispEdges"/>
<rect x="119.80" y="293.44" width="6.03" height="6.01" fill="#23898d" shape-rendering="crispEdges"/>
<rect x="125.53" y="293.44" width="6.03" height="6.01" fill="#23898d" shape-rendering="crispEdges"/>
<rect x="131.25" y="293.44" width="6.03" height="6.01" fill="#22a784" shape-rendering="crispEdges"/>
<rect x="136.98" y="293.44" width="6.03" height="6.01" fill="#2cb27e" shape-rendering="crispEdges"/>
<rect x="142.71" y="293.44" width="6.03" height="6.01" fill="#277f8e" shape-rendering="crispEdges"/>
<rect x="148.44" y="293.44" width="6.03" height="6.01" fill="#23898d" shape-rendering="crispEdges"/>
<rect x="154.17" y="293.44" width="6.03" height="6.01" fill="#277f8e" shape-rendering="crispEdges"/>
<rect x="159.89" y="293.44" width="6.03" height="6.01" fill="#2e6e8e" shape-rendering="crispEdges"/>
<rect x="165.62" y="293.44" width="6.03" height="6.01" fill="#2cb27e" shape-rendering="crispEdges"/>
<rect x="28.15" y="287.73" width="6.03" height="6.01" fill="#2b768e" shape-rendering="crispEdges"/>
<rect x="33.88" y="287.73" width="6.03" height="6.01" fill="#20938c" shape-rendering="crispEdges"/>
<rect x="39.61" y="287.73" width="6.03" height="6.01" fill="#277f8e" shape-rendering="crispEdges"/>
<rect x="45.33" y="287.73" width="6.03" height="6.01" fill="#2e6e8e" shape-rendering="crispEdges"/>
<rect x="51.06" y="287.73" width="6.03" height="6.01" fill="#2e6e8e" shape-rendering="crispEdges"/>
<rect x="56.79" y="287.73" width="6.03" height="6.01" fill="#23898d" shape-rendering="crispEdges"/>
<rect x="62.52" y="287.73" width="6.03" height="6.01" fill="#20938c" shape-rendering="crispEdges"/>
<rect x="68.25" y="287.73" width="6.03" height="6.01" fill="#2b768e" shape-rendering="crispEdges"/>
<rect x="73.97" y="287.73" width="6.03" height="6.01" fill="#2e6e8e" shape-rendering="crispEdges"/>
<rect x="79.70" y="287.73" width="6.03" height="6.01" fill="#23898d" shape-rendering="crispEdges"/>
<rect x="85.43" y="287.73" width="6.03" height="6.01" fill="#22a784" shape-rendering="crispEdges"/>
<rect x="91.16" y="287.73" width="6.03" height="6.01" fill="#20938c" shape-rendering="crispEdges"/>
<rect x="96.89" y="287.73" width="6.03" height="6.01" fill="#22a784" shape-rendering="crispEdges"/>
<rect x="102.61" y="287.73" width="6.03" height="6.01" fill="#1f9a89" shape-rendering="crispEdges"/>
<rect x="108.34" y="287.73" width="6.03" height="6.01" fill="#22a784" shape-rendering="crispEdges"/>
<rect x="114.07" y="287.73" width="6.03" height="6.01" fill="#1f9a89" shape-rendering="crispEdges"/>
<rect x="119.80" y="287.73" width="6.03" height="6.01" fill="#2cb27e" shape-rendering="crispEdges"/>
<rect x="125.53" y="287.73" width="6.03" height="6.01" fill="#f9e623" shape-rendering="crispEdges"/>
<rect x="131.25" y="287.73" width="6.03" height="6.01" fill="#f9e623" shape-rendering="crispEdges"/>
<rect x="136.98" y="287.73" width="6.03" height="6.01" fill="#23898d" shape-rendering="crispEdges"/>
<rect x="142.71" y="287.73" width="6.03" height="6.01" fill="#20938c" shape-rendering="crispEdges"/>
<rect x="148.44" y="287.73" width="6.03" height="6.01" fill="#2cb27e" shape-rendering="crispEdges"/>
<rect x="154.17" y="287.73" width="6.03" height="6.01" fill="#277f8e" shape-rendering="crispEdges"/>
<rect x="159.89" y="287.73" width="6.03" height="6.01" fill="#2e6e8e" shape-rendering="crispEdges"/>
<rect x="165.62" y="287.73" width="6.03" height="6.01" fill="#1f9a89" shape-rendering="crispEdges"/>
<rect x="28.15" y="282.02" width="6.03" height="6.01" fill="#20938c" shape-rendering="crispEdges"/>
<rect x="33.88" y="282.02" width="6.03" height="6.01" fill="#2b768e" shape-rendering="crispEdges"/>
<rect x="39.61" y="282.02" width="6.03" height="6.01" fill="#277f8e" shape-rendering="crispEdges"/>
<rect x="45.33" y="282.02" width="6.03" height="6.01" fill="#22a784" shape-rendering="crispEdges"/>
<rect x="51.06" y="282.02" width="6.03" height="6.01" fill="#34618d" shape-rendering="crispEdges"/>
<rect x="56.79" y="282.02" width="6.03" height="6.01" fill="#f9e623" shape-rendering="crispEdges"/>
<rect x="62.52" y="282.02" width="6.03" height="6.01" fill="#277f8e" shape-rendering="crispEdges"/>
<rect x="68.25" y="282.02" width="6.03" height="6.01" fill="#1fa287" shape-rendering="crispEdges"/>
<rect x="73.97" y="282.02" width="6.03" height="6.01" fill="#2cb27e" shape-rendering="crispEdges"/>
<rect x="79.70" y="282.02" width="6.03" height="6.01" fill="#1fa287" shape-rendering="crispEdges"/>
<rect x="85.43" y="282.02" width="6.03" height="6.01" fill="#1f9a89" shape-rendering="crispEdges"/>
<rect x="91.16" y="282.02" width="6.03" height="6.01" fill="#1f9a89" shape-rendering="crispEdges"/>
<rect x="96.89" y="282.02" width="6.03" height="6.01" fill="#20938c" shape-rendering="crispEdges"/>
<rect x="102.61" y="282.02" width="6.03" height="6.01" fill="#23898d" shape-rendering="crispEdges"/>
<rect x="108.34" y="282.02" width="6.03" height="6.01" fill="#23898d" shape-rendering="crispEdges"/>
<rect x="114.07" y="282.02" width="6.03" height="6.01" fill="#22a784" shape-rendering="crispEdges"/>
<rect x="119.80" y="282.02" width="6.03" height="6.01" fill="#23898d" shape-rendering="crispEdges"/>
<rect x="125.53" y="282.02" width="6.03" height="6.01" fill="#23898d" shape-rendering="crispEdges"/>
<rect x="131.25" y="282.02" width="6.03" height="6.01" fill="#277f8e" shape-rendering="crispEdges"/>
<rect x="136.98" y="282.02" width="6.03" height="6.01" fill="#2cb27e" shape-rendering="crispEdges"/>
<rect x="142.71" y="282.02" width="6.03" height="6.01" fill="#277f8e" shape-rendering="crispEdges"/>
<rect x="148.44" y="282.02" width="6.03" height="6.01" fill="#34618d" shape-rendering="crispEdges"/>
<rect x="154.17" y="282.02" width="6.03" height="6.01" fill="#2e6e8e" shape-rendering="crispEdges"/>
<rect x="159.89" y="282.02" width="6.03" height="6.01" fill="#277f8e" shape-rendering="crispEdges"/>
<rect x="165.62" y="282.02" width="6.03" height="6.01" fill="#23898d" shape-rendering="crispEdges"/>
<rect x="28.15" y="276.31" width="6.03" height="6.01" fill="#f9e623" shape-rendering="crispEdges"/>
<rect x="33.88" y="276.31" width="6.03" height="6.01" fill="#23898d" shape-rendering="crispEdges"/>
<rect x="39.61" y="276.31" width="6.03" height="6.01" fill="#277f8e" shape-rendering="crispEdges"/>
<rect x="45.33" y="276.31" width="6.03" height="6.01" fill="#1f9a89" shape-rendering="crispEdges"/>
<rect x="51.06" y="276.31" width="6.03" height="6.01" fill="#2b768e" shape-rendering="crispEdges"/>
<rect x="56.79" y="276.31" width="6.03" height="6.01" fill="#2e6e8e" shape-rendering="crispEdges"/>
<rect x="62.52" y="276.31" width="6.03" height="6.01" fill="#1f9a89" shape-rendering="crispEdges"/>
<rect x="68.25" y="276.31" width="6.03" height="6.01" fill="#277f8e" shape-rendering="crispEdges"/>
<rect x="73.97" y="276.31" width="6.03" height="6.01" fill="#22a784" shape-rendering="crispEdges"/>
<rect x="79.70" y="276.31" width="6.03" height="6.01" fill="#277f8e" shape-rendering="crispEdges"/>
<rect x="85.43" y="276.31" width="6.03" height="6.01" fill="#3aba76" shape-rendering="crispEdges"/>
<rect x="91.16" y="276.31" width="6.03" height="6.01" fill="#2b768e" shape-rendering="crispEdges"/>
<rect x="96.89" y="276.31" width="6.03" height="6.01" fill="#2b768e" shape-rendering="crispEdges"/>
<rect x="102.61" y="276.31" width="6.03" height="6.01" fill="#277f8e" shape-rendering="crispEdges"/>
<rect x="108.34" y="276.31" width="6.03" height="6.01" fill="#23898d" shape-rendering="crispEdges"/>
<rect x="114.07" y="276.31" width="6.03" height="6.01" fill="#1fa287" shape-rendering="crispEdges"/>
<rect x="119.80" y="276.31" width="6.03" height="6.01" fill="#23898d" shape-rendering="crispEdges"/>
<rect x="125.53" y="276.31" width="6.03" height="6.01" fill="#1fa287" shape-rendering="crispEdges"/>
<rect x="131.25" y="276.31" width="6.03" height="6.01" fill="#2b768e" shape-rendering="crispEdges"/>
<rect x="136.98" y="276.31" width="6.03" height="6.01" fill="#277f8e" shape-rendering="crispEdges"/>
<rect x="142.71" y="276.31" width="6.03" height="6.01" fill="#1fa287" shape-rendering="crispEdges"/>
<rect x="148.44" y="276.31" width="6.03" height="6.01" fill="#2cb27e" shape-rendering="crispEdges"/>
<rect x="154.17" y="276.31" width="6.03" height="6.01" fill="#1f9a89" shape-rendering="crispEdges"/>
<rect x="159.89" y="276.31" width="6.03" height="6.01" fill="#1f9a89" shape-rendering="crispEdges"/>
<rect x="165.62" y="276.31" width="6.03" height="6.01" fill="#23898d" shape-rendering="crispEdges"/>
<rect x="28.15" y="270.60" width="6.03" height="6.01" fill="#277f8e" shape-rendering="crispEdges"/>
<rect x="33.88" y="270.60" width="6.03" height="6.01" fill="#f9e623" shape-rendering="crispEdges"/>
<rect x="39.61" y="270.60" width="6.03" height="6.01" fill="#1f9a89" shape-rendering="crispEdges"/>
<rect x="45.33" y="270.60" width="6.03" height="6.01" fill="#277f8e" shape-rendering="crispEdges"/>
<rect x="51.06" y="270.60" width="6.03" height="6.01" fill="#20938c" shape-rendering="crispEdges"/>
<rect x="56.79" y="270.60" width="6.03" height="6.01" fill="#277f8e" shape-rendering="crispEdges"/>
<rect x="62.52" y="270.60" width="6.03" height="6.01" fill="#2b768e" shape-rendering="crispEdges"/>
<rect x="68.25" y="270.60" width="6.03" height="6.01" fill="#f9e623" shape-rendering="crispEdges"/>
<rect x="73.97" y="270.60" width="6.03" height="6.01" fill="#1fa287" shape-rendering="crispEdges"/>
<rect x="79.70" y="270.60" width="6.03" height="6.01" fill="#277f8e" shape-rendering="crispEdges"/>
<rect x="85.43" y="270.60" width="6.03" height="6.01" fill="#3aba76" shape-rendering="crispEdges"/>
<rect x="91.16" y="270.60" width="6.03" height="6.01" fill="#1f9a89" shape-rendering="crispEdges"/>
<rect x="96.89" y="270.60" width="6.03" height="6.01" fill="#2b768e" shape-rendering="crispEdges"/>
<rect x="102.61" y="270.60" width="6.03" height="6.01" fill="#1fa287" shape-rendering="crispEdges"/>
<rect x="108.34" y="270.60" width="6.03" height="6.01" fill="#23898d" shape-rendering="crispEdges"/>
<rect x="114.07" y="270.60" width="6.03" height="6.01" fill="#1fa287" shape-rendering="crispEdges"/>
<rect x="119.80" y="270.60" width="6.03" height="6.01" fill="#2cb27e" shape-rendering="crispEdges"/>
<rect x="125.53" y="270.60" width="6.03" height="6.01" fill="#23898d" shape-rendering="crispEdges"/>
<rect x="131.25" y="270.60" width="6.03" height="6.01" fill="#1fa287" shape-rendering="crispEdges"/>
<rect x="136.98" y="270.60" width="6.03" height="6.01" fill="#1f9a89" shape-rendering="crispEdges"/>
<rect x="142.71" y="270.60" width="6.03" height="6.01" fill="#20938c" shape-rendering="crispEdges"/>
<rect x="148.44" y="270.60" width="6.03" height="6.01" fill="#1f9a89" shape-rendering="crispEdges"/>
<rect x="154.17" y="270.60" width="6.03" height="6.01" fill="#1f9a89" shape-rendering="crispEdges"/>
<rect x="159.89" y="270.60" width="6.03" height="6.01" fill="#20938c" shape-rendering="crispEdges"/>
<rect x="165.62" y="270.60" width="6.03" height="6.01" fill="#277f8e" shape-rendering="crispEdges"/>
<rect x="28.15" y="264.89" width="6.03" height="6.01" fill="#1fa287" shape-rendering="crispEdges"/>
<rect x="33.88" y="264.89" width="6.03" height="6.01" fill="#20938c" shape-rendering="crispEdges"/>
<rect x="39.61" y="264.89" width="6.03" height="6.01" fill="#23898d" shape-rendering="crispEdges"/>
<rect x="45.33" y="264.89" width="6.03" height="6.01" fill="#1fa287" shape-rendering="crispEdges"/>
<rect x="51.06" y="264.89" width="6.03" height="6.01" fill="#277f8e" shape-rendering="crispEdges"/>
<rect x="56.79" y="264.89" width="6.03" height="6.01" fill="#2e6e8e" shape-rendering="crispEdges"/>
<rect x="62.52" y="264.89" width="6.03" height="6.01" fill="#20938c" shape-rendering="crispEdges"/>
<rect x="68.25" y="264.89" width="6.03" height="6.01" fill="#1f9a89" shape-rendering="crispEdges"/>
<rect x="73.97" y="264.89" width="6.03" height="6.01" fill="#277f8e" shape-rendering="crispEdges"/>
<rect x="79.70" y="264.89" width="6.03" height="6.01" fill="#2b768e" shape-rendering="crispEdges"/>
<rect x="85.43" y="264.89" width="6.03" height="6.01" fill="#3aba76" shape-rendering="crispEdges"/>
<rect x="91.16" y="264.89" width="6.03" height="6.01" fill="#1f9a89" shape-rendering="crispEdges"/>
<rect x="96.89" y="264.89" width="6.03" height="6.01" fill="#2b768e" shape-rendering="crispEdges"/>
<rect x="102.61" y="264.89" width="6.03" height="6.01" fill="#1fa287" shape-rendering="crispEdges"/>
<rect x="108.34" y="264.89" width="6.03" height="6.01" fill="#22a784" shape-rendering="crispEdges"/>
<rect x="114.07" y="264.89" width="6.03" height="6.01" fill="#f9e623" shape-rendering="crispEdges"/>
<rect x="119.80" y="264.89" width="6.03" height="6.01" fill="#2cb27e" shape-rendering="crispEdges"/>
<rect x="125.53" y="264.89" width="6.03" height="6.01" fill="#2e6e8e" shape-rendering="crispEdges"/>
<rect x="131.25" y="264.89" width="6.03" height="6.01" fill="#20938c" shape-rendering="crispEdges"/>
<rect x="136.98" y="264.89" width="6.03" height="6.01" fill="#2e6e8e" shape-rendering="crispEdges"/>
<rect x="142.71" y="264.89" width="6.03" height="6.01" fill="#2cb27e" shape-rendering="crispEdges"/>
<rect x="148.44" y="264.89" width="6.03" height="6.01" fill="#2cb27e" shape-rendering="crispEdges"/>
<rect x="154.17" y="264.89" width="6.03" height="6.01" fill="#22a784" shape-rendering="crispEdges"/>
<rect x="159.89" y="264.89" width="6.03" height="6.01" fill="#277f8e" shape-rendering="crispEdges"/>
<rect x="165.62" y="264.89" width="6.03" height="6.01" fill="#23898d" shape-rendering="crispEdges"/>
<rect x="28.15" y="259.18" width="6.03" height="6.01" fill="#23898d" shape-rendering="crispEdges"/>
<rect x="33.88" y="259.18" width="6.03" height="6.01" fill="#2b768e" shape-rendering="crispEdges"/>
<rect x="39.61" y="259.18" width="6.03" height="6.01" fill="#277f8e" shape-rendering="crispEdges"/>
<rect x="45.33" y="259.18" width="6.03" height="6.01" fill="#1f9a89" shape-rendering="crispEdges"/>
<rect x="51.06" y="259.18" width="6.03" height="6.01" fill="#34618d" shape-rendering="crispEdges"/>
<rect x="56.79" y="259.18" width="6.03" height="6.01" fill="#1f9a89" shape-rendering="crispEdges"/>
<rect x="62.52" y="259.18" width="6.03" height="6.01" fill="#277f8e" shape-rendering="crispEdges"/>
<rect x="68.25" y="259.18" width="6.03" height="6.01" fill="#23898d" shape-rendering="crispEdges"/>
<rect x="73.97" y="259.18" width="6.03" height="6.01" fill="#277f8e" shape-rendering="crispEdges"/>
<rect x="79.70" y="259.18" width="6.03" height="6.01" fill="#f9e623" shape-rendering="crispEdges"/>
<rect x="85.43" y="259.18" width="6.03" height="6.01" fill="#20938c" shape-rendering="crispEdges"/>
<rect x="91.16" y="259.18" width="6.03" height="6.01" fill="#1fa287" shape-rendering="crispEdges"/>
<rect x="96.89" y="259.18" width="6.03" height="6.01" fill="#23898d" shape-rendering="crispEdges"/>
<rect x="102.61" y="259.18" width="6.03" height="6.01" fill="#277f8e" shape-rendering="crispEdges"/>
<rect x="108.34" y="259.18" width="6.03" height="6.01" fill="#277f8e" shape-rendering="crispEdges"/>
<rect x="114.07" y="259.18" width="6.03" height="6.01" fill="#20938c" shape-rendering="crispEdges"/>
<rect x="119.80" y="259.18" width="6.03" height="6.01" fill="#2cb27e" shape-rendering="crispEdges"/>
<rect x="125.53" y="259.18" width="6.03" height="6.01" fill="#1f9a89" shape-rendering="crispEdges"/>
<rect x="131.25" y="259.18" width="6.03" height="6.01" fill="#20938c" shape-rendering="crispEdges"/>
<rect x="136.98" y="259.18" width="6.03" height="6.01" fill="#2b768e" shape-rendering="crispEdges"/>
<rect x="142.71" y="259.18" width="6.03" height="6.01" fill="#277f8e" shape-rendering="crispEdges"/>
<rect x="148.44" y="259.18" width="6.03" height="6.01" fill="#1f9a89" shape-rendering="crispEdges"/>
<rect x="154.17" y="259.18" width="6.03" height="6.01" fill="#1fa287" shape-rendering="crispEdges"/>
<rect x="159.89" y="259.18" width="6.03" height="6.01" fill="#277f8e" shape-rendering="crispEdges"/>
<rect x="165.62" y="259.18" width="6.03" height="6.01" fill="#20938c" shape-rendering="crispEdges"/>
<rect x="28.15" y="253.47" width="6.03" height="6.01" fill="#1fa287" shape-rendering="crispEdges"/>
<rect x="33.88" y="253.47" width="6.03" height="6.01" fill="#1fa287" shape-rendering="crispEdges"/>
<rect x="39.61" y="253.47" width="6.03" height="6.01" fill="#1f9a89" shape-rendering="crispEdges"/>
<rect x="45.33" y="253.47" width="6.03" height="6.01" fill="#277f8e" shape-rendering="crispEdges"/>
<rect x="51.06" y="253.47" width="6.03" height="6.01" fill="#277f8e" shape-rendering="crispEdges"/>
<rect x="56.79" y="253.47" width="6.03" height="6.01" fill="#22a784" shape-rendering="crispEdges"/>
<rect x="62.52" y="253.47" width="6.03" height="6.01" fill="#2cb27e" shape-rendering="crispEdges"/>
<rect x="68.25" y="253.47" width="6.03" height="6.01" fill="#23898d" shape-rendering="crispEdges"/>
<rect x="73.97" y="253.47" width="6.03" height="6.01" fill="#2cb27e" shape-rendering="crispEdges"/>
<rect x="79.70" y="253.47" width="6.03" height="6.01" fill="#22a784" shape-rendering="crispEdges"/>
<rect x="85.43" y="253.47" width="6.03" height="6.01" fill="#2cb27e" shape-rendering="crispEdges"/>
<rect x="91.16" y="253.47" width="6.03" height="6.01" fill="#2b768e" shape-rendering="crispEdges"/>
<rect x="96.89" y="253.47" width="6.03" height="6.01" fill="#1fa287" shape-rendering="crispEdges"/>
<rect x="102.61" y="253.47" width="6.03" height="6.01" fill="#20938c" shape-rendering="crispEdges"/>
<rect x="108.34" y="253.47" width="6.03" height="6.01" fill="#277f8e" shape-rendering="crispEdges"/>
<rect x="114.07" y="253.47" width="6.03" height="6.01" fill="#2cb27e" shape-rendering="crispEdges"/>
<rect x="119.80" y="253.47" width="6.03" height="6.01" fill="#2b768e" shape-rendering="crispEdges"/>
<rect x="125.53" y="253.47" width="6.03" height="6.01" fill="#20938c" shape-rendering="crispEdges"/>
<rect x="131.25" y="253.47" width="6.03" height="6.01" fill="#22a784" shape-rendering="crispEdges"/>
<rect x="136.98" y="253.47" width="6.03" height="6.01" fill="#2cb27e" shape-rendering="crispEdges"/>
<rect x="142.71" y="253.47" width="6.03" height="6.01" fill="#277f8e" shape-rendering="crispEdges"/>
<rect x="148.44" y="253.47" width="6.03" height="6.01" fill="#2e6e8e" shape-rendering="crispEdges"/>
<rect x="154.17" y="253.47" width="6.03" height="6.01" fill="#22a784" shape-rendering="crispEdges"/>
<rect x="159.89" y="253.47" width="6.03" height="6.01" fill="#2cb27e" shape-rendering="crispEdges"/>
<rect x="165.62" y="253.47" width="6.03" height="6.01" fill="#1f9a89" shape-rendering="crispEdges"/>
<rect x="28.15" y="247.76" width="6.03" height="6.01" fill="#23898d" shape-rendering="crispEdges"/>
<rect x="33.88" y="247.76" width="6.03" height="6.01" fill="#23898d" shape-rendering="crispEdges"/>
<rect x="39.61" y="247.76" width="6.03" height="6.01" fill="#2cb27e" shape-rendering="crispEdges"/>
<rect x="45.33" y="247.76" width="6.03" height="6.01" fill="#f9e623" shape-rendering="crispEdges"/>
<rect x="51.06" y="247.76" width="6.03" height="6.01" fill="#f9e623" shape-rendering="crispEdges"/>
<rect x="56.79" y="247.76" width="6.03" height="6.01" fill="#1fa287" shape-rendering="crispEdges"/>
<rect x="62.52" y="247.76" width="6.03" height="6.01" fill="#1f9a89" shape-rendering="crispEdges"/>
<rect x="68.25" y="247.76" width="6.03" height="6.01" fill="#277f8e" shape-rendering="crispEdges"/>
<rect x="73.97" y="247.76" width="6.03" height="6.01" fill="#20938c" shape-rendering="crispEdges"/>
<rect x="79.70" y="247.76" width="6.03" height="6.01" fill="#277f8e" shape-rendering="crispEdges"/>
<rect x="85.43" y="247.76" width="6.03" height="6.01" fill="#277f8e" shape-rendering="crispEdges"/>
<rect x="91.16" y="247.76" width="6.03" height="6.01" fill="#20938c" shape-rendering="crispEdges"/>
<rect x="96.89" y="247.76" width="6.03" height="6.01" fill="#277f8e" shape-rendering="crispEdges"/>
<rect x="102.61" y="247.76" width="6.03" height="6.01" fill="#22a784" shape-rendering="crispEdges"/>
<rect x="108.34" y="247.76" width="6.03" height="6.01" fill="#277f8e" shape-rendering="crispEdges"/>
<rect x="114.07" y="247.76" width="6.03" height="6.01" fill="#2cb27e" shape-rendering="crispEdges"/>
<rect x="119.80" y="247.76" width="6.03" height="6.01" fill="#1f9a89" shape-rendering="crispEdges"/>
<rect x="125.53" y="247.76" width="6.03" height="6.01" fill="#277f8e" shape-rendering="crispEdges"/>
<rect x="131.25" y="247.76" width="6.03" height="6.01" fill="#1f9a89" shape-rendering="crispEdges"/>
<rect x="136.98" y="247.76" width="6.03" height="6.01" fill="#2e6e8e" shape-rendering="crispEdges"/>
<rect x="142.71" y="247.76" width="6.03" height="6.01" fill="#23898d" shape-rendering="crispEdges"/>
<rect x="148.44" y="247.76" width="6.03" height="6.01" fill="#1fa287" shape-rendering="crispEdges"/>
<rect x="154.17" y="247.76" width="6.03" height="6.01" fill="#23898d" shape-rendering="crispEdges"/>
<rect x="159.89" y="247.76" width="6.03" height="6.01" fill="#20938c" shape-rendering="crispEdges"/>
<rect x="165.62" y="247.76" width="6.03" height="6.01" fill="#f9e623" shape-rendering="crispEdges"/>
<rect x="28.15" y="242.05" width="6.03" height="6.01" fill="#277f8e" shape-rendering="crispEdges"/>
<rect x="33.88" y="242.05" width="6.03" height="6.01" fill="#277f8e" shape-rendering="crispEdges"/>
<rect x="39.61" y="242.05" width="6.03" height="6.01" fill="#1f9a89" shape-rendering="crispEdges"/>
<rect x="45.33" y="242.05" width="6.03" height="6.01" fill="#1fa287" shape-rendering="crispEdges"/>
<rect x="51.06" y="242.05" width="6.03" height="6.01" fill="#1fa287" shape-rendering="crispEdges"/>
<rect x="56.79" y="242.05" width="6.03" height="6.01" fill="#277f8e" shape-rendering="crispEdges"/>
<rect x="62.52" y="242.05" width="6.03" height="6.01" fill="#277f8e" shape-rendering="crispEdges"/>
<rect x="68.25" y="242.05" width="6.03" height="6.01" fill="#1f9a89" shape-rendering="crispEdges"/>
<rect x="73.97" y="242.05" width="6.03" height="6.01" fill="#20938c" shape-rendering="crispEdges"/>
<rect x="79.70" y="242.05" width="6.03" height="6.01" fill="#1f9a89" shape-rendering="crispEdges"/>
<rect x="85.43" y="242.05" width="6.03" height="6.01" fill="#3aba76" shape-rendering="crispEdges"/>
<rect x="91.16" y="242.05" width="6.03" height="6.01" fill="#20938c" shape-rendering="crispEdges"/>
<rect x="96.89" y="242.05" width="6.03" height="6.01" fill="#1fa287" shape-rendering="crispEdges"/>
<rect x="102.61" y="242.05" width="6.03" height="6.01" fill="#2e6e8e" shape-rendering="crispEdges"/>
<rect x="108.34" y="242.05" width="6.03" height="6.01" fill="#f9e623" shape-rendering="crispEdges"/>
<rect x="114.07" y="242.05" width="6.03" height="6.01" fill="#20938c" shape-rendering="crispEdges"/>
<rect x="119.80" y="242.05" width="6.03" height="6.01" fill="#277f8e" shape-rendering="crispEdges"/>
<rect x="125.53" y="242.05" width="6.03" height="6.01" fill="#2b768e" shape-rendering="crispEdges"/>
<rect x="131.25" y="242.05" width="6.03" height="6.01" fill="#22a784" shape-rendering="crispEdges"/>
<rect x="136.98" y="242.05" width="6.03" height="6.01" fill="#1f9a89" shape-rendering="crispEdges"/>
<rect x="142.71" y="242.05" width="6.03" height="6.01" fill="#23898d" shape-rendering="crispEdges"/>
<rect x="148.44" y="242.05" width="6.03" height="6.01" fill="#2e6e8e" shape-rendering="crispEdges"/>
<rect x="154.17" y="242.05" width="6.03" height="6.01" fill="#2cb27e" shape-rendering="crispEdges"/>
<rect x="159.89" y="242.05" width="6.03" height="6.01" fill="#1fa287" shape-rendering="crispEdges"/>
<rect x="165.62" y="242.05" width="6.03" height="6.01" fill="#2cb27e" shape-rendering="crispEdges"/>
<rect x="28.15" y="236.34" width="6.03" height="6.01" fill="#f9e623" shape-rendering="crispEdges"/>
<rect x="33.88" y="236.34" width="6.03" height="6.01" fill="#22a784" shape-rendering="crispEdges"/>
<rect x="39.61" y="236.34" width="6.03" height="6.01" fill="#277f8e" shape-rendering="crispEdges"/>
<rect x="45.33" y="236.34" width="6.03" height="6.01" fill="#20938c" shape-rendering="crispEdges"/>
<rect x="51.06" y="236.34" width="6.03" height="6.01" fill="#1f9a89" shape-rendering="crispEdges"/>
<rect x="56.79" y="236.34" width="6.03" height="6.01" fill="#277f8e" shape-rendering="crispEdges"/>
<rect x="62.52" y="236.34" width="6.03" height="6.01" fill="#1fa287" shape-rendering="crispEdges"/>
<rect x="68.25" y="236.34" width="6.03" height="6.01" fill="#2e6e8e" shape-rendering="crispEdges"/>
<rect x="73.97" y="236.34" width="6.03" height="6.01" fill="#22a784" shape-rendering="crispEdges"/>
<rect x="79.70" y="236.34" width="6.03" height="6.01" fill="#23898d" shape-rendering="crispEdges"/>
<rect x="85.43" y="236.34" width="6.03" height="6.01" fill="#277f8e" shape-rendering="crispEdges"/>
<rect x="91.16" y="236.34" width="6.03" height="6.01" fill="#23898d" shape-rendering="crispEdges"/>
<rect x="96.89" y="236.34" width="6.03" height="6.01" fill="#22a784" shape-rendering="crispEdges"/>
<rect x="102.61" y="236.34" width="6.03" height="6.01" fill="#3aba76" shape-rendering="crispEdges"/>
<rect x="108.34" y="236.34" width="6.03" height="6.01" fill="#1fa287" shape-rendering="crispEdges"/>
<rect x="114.07" y="236.34" width="6.03" height="6.01" fill="#22a784" shape-rendering="crispEdges"/>
<rect x="119.80" y="236.34" width="6.03" height="6.01" fill="#1f9a89" shape-rendering="crispEdges"/>
<rect x="125.53" y="236.34" width="6.03" height="6.01" fill="#23898d" shape-rendering="crispEdges"/>
<rect x="131.25" y="236.34" width="6.03" height="6.01" fill="#f9e623" shape-rendering="crispEdges"/>
<rect x="136.98" y="236.34" width="6.03" height="6.01" fill="#3aba76" shape-rendering="crispEdges"/>
<rect x="142.71" y="236.34" width="6.03" height="6.01" fill="#1f9a89" shape-rendering="crispEdges"/>
<rect x="148.44" y="236.34" width="6.03" height="6.01" fill="#20938c" shape-rendering="crispEdges"/>
<rect x="154.17" y="236.34" width="6.03" height="6.01" fill="#277f8e" shape-rendering="crispEdges"/>
<rect x="159.89" y="236.34" width="6.03" height="6.01" fill="#3aba76" shape-rendering="crispEdges"/>
<rect x="165.62" y="236.34" width="6.03" height="6.01" fill="#22a784" shape-rendering="crispEdges"/>
<rect x="28.15" y="230.63" width="6.03" height="6.01" fill="#20938c" shape-rendering="crispEdges"/>
<rect x="33.88" y="230.63" width="6.03" height="6.01" fill="#f9e623" shape-rendering="crispEdges"/>
<rect x="39.61" y="230.63" width="6.03" height="6.01" fill="#1fa287" shape-rendering="crispEdges"/>
<rect x="45.33" y="230.63" width="6.03" height="6.01" fill="#277f8e" shape-rendering="crispEdges"/>
<rect x="51.06" y="230.63" width="6.03" height="6.01" fill="#f9e623" shape-rendering="crispEdges"/>
<rect x="56.79" y="230.63" width="6.03" height="6.01" fill="#1fa287" shape-rendering="crispEdges"/>
<rect x="62.52" y="230.63" width="6.03" height="6.01" fill="#23898d" shape-rendering="crispEdges"/>
<rect x="68.25" y="230.63" width="6.03" height="6.01" fill="#2e6e8e" shape-rendering="crispEdges"/>
<rect x="73.97" y="230.63" width="6.03" height="6.01" fill="#2cb27e" shape-rendering="crispEdges"/>
<rect x="79.70" y="230.63" width="6.03" height="6.01" fill="#2b768e" shape-rendering="crispEdges"/>
<rect x="85.43" y="230.63" width="6.03" height="6.01" fill="#23898d" shape-rendering="crispEdges"/>
<rect x="91.16" y="230.63" width="6.03" height="6.01" fill="#3aba76" shape-rendering="crispEdges"/>
<rect x="96.89" y="230.63" width="6.03" height="6.01" fill="#2e6e8e" shape-rendering="crispEdges"/>
<rect x="102.61" y="230.63" width="6.03" height="6.01" fill="#20938c" shape-rendering="crispEdges"/>
<rect x="108.34" y="230.63" width="6.03" height="6.01" fill="#277f8e" shape-rendering="crispEdges"/>
<rect x="114.07" y="230.63" width="6.03" height="6.01" fill="#3aba76" shape-rendering="crispEdges"/>
<rect x="119.80" y="230.63" width="6.03" height="6.01" fill="#277f8e" shape-rendering="crispEdges"/>
<rect x="125.53" y="230.63" width="6.03" height="6.01" fill="#2e6e8e" shape-rendering="crispEdges"/>
<rect x="131.25" y="230.63" width="6.03" height="6.01" fill="#23898d" shape-rendering="crispEdges"/>
<rect x="136.98" y="230.63" width="6.03" height="6.01" fill="#20938c" shape-rendering="crispEdges"/>
<rect x="142.71" y="230.63" width="6.03" height="6.01" fill="#3aba76" shape-rendering="crispEdges"/>
<rect x="148.44" y="230.63" width="6.03" height="6.01" fill="#2b768e" shape-rendering="crispEdges"/>
<rect x="154.17" y="230.63" width="6.03" height="6.01" fill="#277f8e" shape-rendering="crispEdges"/>
<rect x="159.89" y="230.63" width="6.03" height="6.01" fill="#2cb27e" shape-rendering="crispEdges"/>
<rect x="165.62" y="230.63" width="6.03" height="6.01" fill="#22a784" shape-rendering="crispEdges"/>
<rect x="28.15" y="224.92" width="6.03" height="6.01" fill="#277f8e" shape-rendering="crispEdges"/>
<rect x="33.88" y="224.92" width="6.03" height="6.01" fill="#23898d" shape-rendering="crispEdges"/>
<rect x="39.61" y="224.92" width="6.03" height="6.01" fill="#3aba76" shape-rendering="crispEdges"/>
<rect x="45.33" y="224.92" width="6.03" height="6.01" fill="#2e6e8e" shape-rendering="crispEdges"/>
<rect x="51.06" y="224.92" width="6.03" height="6.01" fill="#3aba76" shape-rendering="crispEdges"/>
<rect x="56.79" y="224.92" width="6.03" height="6.01" fill="#f9e623" shape-rendering="crispEdges"/>
<rect x="62.52" y="224.92" width="6.03" height="6.01" fill="#277f8e" shape-rendering="crispEdges"/>
<rect x="68.25" y="224.92" width="6.03" height="6.01" fill="#1fa287" shape-rendering="crispEdges"/>
<rect x="73.97" y="224.92" width="6.03" height="6.01" fill="#1fa287" shape-rendering="crispEdges"/>
<rect x="79.70" y="224.92" width="6.03" height="6.01" fill="#20938c" shape-rendering="crispEdges"/>
<rect x="85.43" y="224.92" width="6.03" height="6.01" fill="#1fa287" shape-rendering="crispEdges"/>
<rect x="91.16" y="224.92" width="6.03" height="6.01" fill="#2cb27e" shape-rendering="crispEdges"/>
<rect x="96.89" y="224.92" width="6.03" height="6.01" fill="#22a784" shape-rendering="crispEdges"/>
<rect x="102.61" y="224.92" width="6.03" height="6.01" fill="#20938c" shape-rendering="crispEdges"/>
<rect x="108.34" y="224.92" width="6.03" height="6.01" fill="#1f9a89" shape-rendering="crispEdges"/>
<rect x="114.07" y="224.92" width="6.03" height="6.01" fill="#2cb27e" shape-rendering="crispEdges"/>
<rect x="119.80" y="224.92" width="6.03" height="6.01" fill="#3aba76" shape-rendering="crispEdges"/>
<rect x="125.53" y="224.92" width="6.03" height="6.01" fill="#23898d" shape-rendering="crispEdges"/>
<rect x="131.25" y="224.92" width="6.03" height="6.01" fill="#22a784" shape-rendering="crispEdges"/>
<rect x="136.98" y="224.92" width="6.03" height="6.01" fill="#23898d" shape-rendering="crispEdges"/>
<rect x="142.71" y="224.92" width="6.03" height="6.01" fill="#3aba76" shape-rendering="crispEdges"/>
<rect x="148.44" y="224.92" width="6.03" height="6.01" fill="#1f9a89" shape-rendering="crispEdges"/>
<rect x="154.17" y="224.92" width="6.03" height="6.01" fill="#20938c" shape-rendering="crispEdges"/>
<rect x="159.89" y="224.92" width="6.03" height="6.01" fill="#34618d" shape-rendering="crispEdges"/>
<rect x="165.62" y="224.92" width="6.03" height="6.01" fill="#f9e623" shape-rendering="crispEdges"/>
<rect x="28.15" y="219.21" width="6.03" height="6.01" fill="#20938c" shape-rendering="crispEdges"/>
<rect x="33.88" y="219.21" width="6.03" height="6.01" fill="#2e6e8e" shape-rendering="crispEdges"/>
<rect x="39.61" y="219.21" width="6.03" height="6.01" fill="#2b768e" shape-rendering="crispEdges"/>
<rect x="45.33" y="219.21" width="6.03" height="6.01" fill="#34618d" shape-rendering="crispEdges"/>
<rect x="51.06" y="219.21" width="6.03" height="6.01" fill="#34618d" shape-rendering="crispEdges"/>
<rect x="56.79" y="219.21" width="6.03" height="6.01" fill="#23898d" shape-rendering="crispEdges"/>
<rect x="62.52" y="219.21" width="6.03" height="6.01" fill="#39558c" shape-rendering="crispEdges"/>
<rect x="68.25" y="219.21" width="6.03" height="6.01" fill="#1fa287" shape-rendering="crispEdges"/>
<rect x="73.97" y="219.21" width="6.03" height="6.01" fill="#2e6e8e" shape-rendering="crispEdges"/>
<rect x="79.70" y="219.21" width="6.03" height="6.01" fill="#20938c" shape-rendering="crispEdges"/>
<rect x="85.43" y="219.21" width="6.03" height="6.01" fill="#2e6e8e" shape-rendering="crispEdges"/>
<rect x="91.16" y="219.21" width="6.03" height="6.01" fill="#2cb27e" shape-rendering="crispEdges"/>
<rect x="96.89" y="219.21" width="6.03" height="6.01" fill="#1fa287" shape-rendering="crispEdges"/>
<rect x="102.61" y="219.21" width="6.03" height="6.01" fill="#3aba76" shape-rendering="crispEdges"/>
<rect x="108.34" y="219.21" width="6.03" height="6.01" fill="#f9e623" shape-rendering="crispEdges"/>
<rect x="114.07" y="219.21" width="6.03" height="6.01" fill="#23898d" shape-rendering="crispEdges"/>
<rect x="119.80" y="219.21" width="6.03" height="6.01" fill="#2cb27e" shape-rendering="crispEdges"/>
<rect x="125.53" y="219.21" width="6.03" height="6.01" fill="#277f8e" shape-rendering="crispEdges"/>
<rect x="131.25" y="219.21" width="6.03" height="6.01" fill="#31688d" shape-rendering="crispEdges"/>
<rect x="136.98" y="219.21" width="6.03" height="6.01" fill="#20938c" shape-rendering="crispEdges"/>
<rect x="142.71" y="219.21" width="6.03" height="6.01" fill="#277f8e" shape-rendering="crispEdges"/>
<rect x="148.44" y="219.21" width="6.03" height="6.01" fill="#2e6e8e" shape-rendering="crispEdges"/>
<rect x="154.17" y="219.21" width="6.03" height="6.01" fill="#277f8e" shape-rendering="crispEdges"/>
<rect x="159.89" y="219.21" width="6.03" height="6.01" fill="#1fa287" shape-rendering="crispEdges"/>
<rect x="165.62" y="219.21" width="6.03" height="6.01" fill="#2b768e" shape-rendering="crispEdges"/>
<rect x="28.15" y="213.50" width="6.03" height="6.01" fill="#20938c" shape-rendering="crispEdges"/>
<rect x="33.88" y="213.50" width="6.03" height="6.01" fill="#2e6e8e" shape-rendering="crispEdges"/>
<rect x="39.61" y="213.50" width="6.03" height="6.01" fill="#277f8e" shape-rendering="crispEdges"/>
<rect x="45.33" y="213.50" width="6.03" height="6.01" fill="#20938c" shape-rendering="crispEdges"/>
<rect x="51.06" y="213.50" width="6.03" height="6.01" fill="#277f8e" shape-rendering="crispEdges"/>
<rect x="56.79" y="213.50" width="6.03" height="6.01" fill="#2e6e8e" shape-rendering="crispEdges"/>
<rect x="62.52" y="213.50" width="6.03" height="6.01" fill="#277f8e" shape-rendering="crispEdges"/>
<rect x="68.25" y="213.50" width="6.03" height="6.01" fill="#23898d" shape-rendering="crispEdges"/>
<rect x="73.97" y="213.50" width="6.03" height="6.01" fill="#20938c" shape-rendering="crispEdges"/>
<rect x="79.70" y="213.50" width="6.03" height="6.01" fill="#277f8e" shape-rendering="crispEdges"/>
<rect x="85.43" y="213.50" width="6.03" height="6.01" fill="#51c469" shape-rendering="crispEdges"/>
<rect x="91.16" y="213.50" width="6.03" height="6.01" fill="#1fa287" shape-rendering="crispEdges"/>
<rect x="96.89" y="213.50" width="6.03" height="6.01" fill="#2cb27e" shape-rendering="crispEdges"/>
<rect x="102.61" y="213.50" width="6.03" height="6.01" fill="#1f9a89" shape-rendering="crispEdges"/>
<rect x="108.34" y="213.50" width="6.03" height="6.01" fill="#23898d" shape-rendering="crispEdges"/>
<rect x="114.07" y="213.50" width="6.03" height="6.01" fill="#277f8e" shape-rendering="crispEdges"/>
<rect x="119.80" y="213.50" width="6.03" height="6.01" fill="#277f8e" shape-rendering="crispEdges"/>
<rect x="125.53" y="213.50" width="6.03" height="6.01" fill="#23898d" shape-rendering="crispEdges"/>
<rect x="131.25" y="213.50" width="6.03" height="6.01" fill="#22a784" shape-rendering="crispEdges"/>
<rect x="136.98" y="213.50" width="6.03" height="6.01" fill="#1fa287" shape-rendering="crispEdges"/>
<rect x="142.71" y="213.50" width="6.03" height="6.01" fill="#277f8e" shape-rendering="crispEdges"/>
<rect x="148.44" y="213.50" width="6.03" height="6.01" fill="#51c469" shape-rendering="crispEdges"/>
<rect x="154.17" y="213.50" width="6.03" height="6.01" fill="#1f9a89" shape-rendering="crispEdges"/>
<rect x="159.89" y="213.50" width="6.03" height="6.01" fill="#34618d" shape-rendering="crispEdges"/>
<rect x="165.62" y="213.50" width="6.03" height="6.01" fill="#23898d" shape-rendering="crispEdges"/>
<rect x="28.15" y="213.50" width="143.20" height="142.75" fill="none" stroke="#2b2b2b" stroke-width="1.0"/>
<line x1="31.01" y1="356.25" x2="31.01" y2="358.65" stroke="#2b2b2b" stroke-width="0.9"/>
<text x="0.00" y="0.00" font-size="8.0" text-anchor="middle" font-weight="normal" font-style="normal" fill="#1a1a1a" font-family='"Liberation Sans", sans-serif' transform="translate(31.01 367.05) scale(0.875 1)">0</text>
<line x1="25.75" y1="353.39" x2="28.15" y2="353.39" stroke="#2b2b2b" stroke-width="0.9"/>
<text x="0.00" y="0.00" font-size="8.0" text-anchor="end" font-weight="normal" font-style="normal" fill="#1a1a1a" font-family='"Liberation Sans", sans-serif' transform="translate(22.75 356.25) scale(0.875 1)">0</text>
<line x1="59.65" y1="356.25" x2="59.65" y2="358.65" stroke="#2b2b2b" stroke-width="0.9"/>
<text x="0.00" y="0.00" font-size="8.0" text-anchor="middle" font-weight="normal" font-style="normal" fill="#1a1a1a" font-family='"Liberation Sans", sans-serif' transform="translate(59.65 367.05) scale(0.875 1)">5</text>
<line x1="25.75" y1="324.85" x2="28.15" y2="324.85" stroke="#2b2b2b" stroke-width="0.9"/>
<text x="0.00" y="0.00" font-size="8.0" text-anchor="end" font-weight="normal" font-style="normal" fill="#1a1a1a" font-family='"Liberation Sans", sans-serif' transform="translate(22.75 327.70) scale(0.875 1)">5</text>
<line x1="88.29" y1="356.25" x2="88.29" y2="358.65" stroke="#2b2b2b" stroke-width="0.9"/>
<text x="0.00" y="0.00" font-size="8.0" text-anchor="middle" font-weight="normal" font-style="normal" fill="#1a1a1a" font-family='"Liberation Sans", sans-serif' transform="translate(88.29 367.05) scale(0.875 1)">10</text>
<line x1="25.75" y1="296.30" x2="28.15" y2="296.30" stroke="#2b2b2b" stroke-width="0.9"/>
<text x="0.00" y="0.00" font-size="8.0" text-anchor="end" font-weight="normal" font-style="normal" fill="#1a1a1a" font-family='"Liberation Sans", sans-serif' transform="translate(22.75 299.15) scale(0.875 1)">10</text>
<line x1="116.93" y1="356.25" x2="116.93" y2="358.65" stroke="#2b2b2b" stroke-width="0.9"/>
<text x="0.00" y="0.00" font-size="8.0" text-anchor="middle" font-weight="normal" font-style="normal" fill="#1a1a1a" font-family='"Liberation Sans", sans-serif' transform="translate(116.93 367.05) scale(0.875 1)">15</text>
<line x1="25.75" y1="267.75" x2="28.15" y2="267.75" stroke="#2b2b2b" stroke-width="0.9"/>
<text x="0.00" y="0.00" font-size="8.0" text-anchor="end" font-weight="normal" font-style="normal" fill="#1a1a1a" font-family='"Liberation Sans", sans-serif' transform="translate(22.75 270.60) scale(0.875 1)">15</text>
<line x1="145.57" y1="356.25" x2="145.57" y2="358.65" stroke="#2b2b2b" stroke-width="0.9"/>
<text x="0.00" y="0.00" font-size="8.0" text-anchor="middle" font-weight="normal" font-style="normal" fill="#1a1a1a" font-family='"Liberation Sans", sans-serif' transform="translate(145.57 367.05) scale(0.875 1)">20</text>
<line x1="25.75" y1="239.19" x2="28.15" y2="239.19" stroke="#2b2b2b" stroke-width="0.9"/>
<text x="0.00" y="0.00" font-size="8.0" text-anchor="end" font-weight="normal" font-style="normal" fill="#1a1a1a" font-family='"Liberation Sans", sans-serif' transform="translate(22.75 242.04) scale(0.875 1)">20</text>
<text x="100.00" y="380.60" font-size="11" text-anchor="middle" font-weight="normal" font-style="normal" fill="#111" font-family='"Liberation Sans", sans-serif'>Column #</text>
<text x="8.90" y="284.10" font-size="11.2" text-anchor="middle" font-weight="normal" font-style="normal" fill="#111" font-family='"Liberation Sans", sans-serif' transform="rotate(-90 8.90 284.10)">Row #</text>
<defs><linearGradient id="vir" x1="0" y1="1" x2="0" y2="0"><stop offset="0.00" stop-color="#440154"/><stop offset="0.05" stop-color="#481467"/><stop offset="0.10" stop-color="#482475"/><stop offset="0.15" stop-color="#45347f"/><stop offset="0.20" stop-color="#404387"/><stop offset="0.25" stop-color="#39558c"/><stop offset="0.30" stop-color="#33638d"/><stop offset="0.35" stop-color="#2d708e"/><stop offset="0.40" stop-color="#287d8e"/><stop offset="0.45" stop-color="#238a8d"/><stop offset="0.50" stop-color="#1f968b"/><stop offset="0.55" stop-color="#1fa187"/><stop offset="0.60" stop-color="#22a884"/><stop offset="0.65" stop-color="#2db47d"/><stop offset="0.70" stop-color="#3fbc73"/><stop offset="0.75" stop-color="#56c667"/><stop offset="0.80" stop-color="#75d054"/><stop offset="0.85" stop-color="#95d840"/><stop offset="0.90" stop-color="#bade28"/><stop offset="0.95" stop-color="#dde318"/><stop offset="1.00" stop-color="#fde725"/></linearGradient></defs>
<rect x="181.00" y="213.30" width="7.60" height="143.00" fill="url(#vir)" stroke="#2b2b2b" stroke-width="0.9"/>
<line x1="188.60" y1="356.30" x2="191.00" y2="356.30" stroke="#2b2b2b" stroke-width="0.9"/>
<text x="0.00" y="0.00" font-size="8.0" text-anchor="start" font-weight="normal" font-style="normal" fill="#1a1a1a" font-family='"Liberation Sans", sans-serif' transform="translate(194.40 359.15) scale(0.875 1)">0</text>
<line x1="188.60" y1="332.47" x2="191.00" y2="332.47" stroke="#2b2b2b" stroke-width="0.9"/>
<text x="0.00" y="0.00" font-size="8.0" text-anchor="start" font-weight="normal" font-style="normal" fill="#1a1a1a" font-family='"Liberation Sans", sans-serif' transform="translate(194.40 335.32) scale(0.875 1)">50</text>
<line x1="188.60" y1="308.63" x2="191.00" y2="308.63" stroke="#2b2b2b" stroke-width="0.9"/>
<text x="0.00" y="0.00" font-size="8.0" text-anchor="start" font-weight="normal" font-style="normal" fill="#1a1a1a" font-family='"Liberation Sans", sans-serif' transform="translate(194.40 311.48) scale(0.875 1)">100</text>
<line x1="188.60" y1="284.80" x2="191.00" y2="284.80" stroke="#2b2b2b" stroke-width="0.9"/>
<text x="0.00" y="0.00" font-size="8.0" text-anchor="start" font-weight="normal" font-style="normal" fill="#1a1a1a" font-family='"Liberation Sans", sans-serif' transform="translate(194.40 287.65) scale(0.875 1)">150</text>
<line x1="188.60" y1="260.97" x2="191.00" y2="260.97" stroke="#2b2b2b" stroke-width="0.9"/>
<text x="0.00" y="0.00" font-size="8.0" text-anchor="start" font-weight="normal" font-style="normal" fill="#1a1a1a" font-family='"Liberation Sans", sans-serif' transform="translate(194.40 263.82) scale(0.875 1)">200</text>
<line x1="188.60" y1="237.13" x2="191.00" y2="237.13" stroke="#2b2b2b" stroke-width="0.9"/>
<text x="0.00" y="0.00" font-size="8.0" text-anchor="start" font-weight="normal" font-style="normal" fill="#1a1a1a" font-family='"Liberation Sans", sans-serif' transform="translate(194.40 239.98) scale(0.875 1)">250</text>
<line x1="188.60" y1="213.30" x2="191.00" y2="213.30" stroke="#2b2b2b" stroke-width="0.9"/>
<text x="0.00" y="0.00" font-size="8.0" text-anchor="start" font-weight="normal" font-style="normal" fill="#1a1a1a" font-family='"Liberation Sans", sans-serif' transform="translate(194.40 216.15) scale(0.875 1)">300</text>
<text x="217.80" y="284.80" font-size="11" text-anchor="middle" font-weight="normal" font-style="normal" fill="#111" font-family='"Liberation Sans", sans-serif' transform="rotate(-90 217.80 284.80)">Conductance, <tspan font-style="italic">G</tspan> (μS)</text>
<rect x="308.20" y="341.88" width="3.17" height="14.42" fill="#6b6bff" fill-opacity="1.0" stroke="#111" stroke-width="0.75"/>
<rect x="311.37" y="343.94" width="3.17" height="12.36" fill="#6b6bff" fill-opacity="1.0" stroke="#111" stroke-width="0.75"/>
<rect x="314.54" y="341.88" width="3.17" height="14.42" fill="#6b6bff" fill-opacity="1.0" stroke="#111" stroke-width="0.75"/>
<rect x="317.71" y="333.64" width="3.17" height="22.66" fill="#6b6bff" fill-opacity="1.0" stroke="#111" stroke-width="0.75"/>
<rect x="320.88" y="325.40" width="3.17" height="30.90" fill="#6b6bff" fill-opacity="1.0" stroke="#111" stroke-width="0.75"/>
<rect x="324.05" y="323.34" width="3.17" height="32.96" fill="#6b6bff" fill-opacity="1.0" stroke="#111" stroke-width="0.75"/>
<rect x="327.22" y="317.16" width="3.17" height="39.14" fill="#6b6bff" fill-opacity="1.0" stroke="#111" stroke-width="0.75"/>
<rect x="330.39" y="315.10" width="3.17" height="41.20" fill="#6b6bff" fill-opacity="1.0" stroke="#111" stroke-width="0.75"/>
<rect x="333.56" y="308.92" width="3.17" height="47.38" fill="#6b6bff" fill-opacity="1.0" stroke="#111" stroke-width="0.75"/>
<rect x="334.00" y="353.00" width="3.50" height="3.30" fill="#d6d6d6" fill-opacity="0.92" stroke="#111" stroke-width="0.75"/>
<rect x="337.50" y="350.53" width="3.80" height="5.77" fill="#d6d6d6" fill-opacity="0.92" stroke="#111" stroke-width="0.75"/>
<rect x="341.30" y="329.52" width="4.40" height="26.78" fill="#d6d6d6" fill-opacity="0.92" stroke="#111" stroke-width="0.75"/>
<rect x="345.70" y="340.23" width="3.60" height="16.07" fill="#d6d6d6" fill-opacity="0.92" stroke="#111" stroke-width="0.75"/>
<rect x="349.30" y="325.40" width="3.90" height="30.90" fill="#d6d6d6" fill-opacity="0.92" stroke="#111" stroke-width="0.75"/>
<rect x="353.20" y="300.68" width="4.20" height="55.62" fill="#d6d6d6" fill-opacity="0.92" stroke="#111" stroke-width="0.75"/>
<rect x="357.40" y="278.02" width="3.70" height="78.28" fill="#d6d6d6" fill-opacity="0.92" stroke="#111" stroke-width="0.75"/>
<rect x="361.10" y="249.18" width="3.70" height="107.12" fill="#d6d6d6" fill-opacity="0.92" stroke="#111" stroke-width="0.75"/>
<rect x="361.10" y="354.24" width="3.70" height="2.06" fill="#d0d0d0" fill-opacity="0.92" stroke="#111" stroke-width="0.75"/>
<rect x="364.80" y="342.29" width="4.70" height="14.01" fill="#d0d0d0" fill-opacity="0.92" stroke="#111" stroke-width="0.75"/>
<rect x="369.50" y="340.23" width="4.40" height="16.07" fill="#d0d0d0" fill-opacity="0.92" stroke="#111" stroke-width="0.75"/>
<rect x="373.90" y="331.58" width="4.70" height="24.72" fill="#d0d0d0" fill-opacity="0.92" stroke="#111" stroke-width="0.75"/>
<rect x="378.60" y="302.74" width="4.90" height="53.56" fill="#d0d0d0" fill-opacity="0.92" stroke="#111" stroke-width="0.75"/>
<rect x="383.50" y="261.54" width="4.80" height="94.76" fill="#d0d0d0" fill-opacity="0.92" stroke="#111" stroke-width="0.75"/>
<rect x="388.30" y="222.40" width="4.50" height="133.90" fill="#d0d0d0" fill-opacity="0.92" stroke="#111" stroke-width="0.75"/>
<rect x="388.80" y="331.58" width="5.40" height="24.72" fill="#ff6e6e" fill-opacity="0.95" stroke="#222" stroke-width="0.75"/>
<rect x="394.20" y="333.64" width="5.40" height="22.66" fill="#ff6e6e" fill-opacity="0.95" stroke="#222" stroke-width="0.75"/>
<rect x="399.60" y="337.76" width="5.20" height="18.54" fill="#ff6e6e" fill-opacity="0.95" stroke="#222" stroke-width="0.75"/>
<rect x="404.80" y="317.16" width="5.50" height="39.14" fill="#ff6e6e" fill-opacity="0.95" stroke="#222" stroke-width="0.75"/>
<rect x="410.30" y="296.56" width="5.20" height="59.74" fill="#ff6e6e" fill-opacity="0.95" stroke="#222" stroke-width="0.75"/>
<rect x="415.50" y="220.34" width="5.10" height="135.96" fill="#ff6e6e" fill-opacity="0.95" stroke="#222" stroke-width="0.75"/>
<rect x="266.45" y="213.75" width="196.05" height="142.55" fill="none" stroke="#2b2b2b" stroke-width="1.0"/>
<line x1="264.05" y1="356.30" x2="266.45" y2="356.30" stroke="#2b2b2b" stroke-width="0.9"/>
<text x="0.00" y="0.00" font-size="8.0" text-anchor="end" font-weight="normal" font-style="normal" fill="#1a1a1a" font-family='"Liberation Sans", sans-serif' transform="translate(261.05 359.15) scale(0.875 1)">0</text>
<line x1="264.05" y1="335.70" x2="266.45" y2="335.70" stroke="#2b2b2b" stroke-width="0.9"/>
<text x="0.00" y="0.00" font-size="8.0" text-anchor="end" font-weight="normal" font-style="normal" fill="#1a1a1a" font-family='"Liberation Sans", sans-serif' transform="translate(261.05 338.55) scale(0.875 1)">10</text>
<line x1="264.05" y1="315.10" x2="266.45" y2="315.10" stroke="#2b2b2b" stroke-width="0.9"/>
<text x="0.00" y="0.00" font-size="8.0" text-anchor="end" font-weight="normal" font-style="normal" fill="#1a1a1a" font-family='"Liberation Sans", sans-serif' transform="translate(261.05 317.95) scale(0.875 1)">20</text>
<line x1="264.05" y1="294.50" x2="266.45" y2="294.50" stroke="#2b2b2b" stroke-width="0.9"/>
<text x="0.00" y="0.00" font-size="8.0" text-anchor="end" font-weight="normal" font-style="normal" fill="#1a1a1a" font-family='"Liberation Sans", sans-serif' transform="translate(261.05 297.35) scale(0.875 1)">30</text>
<line x1="264.05" y1="273.90" x2="266.45" y2="273.90" stroke="#2b2b2b" stroke-width="0.9"/>
<text x="0.00" y="0.00" font-size="8.0" text-anchor="end" font-weight="normal" font-style="normal" fill="#1a1a1a" font-family='"Liberation Sans", sans-serif' transform="translate(261.05 276.75) scale(0.875 1)">40</text>
<line x1="264.05" y1="253.30" x2="266.45" y2="253.30" stroke="#2b2b2b" stroke-width="0.9"/>
<text x="0.00" y="0.00" font-size="8.0" text-anchor="end" font-weight="normal" font-style="normal" fill="#1a1a1a" font-family='"Liberation Sans", sans-serif' transform="translate(261.05 256.15) scale(0.875 1)">50</text>
<line x1="264.05" y1="232.70" x2="266.45" y2="232.70" stroke="#2b2b2b" stroke-width="0.9"/>
<text x="0.00" y="0.00" font-size="8.0" text-anchor="end" font-weight="normal" font-style="normal" fill="#1a1a1a" font-family='"Liberation Sans", sans-serif' transform="translate(261.05 235.55) scale(0.875 1)">60</text>
<line x1="294.40" y1="356.30" x2="294.40" y2="358.70" stroke="#2b2b2b" stroke-width="0.9"/>
<text x="0.00" y="0.00" font-size="8.0" text-anchor="middle" font-weight="normal" font-style="normal" fill="#1a1a1a" font-family='"Liberation Sans", sans-serif' transform="translate(294.40 367.10) scale(0.875 1)">100</text>
<line x1="336.40" y1="356.30" x2="336.40" y2="358.70" stroke="#2b2b2b" stroke-width="0.9"/>
<text x="0.00" y="0.00" font-size="8.0" text-anchor="middle" font-weight="normal" font-style="normal" fill="#1a1a1a" font-family='"Liberation Sans", sans-serif' transform="translate(336.40 367.10) scale(0.875 1)">150</text>
<line x1="378.40" y1="356.30" x2="378.40" y2="358.70" stroke="#2b2b2b" stroke-width="0.9"/>
<text x="0.00" y="0.00" font-size="8.0" text-anchor="middle" font-weight="normal" font-style="normal" fill="#1a1a1a" font-family='"Liberation Sans", sans-serif' transform="translate(378.40 367.10) scale(0.875 1)">200</text>
<line x1="420.40" y1="356.30" x2="420.40" y2="358.70" stroke="#2b2b2b" stroke-width="0.9"/>
<text x="0.00" y="0.00" font-size="8.0" text-anchor="middle" font-weight="normal" font-style="normal" fill="#1a1a1a" font-family='"Liberation Sans", sans-serif' transform="translate(420.40 367.10) scale(0.875 1)">250</text>
<line x1="462.40" y1="356.30" x2="462.40" y2="358.70" stroke="#2b2b2b" stroke-width="0.9"/>
<text x="0.00" y="0.00" font-size="8.0" text-anchor="middle" font-weight="normal" font-style="normal" fill="#1a1a1a" font-family='"Liberation Sans", sans-serif' transform="translate(462.40 367.10) scale(0.875 1)">300</text>
<text x="364.80" y="380.60" font-size="11" text-anchor="middle" font-weight="normal" font-style="normal" fill="#111" font-family='"Liberation Sans", sans-serif'>Conductance, <tspan font-style="italic">G</tspan> (μS)</text>
<text x="245.60" y="284.50" font-size="11" text-anchor="middle" font-weight="normal" font-style="normal" fill="#111" font-family='"Liberation Sans", sans-serif' transform="rotate(-90 245.60 284.50)">Frequency (#)</text>
<text x="457.60" y="288.20" font-size="8.1" text-anchor="middle" font-weight="normal" font-style="normal" fill="#111" font-family='"Liberation Sans", sans-serif' transform="rotate(-90 457.60 288.20)">Stuck devices excluded</text>
<text x="284.40" y="340.50" font-size="8.3" text-anchor="start" font-weight="normal" font-style="italic" fill="#111" font-family='"Liberation Serif", serif' stroke="#111" stroke-width="0.12">G</text>
<text x="290.00" y="342.30" font-size="6.7" text-anchor="start" font-weight="normal" font-style="italic" fill="#111" font-family='"Liberation Serif", serif' stroke="#111" stroke-width="0.12">OFF</text>
<text x="425.60" y="340.30" font-size="8.3" text-anchor="start" font-weight="normal" font-style="italic" fill="#111" font-family='"Liberation Serif", serif' stroke="#111" stroke-width="0.12">G</text>
<text x="431.40" y="342.50" font-size="6.7" text-anchor="start" font-weight="normal" font-style="italic" fill="#111" font-family='"Liberation Serif", serif' stroke="#111" stroke-width="0.12">ON</text>
<rect x="270.2" y="217.3" width="71.4" height="56.6" rx="2" ry="2" fill="#fff" fill-opacity="0.85" stroke="#d8d8d8" stroke-width="0.8"/>
<text x="305.80" y="226.00" font-size="7.0" text-anchor="middle" font-weight="normal" font-style="italic" fill="#111" font-family='"Liberation Sans", sans-serif'>G<tspan font-size="4.6" dy="1.2">req</tspan></text>
<rect x="273.80" y="232.40" width="13.40" height="5.00" fill="#7070ff" stroke="#111" stroke-width="0.7"/>
<text x="293.60" y="237.60" font-size="7.3" text-anchor="start" font-weight="normal" font-style="normal" fill="#111" font-family='"Liberation Sans", sans-serif'>133 μS (<tspan font-style="italic">G</tspan><tspan font-size="4.8" dy="1.3" font-style="italic">OFF</tspan><tspan dy="-1.3">)</tspan></text>
<rect x="273.80" y="242.80" width="13.40" height="5.00" fill="#d9d9d9" stroke="#111" stroke-width="0.7"/>
<text x="293.60" y="248.00" font-size="7.3" text-anchor="start" font-weight="normal" font-style="normal" fill="#111" font-family='"Liberation Sans", sans-serif'>167 μS</text>
<rect x="273.80" y="253.20" width="13.40" height="5.00" fill="#d0d0d0" stroke="#111" stroke-width="0.7"/>
<text x="293.60" y="258.40" font-size="7.3" text-anchor="start" font-weight="normal" font-style="normal" fill="#111" font-family='"Liberation Sans", sans-serif'>200 μS</text>
<rect x="273.80" y="263.60" width="13.40" height="5.00" fill="#ff7070" stroke="#111" stroke-width="0.7"/>
<text x="293.60" y="268.80" font-size="7.3" text-anchor="start" font-weight="normal" font-style="normal" fill="#111" font-family='"Liberation Sans", sans-serif'>233 μS (<tspan font-style="italic">G</tspan><tspan font-size="4.8" dy="1.3" font-style="italic">ON</tspan><tspan dy="-1.3">)</tspan></text>
<line x1="515.95" y1="284.85" x2="659.00" y2="284.85" stroke="#e3e3e3" stroke-width="0.8"/>
<g fill="#ff1a1a" fill-opacity="0.2" stroke="#ff1a1a" stroke-opacity="0.25" stroke-width="0.4">
<circle cx="598.2" cy="275.1" r="1.5"/>
<circle cx="602.8" cy="270.5" r="1.5"/>
<circle cx="592.7" cy="278.6" r="1.5"/>
<circle cx="620.4" cy="255.8" r="1.5"/>
<circle cx="582.5" cy="289.1" r="1.5"/>
<circle cx="602.1" cy="270.5" r="1.5"/>
<circle cx="586.5" cy="283.6" r="1.5"/>
<circle cx="595.9" cy="274.6" r="1.5"/>
<circle cx="590.9" cy="277.3" r="1.5"/>
<circle cx="576.5" cy="295.2" r="1.5"/>
<circle cx="557.3" cy="310.8" r="1.5"/>
<circle cx="576.7" cy="295.0" r="1.5"/>
<circle cx="563.6" cy="306.3" r="1.5"/>
<circle cx="602.6" cy="269.1" r="1.5"/>
<circle cx="601.3" cy="270.9" r="1.5"/>
<circle cx="615.2" cy="257.0" r="1.5"/>
<circle cx="554.1" cy="313.4" r="1.5"/>
<circle cx="559.7" cy="309.6" r="1.5"/>
<circle cx="601.1" cy="269.6" r="1.5"/>
<circle cx="589.8" cy="282.0" r="1.5"/>
<circle cx="576.7" cy="293.1" r="1.5"/>
<circle cx="602.7" cy="270.1" r="1.5"/>
<circle cx="604.1" cy="269.0" r="1.5"/>
<circle cx="575.8" cy="294.9" r="1.5"/>
<circle cx="563.5" cy="305.7" r="1.5"/>
<circle cx="618.6" cy="255.9" r="1.5"/>
<circle cx="572.8" cy="298.7" r="1.5"/>
<circle cx="576.2" cy="292.9" r="1.5"/>
<circle cx="581.9" cy="291.4" r="1.5"/>
<circle cx="614.2" cy="261.8" r="1.5"/>
<circle cx="600.9" cy="273.1" r="1.5"/>
<circle cx="591.0" cy="282.2" r="1.5"/>
<circle cx="616.1" cy="258.8" r="1.5"/>
<circle cx="589.1" cy="284.2" r="1.5"/>
<circle cx="568.8" cy="303.5" r="1.5"/>
<circle cx="572.6" cy="296.9" r="1.5"/>
<circle cx="586.7" cy="285.4" r="1.5"/>
<circle cx="599.2" cy="272.5" r="1.5"/>
<circle cx="591.6" cy="278.5" r="1.5"/>
<circle cx="556.0" cy="315.8" r="1.5"/>
<circle cx="601.2" cy="268.9" r="1.5"/>
<circle cx="614.8" cy="255.1" r="1.5"/>
<circle cx="612.2" cy="260.0" r="1.5"/>
<circle cx="571.5" cy="296.9" r="1.5"/>
<circle cx="584.3" cy="283.9" r="1.5"/>
<circle cx="595.5" cy="276.8" r="1.5"/>
<circle cx="623.6" cy="250.5" r="1.5"/>
<circle cx="587.0" cy="282.0" r="1.5"/>
<circle cx="592.8" cy="280.3" r="1.5"/>
<circle cx="549.2" cy="318.8" r="1.5"/>
<circle cx="583.1" cy="286.3" r="1.5"/>
<circle cx="557.5" cy="312.6" r="1.5"/>
<circle cx="556.4" cy="312.9" r="1.5"/>
<circle cx="561.6" cy="308.2" r="1.5"/>
<circle cx="589.1" cy="283.4" r="1.5"/>
<circle cx="603.6" cy="266.7" r="1.5"/>
<circle cx="570.3" cy="299.4" r="1.5"/>
<circle cx="572.9" cy="297.4" r="1.5"/>
<circle cx="564.8" cy="302.7" r="1.5"/>
<circle cx="606.6" cy="267.0" r="1.5"/>
<circle cx="569.2" cy="298.7" r="1.5"/>
<circle cx="590.0" cy="282.3" r="1.5"/>
<circle cx="579.9" cy="291.9" r="1.5"/>
<circle cx="602.3" cy="266.9" r="1.5"/>
<circle cx="589.8" cy="279.2" r="1.5"/>
<circle cx="601.0" cy="270.1" r="1.5"/>
<circle cx="577.5" cy="290.9" r="1.5"/>
<circle cx="621.5" cy="248.4" r="1.5"/>
<circle cx="611.7" cy="260.9" r="1.5"/>
<circle cx="603.5" cy="267.7" r="1.5"/>
<circle cx="601.4" cy="272.8" r="1.5"/>
<circle cx="586.5" cy="287.6" r="1.5"/>
<circle cx="607.5" cy="265.6" r="1.5"/>
<circle cx="591.4" cy="281.5" r="1.5"/>
<circle cx="618.1" cy="254.9" r="1.5"/>
<circle cx="561.4" cy="309.1" r="1.5"/>
<circle cx="559.0" cy="309.2" r="1.5"/>
<circle cx="609.2" cy="260.9" r="1.5"/>
<circle cx="564.6" cy="301.8" r="1.5"/>
<circle cx="581.2" cy="288.0" r="1.5"/>
<circle cx="604.9" cy="267.5" r="1.5"/>
<circle cx="566.0" cy="304.4" r="1.5"/>
<circle cx="609.6" cy="259.4" r="1.5"/>
<circle cx="577.6" cy="293.6" r="1.5"/>
<circle cx="607.6" cy="260.9" r="1.5"/>
<circle cx="594.4" cy="279.3" r="1.5"/>
<circle cx="583.5" cy="286.5" r="1.5"/>
<circle cx="535.7" cy="333.0" r="1.5"/>
<circle cx="591.1" cy="283.3" r="1.5"/>
<circle cx="607.9" cy="263.0" r="1.5"/>
<circle cx="592.7" cy="277.3" r="1.5"/>
<circle cx="587.1" cy="283.0" r="1.5"/>
<circle cx="620.1" cy="253.8" r="1.5"/>
<circle cx="573.1" cy="299.5" r="1.5"/>
<circle cx="604.9" cy="268.1" r="1.5"/>
<circle cx="585.0" cy="287.9" r="1.5"/>
<circle cx="582.8" cy="287.4" r="1.5"/>
<circle cx="567.8" cy="300.7" r="1.5"/>
<circle cx="580.3" cy="289.9" r="1.5"/>
<circle cx="612.4" cy="260.2" r="1.5"/>
<circle cx="556.6" cy="313.3" r="1.5"/>
<circle cx="578.1" cy="291.8" r="1.5"/>
<circle cx="586.3" cy="284.5" r="1.5"/>
<circle cx="567.5" cy="301.8" r="1.5"/>
<circle cx="573.6" cy="297.2" r="1.5"/>
<circle cx="614.3" cy="261.1" r="1.5"/>
<circle cx="567.4" cy="303.7" r="1.5"/>
<circle cx="559.2" cy="310.2" r="1.5"/>
<circle cx="581.0" cy="292.1" r="1.5"/>
<circle cx="562.8" cy="305.1" r="1.5"/>
<circle cx="559.0" cy="310.4" r="1.5"/>
<circle cx="599.7" cy="270.7" r="1.5"/>
<circle cx="560.8" cy="306.0" r="1.5"/>
<circle cx="603.0" cy="270.8" r="1.5"/>
<circle cx="611.2" cy="260.0" r="1.5"/>
<circle cx="586.0" cy="286.2" r="1.5"/>
<circle cx="596.5" cy="272.3" r="1.5"/>
<circle cx="588.6" cy="282.3" r="1.5"/>
<circle cx="571.6" cy="295.7" r="1.5"/>
<circle cx="581.3" cy="290.4" r="1.5"/>
<circle cx="577.0" cy="294.7" r="1.5"/>
<circle cx="589.1" cy="279.6" r="1.5"/>
<circle cx="610.7" cy="259.6" r="1.5"/>
<circle cx="617.9" cy="253.7" r="1.5"/>
<circle cx="554.1" cy="312.9" r="1.5"/>
<circle cx="567.8" cy="302.1" r="1.5"/>
<circle cx="596.4" cy="277.5" r="1.5"/>
<circle cx="598.1" cy="276.0" r="1.5"/>
<circle cx="613.2" cy="263.7" r="1.5"/>
<circle cx="591.8" cy="281.9" r="1.5"/>
<circle cx="560.6" cy="308.5" r="1.5"/>
<circle cx="585.3" cy="286.8" r="1.5"/>
<circle cx="568.7" cy="300.4" r="1.5"/>
<circle cx="562.6" cy="306.5" r="1.5"/>
<circle cx="556.8" cy="313.0" r="1.5"/>
<circle cx="584.5" cy="284.4" r="1.5"/>
<circle cx="589.2" cy="283.0" r="1.5"/>
<circle cx="567.5" cy="305.0" r="1.5"/>
<circle cx="626.2" cy="247.8" r="1.5"/>
<circle cx="580.4" cy="294.0" r="1.5"/>
<circle cx="564.1" cy="304.8" r="1.5"/>
<circle cx="587.3" cy="283.6" r="1.5"/>
<circle cx="622.5" cy="250.4" r="1.5"/>
<circle cx="568.5" cy="300.6" r="1.5"/>
<circle cx="581.2" cy="293.2" r="1.5"/>
<circle cx="534.7" cy="332.3" r="1.5"/>
<circle cx="616.9" cy="258.5" r="1.5"/>
<circle cx="575.9" cy="294.5" r="1.5"/>
<circle cx="594.7" cy="276.3" r="1.5"/>
<circle cx="573.5" cy="296.2" r="1.5"/>
<circle cx="623.1" cy="253.9" r="1.5"/>
<circle cx="578.6" cy="292.7" r="1.5"/>
<circle cx="554.8" cy="313.0" r="1.5"/>
<circle cx="592.1" cy="280.7" r="1.5"/>
<circle cx="594.3" cy="280.3" r="1.5"/>
<circle cx="592.0" cy="281.8" r="1.5"/>
<circle cx="598.1" cy="273.0" r="1.5"/>
<circle cx="568.7" cy="301.4" r="1.5"/>
<circle cx="595.6" cy="275.7" r="1.5"/>
<circle cx="589.1" cy="279.8" r="1.5"/>
<circle cx="518.8" cy="348.3" r="1.5"/>
<circle cx="597.6" cy="274.9" r="1.5"/>
<circle cx="582.8" cy="283.4" r="1.5"/>
<circle cx="593.6" cy="278.8" r="1.5"/>
<circle cx="618.8" cy="255.3" r="1.5"/>
<circle cx="559.6" cy="310.5" r="1.5"/>
<circle cx="568.4" cy="298.8" r="1.5"/>
<circle cx="587.2" cy="284.4" r="1.5"/>
<circle cx="569.0" cy="297.8" r="1.5"/>
<circle cx="575.7" cy="295.4" r="1.5"/>
<circle cx="596.9" cy="276.0" r="1.5"/>
<circle cx="579.1" cy="291.8" r="1.5"/>
<circle cx="605.8" cy="267.3" r="1.5"/>
<circle cx="619.3" cy="253.7" r="1.5"/>
<circle cx="614.4" cy="263.3" r="1.5"/>
<circle cx="561.8" cy="305.6" r="1.5"/>
<circle cx="594.5" cy="276.3" r="1.5"/>
<circle cx="557.7" cy="310.7" r="1.5"/>
<circle cx="557.9" cy="307.4" r="1.5"/>
<circle cx="599.2" cy="268.8" r="1.5"/>
<circle cx="621.9" cy="250.5" r="1.5"/>
<circle cx="554.5" cy="314.4" r="1.5"/>
<circle cx="626.4" cy="246.0" r="1.5"/>
<circle cx="590.5" cy="280.8" r="1.5"/>
<circle cx="579.6" cy="289.8" r="1.5"/>
<circle cx="599.2" cy="272.7" r="1.5"/>
<circle cx="574.4" cy="295.0" r="1.5"/>
<circle cx="565.0" cy="304.0" r="1.5"/>
<circle cx="555.3" cy="311.9" r="1.5"/>
<circle cx="619.9" cy="252.2" r="1.5"/>
<circle cx="602.9" cy="270.0" r="1.5"/>
<circle cx="602.5" cy="269.4" r="1.5"/>
<circle cx="631.4" cy="244.1" r="1.5"/>
<circle cx="592.0" cy="281.9" r="1.5"/>
<circle cx="593.8" cy="278.1" r="1.5"/>
<circle cx="563.5" cy="305.6" r="1.5"/>
<circle cx="575.9" cy="296.7" r="1.5"/>
<circle cx="609.7" cy="264.4" r="1.5"/>
<circle cx="595.8" cy="277.1" r="1.5"/>
<circle cx="585.6" cy="284.7" r="1.5"/>
<circle cx="602.4" cy="271.0" r="1.5"/>
<circle cx="577.9" cy="295.3" r="1.5"/>
<circle cx="584.2" cy="288.1" r="1.5"/>
<circle cx="571.6" cy="295.6" r="1.5"/>
<circle cx="590.9" cy="280.9" r="1.5"/>
<circle cx="594.7" cy="276.9" r="1.5"/>
<circle cx="600.0" cy="273.3" r="1.5"/>
<circle cx="562.2" cy="304.9" r="1.5"/>
<circle cx="601.8" cy="270.9" r="1.5"/>
<circle cx="575.5" cy="296.0" r="1.5"/>
<circle cx="584.3" cy="288.1" r="1.5"/>
<circle cx="558.1" cy="311.4" r="1.5"/>
<circle cx="574.2" cy="298.3" r="1.5"/>
<circle cx="613.9" cy="258.3" r="1.5"/>
<circle cx="567.6" cy="300.1" r="1.5"/>
<circle cx="597.5" cy="275.6" r="1.5"/>
<circle cx="581.2" cy="289.5" r="1.5"/>
<circle cx="602.0" cy="270.6" r="1.5"/>
<circle cx="602.7" cy="273.6" r="1.5"/>
<circle cx="588.4" cy="283.3" r="1.5"/>
<circle cx="592.3" cy="279.9" r="1.5"/>
<circle cx="568.3" cy="301.9" r="1.5"/>
<circle cx="594.3" cy="278.2" r="1.5"/>
<circle cx="554.6" cy="312.3" r="1.5"/>
<circle cx="559.8" cy="311.9" r="1.5"/>
<circle cx="590.3" cy="281.4" r="1.5"/>
<circle cx="549.6" cy="319.4" r="1.5"/>
<circle cx="561.0" cy="306.9" r="1.5"/>
<circle cx="589.3" cy="279.4" r="1.5"/>
<circle cx="627.7" cy="246.4" r="1.5"/>
<circle cx="604.6" cy="268.0" r="1.5"/>
<circle cx="591.8" cy="279.9" r="1.5"/>
<circle cx="576.9" cy="293.6" r="1.5"/>
<circle cx="567.7" cy="302.3" r="1.5"/>
<circle cx="592.0" cy="279.7" r="1.5"/>
<circle cx="615.4" cy="256.7" r="1.5"/>
<circle cx="592.4" cy="281.0" r="1.5"/>
<circle cx="555.0" cy="313.8" r="1.5"/>
<circle cx="598.2" cy="273.9" r="1.5"/>
<circle cx="616.7" cy="258.1" r="1.5"/>
<circle cx="609.0" cy="263.2" r="1.5"/>
<circle cx="579.7" cy="290.9" r="1.5"/>
<circle cx="577.7" cy="292.6" r="1.5"/>
<circle cx="584.5" cy="286.0" r="1.5"/>
<circle cx="567.9" cy="304.9" r="1.5"/>
<circle cx="632.4" cy="239.1" r="1.5"/>
<circle cx="592.5" cy="277.8" r="1.5"/>
<circle cx="583.2" cy="288.0" r="1.5"/>
<circle cx="567.4" cy="302.2" r="1.5"/>
<circle cx="585.4" cy="284.0" r="1.5"/>
<circle cx="613.8" cy="261.4" r="1.5"/>
<circle cx="583.4" cy="287.6" r="1.5"/>
<circle cx="633.3" cy="239.2" r="1.5"/>
<circle cx="558.9" cy="312.0" r="1.5"/>
<circle cx="610.8" cy="263.8" r="1.5"/>
<circle cx="624.8" cy="250.6" r="1.5"/>
<circle cx="585.5" cy="286.9" r="1.5"/>
<circle cx="555.0" cy="312.7" r="1.5"/>
<circle cx="565.5" cy="307.9" r="1.5"/>
<circle cx="564.2" cy="307.2" r="1.5"/>
<circle cx="597.4" cy="274.3" r="1.5"/>
<circle cx="570.2" cy="299.5" r="1.5"/>
<circle cx="565.7" cy="303.2" r="1.5"/>
<circle cx="592.0" cy="281.0" r="1.5"/>
<circle cx="628.3" cy="247.8" r="1.5"/>
<circle cx="558.6" cy="309.9" r="1.5"/>
<circle cx="615.8" cy="257.8" r="1.5"/>
<circle cx="620.6" cy="254.3" r="1.5"/>
<circle cx="614.2" cy="257.1" r="1.5"/>
<circle cx="600.0" cy="274.8" r="1.5"/>
<circle cx="562.2" cy="307.1" r="1.5"/>
<circle cx="596.4" cy="275.8" r="1.5"/>
<circle cx="593.3" cy="277.2" r="1.5"/>
<circle cx="577.7" cy="291.4" r="1.5"/>
<circle cx="557.3" cy="309.4" r="1.5"/>
<circle cx="560.6" cy="310.0" r="1.5"/>
<circle cx="579.4" cy="290.7" r="1.5"/>
<circle cx="575.4" cy="295.8" r="1.5"/>
<circle cx="616.3" cy="261.0" r="1.5"/>
<circle cx="583.8" cy="288.4" r="1.5"/>
<circle cx="565.5" cy="305.5" r="1.5"/>
<circle cx="578.5" cy="293.0" r="1.5"/>
<circle cx="606.8" cy="265.7" r="1.5"/>
<circle cx="568.3" cy="300.9" r="1.5"/>
<circle cx="578.8" cy="290.5" r="1.5"/>
<circle cx="600.9" cy="271.0" r="1.5"/>
<circle cx="567.5" cy="303.2" r="1.5"/>
<circle cx="593.7" cy="276.7" r="1.5"/>
<circle cx="559.0" cy="308.9" r="1.5"/>
<circle cx="556.4" cy="312.8" r="1.5"/>
<circle cx="579.3" cy="292.5" r="1.5"/>
<circle cx="576.0" cy="295.1" r="1.5"/>
<circle cx="615.6" cy="260.4" r="1.5"/>
<circle cx="587.2" cy="284.8" r="1.5"/>
<circle cx="599.5" cy="272.4" r="1.5"/>
<circle cx="603.6" cy="268.8" r="1.5"/>
<circle cx="575.6" cy="294.4" r="1.5"/>
<circle cx="587.7" cy="285.0" r="1.5"/>
<circle cx="579.6" cy="288.7" r="1.5"/>
<circle cx="583.8" cy="286.3" r="1.5"/>
<circle cx="599.2" cy="273.6" r="1.5"/>
<circle cx="593.8" cy="280.2" r="1.5"/>
<circle cx="578.2" cy="294.3" r="1.5"/>
<circle cx="590.1" cy="285.0" r="1.5"/>
<circle cx="585.0" cy="287.8" r="1.5"/>
<circle cx="606.2" cy="266.8" r="1.5"/>
<circle cx="589.5" cy="279.1" r="1.5"/>
<circle cx="589.0" cy="285.1" r="1.5"/>
<circle cx="573.3" cy="296.5" r="1.5"/>
<circle cx="554.8" cy="316.7" r="1.5"/>
<circle cx="592.8" cy="279.0" r="1.5"/>
<circle cx="557.4" cy="313.1" r="1.5"/>
<circle cx="599.9" cy="274.2" r="1.5"/>
<circle cx="599.8" cy="272.8" r="1.5"/>
<circle cx="598.5" cy="274.4" r="1.5"/>
<circle cx="611.6" cy="260.6" r="1.5"/>
<circle cx="531.9" cy="337.7" r="1.5"/>
<circle cx="587.9" cy="282.3" r="1.5"/>
<circle cx="589.8" cy="279.3" r="1.5"/>
<circle cx="622.3" cy="250.5" r="1.5"/>
<circle cx="602.0" cy="269.4" r="1.5"/>
<circle cx="581.7" cy="288.3" r="1.5"/>
<circle cx="573.9" cy="297.7" r="1.5"/>
<circle cx="583.5" cy="289.9" r="1.5"/>
<circle cx="596.5" cy="274.9" r="1.5"/>
<circle cx="554.1" cy="316.8" r="1.5"/>
<circle cx="564.6" cy="300.1" r="1.5"/>
<circle cx="580.2" cy="290.5" r="1.5"/>
<circle cx="604.8" cy="269.3" r="1.5"/>
<circle cx="571.7" cy="301.9" r="1.5"/>
<circle cx="603.9" cy="267.4" r="1.5"/>
<circle cx="580.7" cy="291.4" r="1.5"/>
<circle cx="613.0" cy="259.8" r="1.5"/>
<circle cx="567.3" cy="300.8" r="1.5"/>
<circle cx="617.1" cy="256.7" r="1.5"/>
<circle cx="603.6" cy="266.7" r="1.5"/>
<circle cx="607.6" cy="268.3" r="1.5"/>
<circle cx="618.2" cy="256.5" r="1.5"/>
<circle cx="612.8" cy="264.0" r="1.5"/>
<circle cx="557.6" cy="310.4" r="1.5"/>
<circle cx="618.4" cy="257.4" r="1.5"/>
<circle cx="591.4" cy="279.9" r="1.5"/>
<circle cx="615.4" cy="258.1" r="1.5"/>
<circle cx="564.0" cy="308.0" r="1.5"/>
<circle cx="576.0" cy="295.5" r="1.5"/>
<circle cx="594.4" cy="275.6" r="1.5"/>
<circle cx="597.6" cy="274.0" r="1.5"/>
<circle cx="564.4" cy="306.6" r="1.5"/>
<circle cx="554.8" cy="313.2" r="1.5"/>
<circle cx="584.7" cy="286.6" r="1.5"/>
<circle cx="575.6" cy="296.6" r="1.5"/>
<circle cx="601.4" cy="269.1" r="1.5"/>
<circle cx="585.7" cy="287.9" r="1.5"/>
<circle cx="611.0" cy="262.6" r="1.5"/>
<circle cx="557.6" cy="312.7" r="1.5"/>
<circle cx="575.5" cy="292.9" r="1.5"/>
<circle cx="587.4" cy="285.8" r="1.5"/>
<circle cx="570.6" cy="298.3" r="1.5"/>
<circle cx="595.1" cy="276.8" r="1.5"/>
<circle cx="630.0" cy="244.3" r="1.5"/>
<circle cx="567.9" cy="303.2" r="1.5"/>
<circle cx="599.7" cy="271.2" r="1.5"/>
<circle cx="608.4" cy="263.6" r="1.5"/>
<circle cx="581.4" cy="290.8" r="1.5"/>
<circle cx="600.3" cy="271.2" r="1.5"/>
<circle cx="609.8" cy="260.8" r="1.5"/>
<circle cx="580.9" cy="289.4" r="1.5"/>
<circle cx="596.2" cy="276.9" r="1.5"/>
<circle cx="603.1" cy="269.9" r="1.5"/>
<circle cx="613.1" cy="258.5" r="1.5"/>
<circle cx="590.9" cy="279.8" r="1.5"/>
<circle cx="628.2" cy="246.3" r="1.5"/>
<circle cx="584.2" cy="289.6" r="1.5"/>
<circle cx="621.3" cy="253.1" r="1.5"/>
<circle cx="592.4" cy="278.3" r="1.5"/>
<circle cx="621.9" cy="247.8" r="1.5"/>
<circle cx="594.4" cy="276.8" r="1.5"/>
<circle cx="608.9" cy="263.3" r="1.5"/>
<circle cx="575.8" cy="293.7" r="1.5"/>
<circle cx="570.1" cy="298.8" r="1.5"/>
<circle cx="587.7" cy="283.0" r="1.5"/>
<circle cx="593.0" cy="279.2" r="1.5"/>
<circle cx="578.8" cy="289.5" r="1.5"/>
<circle cx="558.3" cy="308.1" r="1.5"/>
<circle cx="590.5" cy="278.9" r="1.5"/>
<circle cx="616.8" cy="258.5" r="1.5"/>
<circle cx="602.2" cy="267.0" r="1.5"/>
<circle cx="609.1" cy="262.9" r="1.5"/>
<circle cx="590.4" cy="282.1" r="1.5"/>
<circle cx="561.1" cy="309.7" r="1.5"/>
<circle cx="599.1" cy="279.0" r="1.5"/>
<circle cx="563.7" cy="307.3" r="1.5"/>
<circle cx="604.7" cy="269.5" r="1.5"/>
<circle cx="568.1" cy="301.0" r="1.5"/>
<circle cx="570.4" cy="297.2" r="1.5"/>
<circle cx="596.6" cy="275.1" r="1.5"/>
<circle cx="557.6" cy="310.4" r="1.5"/>
<circle cx="583.7" cy="290.6" r="1.5"/>
<circle cx="548.6" cy="318.3" r="1.5"/>
<circle cx="599.7" cy="270.0" r="1.5"/>
<circle cx="557.1" cy="314.0" r="1.5"/>
<circle cx="601.6" cy="273.2" r="1.5"/>
<circle cx="612.2" cy="261.3" r="1.5"/>
<circle cx="598.2" cy="275.0" r="1.5"/>
<circle cx="562.9" cy="306.5" r="1.5"/>
<circle cx="586.6" cy="284.1" r="1.5"/>
<circle cx="590.4" cy="279.3" r="1.5"/>
<circle cx="595.6" cy="276.6" r="1.5"/>
<circle cx="591.2" cy="282.5" r="1.5"/>
<circle cx="591.6" cy="284.0" r="1.5"/>
<circle cx="617.1" cy="258.5" r="1.5"/>
<circle cx="584.9" cy="287.0" r="1.5"/>
<circle cx="613.9" cy="259.1" r="1.5"/>
<circle cx="560.5" cy="305.9" r="1.5"/>
<circle cx="599.2" cy="270.6" r="1.5"/>
<circle cx="589.4" cy="281.1" r="1.5"/>
<circle cx="596.2" cy="276.5" r="1.5"/>
<circle cx="592.7" cy="279.5" r="1.5"/>
<circle cx="573.0" cy="297.1" r="1.5"/>
<circle cx="584.2" cy="287.7" r="1.5"/>
<circle cx="621.2" cy="246.5" r="1.5"/>
<circle cx="590.9" cy="280.9" r="1.5"/>
<circle cx="585.4" cy="284.7" r="1.5"/>
<circle cx="566.5" cy="306.2" r="1.5"/>
<circle cx="586.7" cy="285.6" r="1.5"/>
<circle cx="595.2" cy="278.4" r="1.5"/>
<circle cx="597.6" cy="274.8" r="1.5"/>
<circle cx="621.3" cy="251.8" r="1.5"/>
<circle cx="597.4" cy="276.0" r="1.5"/>
<circle cx="596.1" cy="278.2" r="1.5"/>
<circle cx="561.3" cy="301.6" r="1.5"/>
<circle cx="587.7" cy="286.6" r="1.5"/>
<circle cx="601.6" cy="271.7" r="1.5"/>
<circle cx="585.7" cy="288.7" r="1.5"/>
<circle cx="558.3" cy="311.8" r="1.5"/>
<circle cx="554.7" cy="315.0" r="1.5"/>
<circle cx="593.1" cy="274.1" r="1.5"/>
<circle cx="601.4" cy="273.1" r="1.5"/>
<circle cx="618.2" cy="257.0" r="1.5"/>
<circle cx="596.2" cy="278.3" r="1.5"/>
<circle cx="566.9" cy="303.6" r="1.5"/>
<circle cx="561.9" cy="305.5" r="1.5"/>
<circle cx="608.3" cy="264.0" r="1.5"/>
<circle cx="564.3" cy="305.1" r="1.5"/>
<circle cx="601.7" cy="271.3" r="1.5"/>
<circle cx="572.4" cy="296.4" r="1.5"/>
<circle cx="613.2" cy="258.2" r="1.5"/>
<circle cx="618.6" cy="252.5" r="1.5"/>
<circle cx="586.8" cy="284.3" r="1.5"/>
<circle cx="610.0" cy="261.8" r="1.5"/>
<circle cx="598.0" cy="271.3" r="1.5"/>
<circle cx="547.4" cy="319.7" r="1.5"/>
<circle cx="578.5" cy="287.6" r="1.5"/>
<circle cx="550.7" cy="317.7" r="1.5"/>
<circle cx="614.0" cy="254.9" r="1.5"/>
<circle cx="568.9" cy="301.4" r="1.5"/>
<circle cx="625.0" cy="249.9" r="1.5"/>
<circle cx="616.2" cy="257.4" r="1.5"/>
<circle cx="609.3" cy="263.6" r="1.5"/>
<circle cx="565.2" cy="310.6" r="1.5"/>
<circle cx="599.6" cy="275.3" r="1.5"/>
<circle cx="556.3" cy="312.8" r="1.5"/>
<circle cx="563.0" cy="304.3" r="1.5"/>
<circle cx="615.3" cy="255.4" r="1.5"/>
<circle cx="584.1" cy="288.0" r="1.5"/>
<circle cx="593.7" cy="278.2" r="1.5"/>
<circle cx="578.7" cy="293.7" r="1.5"/>
<circle cx="564.0" cy="307.9" r="1.5"/>
<circle cx="606.2" cy="265.6" r="1.5"/>
<circle cx="619.4" cy="253.6" r="1.5"/>
<circle cx="596.6" cy="274.7" r="1.5"/>
<circle cx="567.8" cy="302.6" r="1.5"/>
<circle cx="611.4" cy="259.2" r="1.5"/>
<circle cx="608.1" cy="263.1" r="1.5"/>
<circle cx="619.5" cy="250.4" r="1.5"/>
<circle cx="599.7" cy="274.0" r="1.5"/>
<circle cx="592.2" cy="281.6" r="1.5"/>
<circle cx="579.8" cy="287.8" r="1.5"/>
<circle cx="621.2" cy="250.2" r="1.5"/>
<circle cx="607.0" cy="265.4" r="1.5"/>
<circle cx="543.7" cy="324.6" r="1.5"/>
<circle cx="555.8" cy="312.8" r="1.5"/>
<circle cx="600.5" cy="273.6" r="1.5"/>
<circle cx="616.9" cy="255.3" r="1.5"/>
<circle cx="556.8" cy="312.0" r="1.5"/>
<circle cx="575.2" cy="295.2" r="1.5"/>
<circle cx="596.9" cy="273.0" r="1.5"/>
<circle cx="597.4" cy="277.7" r="1.5"/>
<circle cx="588.9" cy="280.1" r="1.5"/>
<circle cx="564.5" cy="307.5" r="1.5"/>
<circle cx="622.7" cy="250.4" r="1.5"/>
<circle cx="554.2" cy="316.4" r="1.5"/>
<circle cx="614.4" cy="258.7" r="1.5"/>
<circle cx="565.0" cy="305.9" r="1.5"/>
<circle cx="567.9" cy="301.0" r="1.5"/>
<circle cx="614.7" cy="257.1" r="1.5"/>
<circle cx="616.8" cy="258.7" r="1.5"/>
<circle cx="556.5" cy="312.1" r="1.5"/>
<circle cx="575.4" cy="292.0" r="1.5"/>
<circle cx="598.0" cy="277.4" r="1.5"/>
<circle cx="559.6" cy="310.1" r="1.5"/>
<circle cx="569.9" cy="303.3" r="1.5"/>
<circle cx="554.5" cy="315.1" r="1.5"/>
<circle cx="560.5" cy="308.5" r="1.5"/>
<circle cx="570.7" cy="299.0" r="1.5"/>
<circle cx="620.3" cy="253.6" r="1.5"/>
<circle cx="555.9" cy="311.7" r="1.5"/>
<circle cx="608.0" cy="264.3" r="1.5"/>
<circle cx="585.2" cy="286.2" r="1.5"/>
<circle cx="571.0" cy="298.5" r="1.5"/>
<circle cx="616.7" cy="257.7" r="1.5"/>
<circle cx="601.4" cy="271.2" r="1.5"/>
<circle cx="584.2" cy="285.7" r="1.5"/>
<circle cx="611.9" cy="261.0" r="1.5"/>
<circle cx="601.7" cy="270.6" r="1.5"/>
<circle cx="563.4" cy="305.8" r="1.5"/>
<circle cx="567.4" cy="303.1" r="1.5"/>
<circle cx="573.2" cy="297.4" r="1.5"/>
<circle cx="618.4" cy="257.5" r="1.5"/>
<circle cx="566.3" cy="304.1" r="1.5"/>
<circle cx="581.2" cy="288.8" r="1.5"/>
<circle cx="557.4" cy="312.7" r="1.5"/>
<circle cx="569.0" cy="304.2" r="1.5"/>
<circle cx="618.2" cy="258.3" r="1.5"/>
<circle cx="564.2" cy="303.0" r="1.5"/>
<circle cx="582.3" cy="287.6" r="1.5"/>
<circle cx="572.7" cy="296.6" r="1.5"/>
<circle cx="620.2" cy="253.1" r="1.5"/>
<circle cx="619.2" cy="254.1" r="1.5"/>
<circle cx="590.0" cy="282.7" r="1.5"/>
<circle cx="587.2" cy="284.5" r="1.5"/>
<circle cx="612.2" cy="260.7" r="1.5"/>
<circle cx="586.3" cy="284.8" r="1.5"/>
<circle cx="586.8" cy="285.1" r="1.5"/>
<circle cx="610.6" cy="265.5" r="1.5"/>
<circle cx="571.4" cy="296.2" r="1.5"/>
<circle cx="582.3" cy="287.2" r="1.5"/>
<circle cx="589.4" cy="281.6" r="1.5"/>
<circle cx="610.5" cy="265.6" r="1.5"/>
<circle cx="619.2" cy="256.2" r="1.5"/>
<circle cx="622.7" cy="252.8" r="1.5"/>
<circle cx="561.2" cy="309.2" r="1.5"/>
<circle cx="595.4" cy="276.3" r="1.5"/>
<circle cx="594.5" cy="278.1" r="1.5"/>
<circle cx="606.7" cy="263.9" r="1.5"/>
<circle cx="569.5" cy="298.8" r="1.5"/>
<circle cx="615.4" cy="258.6" r="1.5"/>
<circle cx="573.0" cy="300.1" r="1.5"/>
<circle cx="567.4" cy="301.9" r="1.5"/>
<circle cx="603.5" cy="268.2" r="1.5"/>
<circle cx="565.7" cy="304.1" r="1.5"/>
<circle cx="588.3" cy="281.7" r="1.5"/>
<circle cx="559.7" cy="311.8" r="1.5"/>
<circle cx="605.2" cy="269.4" r="1.5"/>
<circle cx="579.6" cy="293.4" r="1.5"/>
<circle cx="609.9" cy="265.5" r="1.5"/>
<circle cx="599.9" cy="271.2" r="1.5"/>
<circle cx="618.5" cy="257.1" r="1.5"/>
<circle cx="555.1" cy="312.5" r="1.5"/>
<circle cx="596.7" cy="275.0" r="1.5"/>
<circle cx="555.0" cy="313.2" r="1.5"/>
<circle cx="576.5" cy="296.2" r="1.5"/>
<circle cx="555.4" cy="310.9" r="1.5"/>
<circle cx="581.2" cy="288.5" r="1.5"/>
<circle cx="565.9" cy="304.1" r="1.5"/>
<circle cx="591.2" cy="281.3" r="1.5"/>
<circle cx="579.3" cy="290.9" r="1.5"/>
<circle cx="621.2" cy="248.3" r="1.5"/>
<circle cx="612.0" cy="263.5" r="1.5"/>
<circle cx="589.3" cy="284.1" r="1.5"/>
<circle cx="577.2" cy="292.9" r="1.5"/>
<circle cx="584.6" cy="286.7" r="1.5"/>
<circle cx="611.8" cy="262.4" r="1.5"/>
<circle cx="589.1" cy="283.6" r="1.5"/>
<circle cx="588.5" cy="283.0" r="1.5"/>
<circle cx="602.9" cy="271.1" r="1.5"/>
<circle cx="570.5" cy="300.3" r="1.5"/>
<circle cx="591.6" cy="277.9" r="1.5"/>
<circle cx="555.2" cy="315.9" r="1.5"/>
<circle cx="572.1" cy="297.5" r="1.5"/>
<circle cx="579.1" cy="291.3" r="1.5"/>
<circle cx="610.8" cy="263.6" r="1.5"/>
<circle cx="564.4" cy="306.3" r="1.5"/>
<circle cx="591.9" cy="279.1" r="1.5"/>
<circle cx="608.3" cy="264.0" r="1.5"/>
<circle cx="605.3" cy="267.2" r="1.5"/>
<circle cx="595.1" cy="273.8" r="1.5"/>
<circle cx="621.2" cy="250.9" r="1.5"/>
<circle cx="610.5" cy="263.2" r="1.5"/>
<circle cx="578.1" cy="295.3" r="1.5"/>
<circle cx="605.2" cy="268.8" r="1.5"/>
<circle cx="557.5" cy="311.3" r="1.5"/>
<circle cx="597.5" cy="274.8" r="1.5"/>
<circle cx="621.3" cy="256.8" r="1.5"/>
<circle cx="603.7" cy="271.1" r="1.5"/>
<circle cx="600.9" cy="270.7" r="1.5"/>
<circle cx="592.3" cy="276.9" r="1.5"/>
<circle cx="579.1" cy="294.9" r="1.5"/>
<circle cx="612.8" cy="259.2" r="1.5"/>
<circle cx="602.7" cy="268.4" r="1.5"/>
<circle cx="559.1" cy="311.2" r="1.5"/>
<circle cx="599.0" cy="275.6" r="1.5"/>
<circle cx="613.4" cy="258.9" r="1.5"/>
<circle cx="596.7" cy="275.8" r="1.5"/>
<circle cx="607.7" cy="263.1" r="1.5"/>
<circle cx="566.1" cy="305.1" r="1.5"/>
<circle cx="555.5" cy="314.3" r="1.5"/>
<circle cx="591.4" cy="277.4" r="1.5"/>
<circle cx="621.3" cy="251.2" r="1.5"/>
<circle cx="561.2" cy="309.2" r="1.5"/>
<circle cx="570.6" cy="299.9" r="1.5"/>
<circle cx="555.7" cy="315.2" r="1.5"/>
<circle cx="598.0" cy="274.9" r="1.5"/>
<circle cx="628.1" cy="243.8" r="1.5"/>
<circle cx="594.4" cy="279.1" r="1.5"/>
<circle cx="569.2" cy="297.4" r="1.5"/>
<circle cx="575.2" cy="298.3" r="1.5"/>
<circle cx="610.2" cy="265.4" r="1.5"/>
<circle cx="583.2" cy="287.0" r="1.5"/>
<circle cx="636.5" cy="243.0" r="1.5"/>
<circle cx="617.3" cy="255.8" r="1.5"/>
<circle cx="557.5" cy="313.0" r="1.5"/>
<circle cx="618.2" cy="253.8" r="1.5"/>
<circle cx="556.6" cy="313.0" r="1.5"/>
<circle cx="604.3" cy="266.2" r="1.5"/>
<circle cx="532.7" cy="337.5" r="1.5"/>
<circle cx="601.0" cy="271.1" r="1.5"/>
<circle cx="565.8" cy="305.1" r="1.5"/>
<circle cx="581.1" cy="289.4" r="1.5"/>
<circle cx="632.4" cy="244.2" r="1.5"/>
<circle cx="588.8" cy="284.4" r="1.5"/>
<circle cx="563.8" cy="307.5" r="1.5"/>
<circle cx="603.5" cy="268.0" r="1.5"/>
<circle cx="597.8" cy="277.2" r="1.5"/>
<circle cx="572.9" cy="297.6" r="1.5"/>
<circle cx="600.4" cy="271.7" r="1.5"/>
<circle cx="633.6" cy="238.2" r="1.5"/>
<circle cx="608.1" cy="264.0" r="1.5"/>
<circle cx="591.4" cy="279.9" r="1.5"/>
<circle cx="556.9" cy="312.2" r="1.5"/>
<circle cx="610.4" cy="260.0" r="1.5"/>
<circle cx="618.7" cy="252.4" r="1.5"/>
<circle cx="583.8" cy="286.1" r="1.5"/>
<circle cx="614.8" cy="257.7" r="1.5"/>
<circle cx="578.1" cy="294.5" r="1.5"/>
<circle cx="605.8" cy="267.7" r="1.5"/>
<circle cx="570.6" cy="296.6" r="1.5"/>
<circle cx="554.9" cy="315.7" r="1.5"/>
<circle cx="560.7" cy="305.7" r="1.5"/>
<circle cx="573.3" cy="295.2" r="1.5"/>
<circle cx="618.5" cy="252.0" r="1.5"/>
<circle cx="562.0" cy="308.8" r="1.5"/>
<circle cx="594.5" cy="274.8" r="1.5"/>
<circle cx="539.8" cy="328.6" r="1.5"/>
<circle cx="564.2" cy="303.5" r="1.5"/>
<circle cx="583.7" cy="288.2" r="1.5"/>
<circle cx="606.5" cy="267.6" r="1.5"/>
<circle cx="617.8" cy="254.9" r="1.5"/>
<circle cx="569.8" cy="299.4" r="1.5"/>
<circle cx="581.1" cy="289.2" r="1.5"/>
<circle cx="583.5" cy="288.3" r="1.5"/>
<circle cx="574.3" cy="296.8" r="1.5"/>
<circle cx="567.7" cy="301.5" r="1.5"/>
<circle cx="577.9" cy="289.5" r="1.5"/>
<circle cx="629.5" cy="244.9" r="1.5"/>
<circle cx="606.9" cy="263.1" r="1.5"/>
<circle cx="569.1" cy="299.3" r="1.5"/>
<circle cx="563.7" cy="307.8" r="1.5"/>
<circle cx="609.2" cy="266.8" r="1.5"/>
<circle cx="572.7" cy="296.8" r="1.5"/>
<circle cx="571.0" cy="300.3" r="1.5"/>
<circle cx="617.9" cy="256.1" r="1.5"/>
<circle cx="585.4" cy="286.1" r="1.5"/>
<circle cx="618.9" cy="253.9" r="1.5"/>
<circle cx="616.9" cy="259.3" r="1.5"/>
<circle cx="601.6" cy="271.5" r="1.5"/>
<circle cx="567.9" cy="300.5" r="1.5"/>
<circle cx="645.0" cy="231.3" r="1.5"/>
<circle cx="606.8" cy="267.4" r="1.5"/>
<circle cx="619.4" cy="252.2" r="1.5"/>
<circle cx="585.3" cy="284.3" r="1.5"/>
<circle cx="609.6" cy="262.6" r="1.5"/>
<circle cx="577.9" cy="294.0" r="1.5"/>
<circle cx="555.9" cy="317.2" r="1.5"/>
<circle cx="606.2" cy="269.1" r="1.5"/>
<circle cx="544.2" cy="325.1" r="1.5"/>
<circle cx="596.9" cy="274.2" r="1.5"/>
<circle cx="612.3" cy="260.5" r="1.5"/>
<circle cx="618.6" cy="256.9" r="1.5"/>
<circle cx="589.8" cy="278.3" r="1.5"/>
<circle cx="568.8" cy="303.3" r="1.5"/>
<circle cx="592.5" cy="277.8" r="1.5"/>
<circle cx="593.4" cy="278.5" r="1.5"/>
<circle cx="563.1" cy="304.0" r="1.5"/>
<circle cx="576.1" cy="294.8" r="1.5"/>
<circle cx="608.9" cy="265.9" r="1.5"/>
<circle cx="573.9" cy="297.6" r="1.5"/>
<circle cx="582.1" cy="288.0" r="1.5"/>
<circle cx="600.5" cy="268.5" r="1.5"/>
<circle cx="565.5" cy="305.7" r="1.5"/>
<circle cx="619.1" cy="253.9" r="1.5"/>
<circle cx="577.2" cy="291.5" r="1.5"/>
<circle cx="582.7" cy="286.5" r="1.5"/>
<circle cx="562.8" cy="305.3" r="1.5"/>
<circle cx="570.6" cy="300.9" r="1.5"/>
<circle cx="589.9" cy="280.1" r="1.5"/>
<circle cx="555.2" cy="315.1" r="1.5"/>
<circle cx="593.9" cy="278.1" r="1.5"/>
<circle cx="568.4" cy="305.1" r="1.5"/>
<circle cx="585.4" cy="284.8" r="1.5"/>
<circle cx="580.9" cy="287.4" r="1.5"/>
<circle cx="580.2" cy="291.5" r="1.5"/>
<circle cx="616.9" cy="254.9" r="1.5"/>
<circle cx="587.6" cy="283.9" r="1.5"/>
<circle cx="589.3" cy="279.5" r="1.5"/>
<circle cx="599.2" cy="271.3" r="1.5"/>
<circle cx="594.1" cy="273.3" r="1.5"/>
<circle cx="579.8" cy="291.1" r="1.5"/>
<circle cx="600.9" cy="270.8" r="1.5"/>
<circle cx="571.9" cy="295.3" r="1.5"/>
<circle cx="596.8" cy="275.2" r="1.5"/>
<circle cx="574.5" cy="298.9" r="1.5"/>
<circle cx="566.0" cy="304.0" r="1.5"/>
<circle cx="581.5" cy="288.2" r="1.5"/>
<circle cx="588.7" cy="281.0" r="1.5"/>
<circle cx="565.1" cy="304.8" r="1.5"/>
<circle cx="558.9" cy="310.1" r="1.5"/>
<circle cx="590.7" cy="283.8" r="1.5"/>
<circle cx="593.3" cy="276.6" r="1.5"/>
<circle cx="554.1" cy="317.2" r="1.5"/>
<circle cx="605.4" cy="267.0" r="1.5"/>
<circle cx="582.3" cy="290.4" r="1.5"/>
<circle cx="560.2" cy="308.2" r="1.5"/>
<circle cx="591.6" cy="278.5" r="1.5"/>
<circle cx="595.2" cy="279.0" r="1.5"/>
<circle cx="589.2" cy="280.8" r="1.5"/>
<circle cx="621.3" cy="250.9" r="1.5"/>
<circle cx="604.1" cy="266.4" r="1.5"/>
<circle cx="569.0" cy="299.7" r="1.5"/>
<circle cx="569.0" cy="302.9" r="1.5"/>
<circle cx="576.2" cy="293.1" r="1.5"/>
<circle cx="580.7" cy="288.0" r="1.5"/>
<circle cx="597.9" cy="276.5" r="1.5"/>
<circle cx="617.3" cy="257.0" r="1.5"/>
<circle cx="612.9" cy="264.6" r="1.5"/>
<circle cx="613.3" cy="261.0" r="1.5"/>
<circle cx="613.3" cy="261.0" r="1.5"/>
<circle cx="564.4" cy="306.3" r="1.5"/>
<circle cx="571.9" cy="299.0" r="1.5"/>
<circle cx="601.1" cy="267.7" r="1.5"/>
<circle cx="577.2" cy="290.7" r="1.5"/>
<circle cx="608.2" cy="264.6" r="1.5"/>
<circle cx="609.6" cy="264.4" r="1.5"/>
<circle cx="596.1" cy="277.2" r="1.5"/>
<circle cx="581.0" cy="289.9" r="1.5"/>
<circle cx="622.1" cy="250.3" r="1.5"/>
<circle cx="617.2" cy="258.9" r="1.5"/>
<circle cx="614.4" cy="260.1" r="1.5"/>
<circle cx="596.0" cy="275.0" r="1.5"/>
<circle cx="580.5" cy="289.6" r="1.5"/>
<circle cx="569.1" cy="299.7" r="1.5"/>
<circle cx="610.0" cy="262.0" r="1.5"/>
<circle cx="548.1" cy="317.5" r="1.5"/>
<circle cx="566.6" cy="306.2" r="1.5"/>
<circle cx="588.1" cy="279.8" r="1.5"/>
<circle cx="554.2" cy="311.6" r="1.5"/>
<circle cx="611.6" cy="260.0" r="1.5"/>
<circle cx="562.7" cy="306.5" r="1.5"/>
<circle cx="594.7" cy="277.6" r="1.5"/>
<circle cx="567.3" cy="299.4" r="1.5"/>
<circle cx="575.7" cy="295.7" r="1.5"/>
<circle cx="612.7" cy="260.2" r="1.5"/>
<circle cx="568.0" cy="301.5" r="1.5"/>
<circle cx="570.8" cy="298.5" r="1.5"/>
<circle cx="619.1" cy="259.1" r="1.5"/>
<circle cx="570.5" cy="299.7" r="1.5"/>
<circle cx="559.3" cy="312.6" r="1.5"/>
<circle cx="566.3" cy="305.5" r="1.5"/>
<circle cx="593.8" cy="278.9" r="1.5"/>
<circle cx="618.2" cy="256.3" r="1.5"/>
<circle cx="585.0" cy="286.4" r="1.5"/>
<circle cx="592.8" cy="280.7" r="1.5"/>
<circle cx="600.3" cy="271.4" r="1.5"/>
<circle cx="588.8" cy="279.1" r="1.5"/>
<circle cx="599.8" cy="272.7" r="1.5"/>
<circle cx="579.7" cy="290.5" r="1.5"/>
<circle cx="573.4" cy="296.0" r="1.5"/>
<circle cx="596.1" cy="276.7" r="1.5"/>
<circle cx="569.6" cy="297.2" r="1.5"/>
<circle cx="568.7" cy="300.3" r="1.5"/>
<circle cx="568.0" cy="304.0" r="1.5"/>
<circle cx="575.3" cy="295.7" r="1.5"/>
<circle cx="606.4" cy="265.1" r="1.5"/>
<circle cx="570.8" cy="297.8" r="1.5"/>
<circle cx="606.1" cy="262.6" r="1.5"/>
<circle cx="588.2" cy="284.7" r="1.5"/>
<circle cx="591.9" cy="283.6" r="1.5"/>
<circle cx="584.1" cy="285.2" r="1.5"/>
<circle cx="585.9" cy="285.5" r="1.5"/>
<circle cx="620.8" cy="253.7" r="1.5"/>
<circle cx="576.0" cy="291.2" r="1.5"/>
<circle cx="612.2" cy="260.2" r="1.5"/>
<circle cx="564.0" cy="305.9" r="1.5"/>
<circle cx="589.4" cy="280.0" r="1.5"/>
<circle cx="619.5" cy="253.2" r="1.5"/>
<circle cx="582.2" cy="290.4" r="1.5"/>
<circle cx="602.6" cy="270.2" r="1.5"/>
<circle cx="621.6" cy="253.7" r="1.5"/>
<circle cx="619.8" cy="252.3" r="1.5"/>
<circle cx="609.9" cy="266.1" r="1.5"/>
<circle cx="616.6" cy="256.7" r="1.5"/>
<circle cx="600.7" cy="268.6" r="1.5"/>
<circle cx="560.0" cy="309.7" r="1.5"/>
<circle cx="566.2" cy="305.6" r="1.5"/>
<circle cx="591.6" cy="280.6" r="1.5"/>
<circle cx="586.0" cy="286.3" r="1.5"/>
<circle cx="609.1" cy="264.5" r="1.5"/>
<circle cx="597.6" cy="272.8" r="1.5"/>
<circle cx="609.1" cy="262.8" r="1.5"/>
<circle cx="568.5" cy="303.8" r="1.5"/>
<circle cx="560.4" cy="306.4" r="1.5"/>
<circle cx="590.0" cy="283.2" r="1.5"/>
<circle cx="604.8" cy="266.6" r="1.5"/>
<circle cx="576.9" cy="294.3" r="1.5"/>
<circle cx="593.2" cy="278.5" r="1.5"/>
<circle cx="585.9" cy="284.9" r="1.5"/>
<circle cx="587.5" cy="287.8" r="1.5"/>
<circle cx="581.0" cy="290.3" r="1.5"/>
<circle cx="571.3" cy="293.5" r="1.5"/>
<circle cx="572.6" cy="297.4" r="1.5"/>
<circle cx="565.6" cy="304.3" r="1.5"/>
<circle cx="582.9" cy="288.2" r="1.5"/>
<circle cx="572.2" cy="296.0" r="1.5"/>
<circle cx="564.4" cy="304.9" r="1.5"/>
<circle cx="552.5" cy="314.0" r="1.5"/>
<circle cx="632.3" cy="244.9" r="1.5"/>
<circle cx="636.3" cy="237.2" r="1.5"/>
<circle cx="564.0" cy="305.2" r="1.5"/>
<circle cx="602.0" cy="269.6" r="1.5"/>
<circle cx="593.3" cy="277.6" r="1.5"/>
<circle cx="597.8" cy="275.1" r="1.5"/>
<circle cx="573.1" cy="297.3" r="1.5"/>
<circle cx="611.8" cy="261.1" r="1.5"/>
<circle cx="585.5" cy="286.4" r="1.5"/>
<circle cx="563.1" cy="309.5" r="1.5"/>
<circle cx="578.8" cy="293.5" r="1.5"/>
<circle cx="621.4" cy="251.9" r="1.5"/>
<circle cx="569.8" cy="299.2" r="1.5"/>
<circle cx="566.3" cy="298.7" r="1.5"/>
<circle cx="608.4" cy="261.8" r="1.5"/>
<circle cx="603.2" cy="268.3" r="1.5"/>
<circle cx="552.7" cy="315.7" r="1.5"/>
<circle cx="566.6" cy="299.9" r="1.5"/>
<circle cx="560.1" cy="308.1" r="1.5"/>
<circle cx="562.3" cy="308.4" r="1.5"/>
<circle cx="573.9" cy="297.0" r="1.5"/>
<circle cx="548.1" cy="321.4" r="1.5"/>
<circle cx="583.8" cy="289.9" r="1.5"/>
<circle cx="560.9" cy="305.7" r="1.5"/>
<circle cx="568.3" cy="305.8" r="1.5"/>
<circle cx="623.1" cy="251.4" r="1.5"/>
<circle cx="571.3" cy="298.8" r="1.5"/>
<circle cx="579.4" cy="292.5" r="1.5"/>
<circle cx="558.7" cy="308.7" r="1.5"/>
<circle cx="566.7" cy="300.9" r="1.5"/>
<circle cx="562.1" cy="308.2" r="1.5"/>
<circle cx="600.2" cy="271.0" r="1.5"/>
<circle cx="567.1" cy="303.6" r="1.5"/>
<circle cx="594.1" cy="280.3" r="1.5"/>
<circle cx="599.7" cy="272.9" r="1.5"/>
<circle cx="620.2" cy="254.1" r="1.5"/>
<circle cx="571.0" cy="301.6" r="1.5"/>
<circle cx="557.6" cy="316.6" r="1.5"/>
<circle cx="605.5" cy="267.0" r="1.5"/>
<circle cx="577.5" cy="293.7" r="1.5"/>
<circle cx="564.0" cy="306.0" r="1.5"/>
<circle cx="604.0" cy="267.3" r="1.5"/>
<circle cx="602.8" cy="271.5" r="1.5"/>
<circle cx="577.9" cy="292.7" r="1.5"/>
<circle cx="592.6" cy="277.0" r="1.5"/>
<circle cx="570.1" cy="299.7" r="1.5"/>
<circle cx="616.6" cy="258.9" r="1.5"/>
<circle cx="555.6" cy="316.7" r="1.5"/>
<circle cx="569.8" cy="301.9" r="1.5"/>
<circle cx="614.8" cy="256.0" r="1.5"/>
<circle cx="595.0" cy="276.3" r="1.5"/>
<circle cx="556.5" cy="312.7" r="1.5"/>
<circle cx="575.4" cy="296.6" r="1.5"/>
<circle cx="644.8" cy="231.2" r="1.5"/>
<circle cx="562.2" cy="305.8" r="1.5"/>
<circle cx="567.1" cy="305.3" r="1.5"/>
<circle cx="568.3" cy="302.8" r="1.5"/>
<circle cx="575.9" cy="290.2" r="1.5"/>
<circle cx="574.4" cy="297.8" r="1.5"/>
<circle cx="559.4" cy="309.6" r="1.5"/>
<circle cx="568.4" cy="302.4" r="1.5"/>
<circle cx="621.0" cy="252.6" r="1.5"/>
<circle cx="577.4" cy="294.3" r="1.5"/>
<circle cx="617.6" cy="253.2" r="1.5"/>
<circle cx="587.6" cy="286.7" r="1.5"/>
<circle cx="616.8" cy="255.9" r="1.5"/>
<circle cx="572.5" cy="293.8" r="1.5"/>
<circle cx="618.9" cy="255.2" r="1.5"/>
<circle cx="598.0" cy="274.6" r="1.5"/>
<circle cx="580.8" cy="291.0" r="1.5"/>
<circle cx="619.1" cy="252.0" r="1.5"/>
<circle cx="580.7" cy="294.8" r="1.5"/>
<circle cx="563.7" cy="304.1" r="1.5"/>
<circle cx="594.2" cy="276.8" r="1.5"/>
<circle cx="588.7" cy="281.2" r="1.5"/>
<circle cx="573.1" cy="297.7" r="1.5"/>
<circle cx="583.9" cy="286.3" r="1.5"/>
<circle cx="594.0" cy="279.5" r="1.5"/>
<circle cx="622.6" cy="250.6" r="1.5"/>
<circle cx="585.8" cy="282.8" r="1.5"/>
<circle cx="561.7" cy="309.1" r="1.5"/>
<circle cx="575.4" cy="291.2" r="1.5"/>
<circle cx="601.1" cy="269.5" r="1.5"/>
<circle cx="545.5" cy="323.5" r="1.5"/>
<circle cx="537.0" cy="331.2" r="1.5"/>
<circle cx="564.7" cy="306.0" r="1.5"/>
<circle cx="555.9" cy="316.7" r="1.5"/>
<circle cx="569.5" cy="299.7" r="1.5"/>
<circle cx="580.2" cy="290.3" r="1.5"/>
<circle cx="594.9" cy="274.6" r="1.5"/>
<circle cx="573.5" cy="295.2" r="1.5"/>
<circle cx="600.4" cy="269.5" r="1.5"/>
<circle cx="592.3" cy="281.0" r="1.5"/>
<circle cx="607.4" cy="267.8" r="1.5"/>
<circle cx="610.3" cy="262.2" r="1.5"/>
<circle cx="575.2" cy="295.0" r="1.5"/>
<circle cx="579.9" cy="289.1" r="1.5"/>
<circle cx="592.6" cy="278.1" r="1.5"/>
<circle cx="617.6" cy="251.3" r="1.5"/>
<circle cx="566.0" cy="301.1" r="1.5"/>
<circle cx="650.0" cy="224.6" r="1.5"/>
<circle cx="577.4" cy="293.0" r="1.5"/>
<circle cx="621.0" cy="253.8" r="1.5"/>
<circle cx="598.1" cy="275.8" r="1.5"/>
<circle cx="578.5" cy="292.1" r="1.5"/>
<circle cx="613.4" cy="260.2" r="1.5"/>
<circle cx="562.5" cy="307.5" r="1.5"/>
<circle cx="588.5" cy="283.2" r="1.5"/>
<circle cx="594.4" cy="276.5" r="1.5"/>
<circle cx="567.0" cy="304.9" r="1.5"/>
<circle cx="586.6" cy="284.8" r="1.5"/>
<circle cx="585.2" cy="283.4" r="1.5"/>
<circle cx="608.2" cy="261.0" r="1.5"/>
<circle cx="617.5" cy="254.7" r="1.5"/>
<circle cx="630.4" cy="246.7" r="1.5"/>
<circle cx="578.9" cy="293.3" r="1.5"/>
<circle cx="614.2" cy="260.0" r="1.5"/>
<circle cx="575.9" cy="293.6" r="1.5"/>
<circle cx="605.6" cy="268.3" r="1.5"/>
<circle cx="594.3" cy="275.4" r="1.5"/>
<circle cx="601.1" cy="272.9" r="1.5"/>
<circle cx="596.5" cy="277.6" r="1.5"/>
<circle cx="600.9" cy="271.8" r="1.5"/>
<circle cx="609.1" cy="263.8" r="1.5"/>
<circle cx="564.2" cy="305.0" r="1.5"/>
<circle cx="585.6" cy="286.5" r="1.5"/>
<circle cx="616.7" cy="258.6" r="1.5"/>
<circle cx="605.7" cy="267.1" r="1.5"/>
<circle cx="598.7" cy="274.4" r="1.5"/>
<circle cx="562.5" cy="309.0" r="1.5"/>
<circle cx="580.1" cy="289.5" r="1.5"/>
<circle cx="583.4" cy="288.7" r="1.5"/>
<circle cx="597.4" cy="274.4" r="1.5"/>
<circle cx="577.9" cy="292.7" r="1.5"/>
<circle cx="601.0" cy="270.3" r="1.5"/>
<circle cx="567.8" cy="302.2" r="1.5"/>
<circle cx="563.8" cy="308.2" r="1.5"/>
<circle cx="610.9" cy="264.3" r="1.5"/>
<circle cx="553.9" cy="313.6" r="1.5"/>
<circle cx="559.0" cy="307.3" r="1.5"/>
<circle cx="558.1" cy="309.4" r="1.5"/>
<circle cx="556.5" cy="311.6" r="1.5"/>
<circle cx="578.5" cy="290.1" r="1.5"/>
<circle cx="578.4" cy="296.7" r="1.5"/>
<circle cx="611.5" cy="262.4" r="1.5"/>
<circle cx="599.7" cy="272.6" r="1.5"/>
<circle cx="607.0" cy="266.8" r="1.5"/>
<circle cx="600.3" cy="272.8" r="1.5"/>
<circle cx="621.9" cy="253.6" r="1.5"/>
<circle cx="587.1" cy="286.4" r="1.5"/>
<circle cx="565.6" cy="304.9" r="1.5"/>
<circle cx="622.6" cy="251.1" r="1.5"/>
<circle cx="555.5" cy="313.2" r="1.5"/>
<circle cx="599.2" cy="272.3" r="1.5"/>
<circle cx="563.9" cy="306.9" r="1.5"/>
<circle cx="623.2" cy="247.8" r="1.5"/>
<circle cx="570.2" cy="299.9" r="1.5"/>
<circle cx="585.8" cy="286.7" r="1.5"/>
<circle cx="618.8" cy="254.2" r="1.5"/>
<circle cx="572.6" cy="296.2" r="1.5"/>
<circle cx="574.7" cy="298.3" r="1.5"/>
<circle cx="617.8" cy="253.4" r="1.5"/>
<circle cx="611.2" cy="256.6" r="1.5"/>
<circle cx="560.8" cy="309.3" r="1.5"/>
<circle cx="557.5" cy="310.9" r="1.5"/>
<circle cx="620.7" cy="256.8" r="1.5"/>
<circle cx="574.2" cy="293.4" r="1.5"/>
<circle cx="579.4" cy="290.1" r="1.5"/>
<circle cx="618.8" cy="249.8" r="1.5"/>
<circle cx="608.4" cy="265.1" r="1.5"/>
<circle cx="605.7" cy="267.8" r="1.5"/>
<circle cx="587.9" cy="280.2" r="1.5"/>
<circle cx="602.2" cy="269.7" r="1.5"/>
<circle cx="605.0" cy="267.5" r="1.5"/>
<circle cx="610.6" cy="260.6" r="1.5"/>
<circle cx="598.5" cy="275.4" r="1.5"/>
<circle cx="568.0" cy="300.9" r="1.5"/>
<circle cx="579.1" cy="294.8" r="1.5"/>
<circle cx="584.5" cy="284.1" r="1.5"/>
<circle cx="611.7" cy="263.8" r="1.5"/>
<circle cx="579.0" cy="292.8" r="1.5"/>
<circle cx="595.9" cy="277.9" r="1.5"/>
<circle cx="610.3" cy="263.6" r="1.5"/>
<circle cx="569.6" cy="297.8" r="1.5"/>
<circle cx="586.6" cy="286.0" r="1.5"/>
<circle cx="577.4" cy="294.5" r="1.5"/>
<circle cx="618.9" cy="258.3" r="1.5"/>
<circle cx="605.9" cy="265.7" r="1.5"/>
<circle cx="567.1" cy="299.1" r="1.5"/>
<circle cx="558.1" cy="314.4" r="1.5"/>
<circle cx="567.5" cy="301.4" r="1.5"/>
<circle cx="622.5" cy="250.0" r="1.5"/>
<circle cx="620.2" cy="256.7" r="1.5"/>
<circle cx="576.5" cy="295.9" r="1.5"/>
<circle cx="618.1" cy="257.4" r="1.5"/>
<circle cx="636.1" cy="235.1" r="1.5"/>
<circle cx="620.2" cy="253.2" r="1.5"/>
<circle cx="612.3" cy="262.3" r="1.5"/>
<circle cx="611.7" cy="261.5" r="1.5"/>
<circle cx="585.5" cy="283.2" r="1.5"/>
<circle cx="589.3" cy="284.6" r="1.5"/>
<circle cx="567.2" cy="302.6" r="1.5"/>
<circle cx="583.1" cy="287.2" r="1.5"/>
<circle cx="604.1" cy="267.3" r="1.5"/>
<circle cx="598.5" cy="274.8" r="1.5"/>
<circle cx="582.4" cy="287.1" r="1.5"/>
<circle cx="582.4" cy="288.5" r="1.5"/>
<circle cx="617.4" cy="260.1" r="1.5"/>
<circle cx="590.3" cy="280.5" r="1.5"/>
<circle cx="592.0" cy="280.3" r="1.5"/>
<circle cx="583.5" cy="285.7" r="1.5"/>
<circle cx="607.0" cy="265.5" r="1.5"/>
<circle cx="571.8" cy="298.1" r="1.5"/>
<circle cx="569.0" cy="301.2" r="1.5"/>
<circle cx="608.9" cy="261.4" r="1.5"/>
<circle cx="620.6" cy="251.1" r="1.5"/>
<circle cx="602.6" cy="271.8" r="1.5"/>
<circle cx="585.6" cy="284.2" r="1.5"/>
<circle cx="576.6" cy="297.0" r="1.5"/>
<circle cx="621.4" cy="251.5" r="1.5"/>
<circle cx="615.1" cy="257.8" r="1.5"/>
<circle cx="552.6" cy="318.8" r="1.5"/>
<circle cx="589.6" cy="281.9" r="1.5"/>
<circle cx="583.3" cy="289.0" r="1.5"/>
<circle cx="578.5" cy="292.5" r="1.5"/>
<circle cx="604.0" cy="271.9" r="1.5"/>
<circle cx="575.4" cy="296.9" r="1.5"/>
<circle cx="615.3" cy="256.9" r="1.5"/>
<circle cx="564.4" cy="304.1" r="1.5"/>
<circle cx="602.0" cy="268.9" r="1.5"/>
<circle cx="593.9" cy="279.2" r="1.5"/>
<circle cx="576.8" cy="294.5" r="1.5"/>
<circle cx="598.8" cy="272.6" r="1.5"/>
<circle cx="612.4" cy="259.8" r="1.5"/>
<circle cx="576.9" cy="294.8" r="1.5"/>
<circle cx="561.2" cy="307.5" r="1.5"/>
<circle cx="572.6" cy="296.2" r="1.5"/>
<circle cx="613.2" cy="260.8" r="1.5"/>
<circle cx="603.7" cy="268.7" r="1.5"/>
<circle cx="557.0" cy="312.4" r="1.5"/>
<circle cx="568.1" cy="299.7" r="1.5"/>
<circle cx="561.5" cy="306.9" r="1.5"/>
<circle cx="590.0" cy="282.7" r="1.5"/>
<circle cx="617.8" cy="254.5" r="1.5"/>
<circle cx="558.1" cy="309.6" r="1.5"/>
<circle cx="577.0" cy="293.8" r="1.5"/>
<circle cx="559.4" cy="312.2" r="1.5"/>
<circle cx="593.8" cy="279.4" r="1.5"/>
<circle cx="583.8" cy="286.5" r="1.5"/>
<circle cx="623.0" cy="253.0" r="1.5"/>
<circle cx="605.4" cy="266.0" r="1.5"/>
<circle cx="599.9" cy="269.6" r="1.5"/>
<circle cx="610.4" cy="262.7" r="1.5"/>
<circle cx="607.1" cy="262.7" r="1.5"/>
<circle cx="573.2" cy="294.7" r="1.5"/>
<circle cx="557.8" cy="313.0" r="1.5"/>
<circle cx="554.3" cy="313.5" r="1.5"/>
<circle cx="607.1" cy="267.9" r="1.5"/>
<circle cx="564.2" cy="306.7" r="1.5"/>
<circle cx="569.1" cy="301.0" r="1.5"/>
<circle cx="581.0" cy="291.1" r="1.5"/>
<circle cx="555.6" cy="315.6" r="1.5"/>
<circle cx="586.0" cy="287.3" r="1.5"/>
<circle cx="619.2" cy="254.1" r="1.5"/>
<circle cx="557.7" cy="310.3" r="1.5"/>
<circle cx="588.5" cy="281.9" r="1.5"/>
<circle cx="616.7" cy="255.4" r="1.5"/>
<circle cx="596.7" cy="277.5" r="1.5"/>
<circle cx="595.2" cy="276.3" r="1.5"/>
<circle cx="595.0" cy="277.7" r="1.5"/>
<circle cx="610.4" cy="262.0" r="1.5"/>
<circle cx="616.7" cy="257.3" r="1.5"/>
<circle cx="583.2" cy="288.1" r="1.5"/>
<circle cx="592.7" cy="280.4" r="1.5"/>
<circle cx="618.7" cy="252.8" r="1.5"/>
<circle cx="594.3" cy="276.1" r="1.5"/>
<circle cx="582.7" cy="289.9" r="1.5"/>
<circle cx="603.9" cy="267.5" r="1.5"/>
<circle cx="567.9" cy="304.0" r="1.5"/>
<circle cx="596.0" cy="275.2" r="1.5"/>
<circle cx="587.0" cy="283.3" r="1.5"/>
<circle cx="563.6" cy="307.4" r="1.5"/>
<circle cx="628.4" cy="245.0" r="1.5"/>
<circle cx="599.5" cy="271.1" r="1.5"/>
<circle cx="583.1" cy="288.0" r="1.5"/>
<circle cx="555.0" cy="316.0" r="1.5"/>
<circle cx="581.6" cy="289.8" r="1.5"/>
<circle cx="614.5" cy="258.5" r="1.5"/>
<circle cx="580.9" cy="290.7" r="1.5"/>
<circle cx="593.1" cy="277.3" r="1.5"/>
<circle cx="563.6" cy="305.3" r="1.5"/>
<circle cx="602.6" cy="269.7" r="1.5"/>
<circle cx="594.5" cy="282.4" r="1.5"/>
<circle cx="592.9" cy="280.8" r="1.5"/>
<circle cx="583.0" cy="287.8" r="1.5"/>
<circle cx="580.1" cy="289.2" r="1.5"/>
<circle cx="563.4" cy="306.0" r="1.5"/>
<circle cx="589.4" cy="285.7" r="1.5"/>
<circle cx="596.2" cy="279.2" r="1.5"/>
<circle cx="562.8" cy="309.3" r="1.5"/>
<circle cx="584.8" cy="289.1" r="1.5"/>
<circle cx="626.1" cy="248.0" r="1.5"/>
<circle cx="549.9" cy="317.5" r="1.5"/>
<circle cx="583.1" cy="287.1" r="1.5"/>
<circle cx="584.3" cy="287.2" r="1.5"/>
<circle cx="587.7" cy="283.5" r="1.5"/>
<circle cx="569.9" cy="299.6" r="1.5"/>
<circle cx="586.8" cy="284.5" r="1.5"/>
<circle cx="585.7" cy="285.6" r="1.5"/>
<circle cx="606.3" cy="267.2" r="1.5"/>
<circle cx="604.0" cy="268.6" r="1.5"/>
<circle cx="598.8" cy="277.3" r="1.5"/>
<circle cx="610.9" cy="263.3" r="1.5"/>
<circle cx="586.5" cy="284.6" r="1.5"/>
<circle cx="619.4" cy="253.1" r="1.5"/>
<circle cx="609.1" cy="263.3" r="1.5"/>
<circle cx="607.1" cy="269.0" r="1.5"/>
<circle cx="618.7" cy="256.6" r="1.5"/>
<circle cx="543.2" cy="326.3" r="1.5"/>
<circle cx="611.6" cy="260.2" r="1.5"/>
<circle cx="565.2" cy="307.8" r="1.5"/>
<circle cx="549.6" cy="317.6" r="1.5"/>
<circle cx="554.1" cy="315.2" r="1.5"/>
<circle cx="571.7" cy="298.8" r="1.5"/>
<circle cx="587.0" cy="286.6" r="1.5"/>
<circle cx="590.2" cy="284.4" r="1.5"/>
<circle cx="596.2" cy="275.4" r="1.5"/>
<circle cx="567.9" cy="302.0" r="1.5"/>
<circle cx="584.4" cy="286.5" r="1.5"/>
<circle cx="584.8" cy="289.3" r="1.5"/>
<circle cx="621.2" cy="252.6" r="1.5"/>
<circle cx="611.9" cy="262.5" r="1.5"/>
<circle cx="585.2" cy="288.3" r="1.5"/>
<circle cx="590.4" cy="283.4" r="1.5"/>
<circle cx="598.2" cy="277.8" r="1.5"/>
<circle cx="555.1" cy="312.3" r="1.5"/>
<circle cx="576.5" cy="294.1" r="1.5"/>
<circle cx="555.9" cy="313.3" r="1.5"/>
<circle cx="603.9" cy="265.7" r="1.5"/>
<circle cx="557.5" cy="311.9" r="1.5"/>
<circle cx="578.2" cy="292.6" r="1.5"/>
<circle cx="567.3" cy="306.0" r="1.5"/>
<circle cx="584.9" cy="289.1" r="1.5"/>
<circle cx="560.4" cy="311.6" r="1.5"/>
<circle cx="575.5" cy="295.8" r="1.5"/>
<circle cx="597.7" cy="275.4" r="1.5"/>
<circle cx="615.1" cy="257.1" r="1.5"/>
<circle cx="610.0" cy="262.2" r="1.5"/>
<circle cx="586.0" cy="284.5" r="1.5"/>
<circle cx="567.5" cy="301.9" r="1.5"/>
<circle cx="570.8" cy="299.2" r="1.5"/>
<circle cx="595.6" cy="274.0" r="1.5"/>
<circle cx="580.6" cy="290.4" r="1.5"/>
<circle cx="599.6" cy="275.3" r="1.5"/>
<circle cx="568.6" cy="300.8" r="1.5"/>
<circle cx="564.3" cy="306.1" r="1.5"/>
<circle cx="595.3" cy="272.1" r="1.5"/>
<circle cx="571.9" cy="297.6" r="1.5"/>
<circle cx="563.0" cy="304.8" r="1.5"/>
<circle cx="556.8" cy="313.4" r="1.5"/>
<circle cx="563.1" cy="309.7" r="1.5"/>
<circle cx="589.1" cy="281.5" r="1.5"/>
<circle cx="562.1" cy="308.7" r="1.5"/>
<circle cx="577.5" cy="292.9" r="1.5"/>
<circle cx="583.0" cy="287.2" r="1.5"/>
<circle cx="610.7" cy="260.8" r="1.5"/>
<circle cx="581.2" cy="288.9" r="1.5"/>
<circle cx="589.6" cy="284.4" r="1.5"/>
<circle cx="620.8" cy="254.7" r="1.5"/>
<circle cx="606.2" cy="265.9" r="1.5"/>
<circle cx="614.3" cy="260.0" r="1.5"/>
<circle cx="616.3" cy="259.3" r="1.5"/>
<circle cx="617.8" cy="256.2" r="1.5"/>
<circle cx="621.4" cy="252.5" r="1.5"/>
<circle cx="571.8" cy="300.4" r="1.5"/>
<circle cx="602.8" cy="270.2" r="1.5"/>
<circle cx="619.0" cy="254.3" r="1.5"/>
<circle cx="616.5" cy="254.8" r="1.5"/>
<circle cx="613.0" cy="261.5" r="1.5"/>
<circle cx="579.8" cy="294.2" r="1.5"/>
<circle cx="590.2" cy="279.6" r="1.5"/>
<circle cx="579.2" cy="293.4" r="1.5"/>
<circle cx="603.5" cy="268.7" r="1.5"/>
<circle cx="577.4" cy="288.1" r="1.5"/>
<circle cx="561.4" cy="312.0" r="1.5"/>
<circle cx="591.1" cy="278.6" r="1.5"/>
<circle cx="578.1" cy="293.8" r="1.5"/>
<circle cx="607.5" cy="269.3" r="1.5"/>
<circle cx="616.8" cy="258.4" r="1.5"/>
<circle cx="593.3" cy="276.7" r="1.5"/>
<circle cx="604.5" cy="269.2" r="1.5"/>
<circle cx="600.0" cy="271.3" r="1.5"/>
<circle cx="619.3" cy="251.5" r="1.5"/>
<circle cx="583.2" cy="289.6" r="1.5"/>
<circle cx="578.2" cy="294.2" r="1.5"/>
<circle cx="554.6" cy="314.2" r="1.5"/>
<circle cx="591.2" cy="283.7" r="1.5"/>
<circle cx="572.8" cy="297.3" r="1.5"/>
<circle cx="618.9" cy="256.9" r="1.5"/>
<circle cx="600.4" cy="269.2" r="1.5"/>
<circle cx="578.4" cy="294.3" r="1.5"/>
<circle cx="550.2" cy="320.6" r="1.5"/>
<circle cx="557.5" cy="310.6" r="1.5"/>
<circle cx="605.3" cy="266.2" r="1.5"/>
<circle cx="609.0" cy="264.5" r="1.5"/>
<circle cx="573.2" cy="299.7" r="1.5"/>
<circle cx="606.6" cy="266.8" r="1.5"/>
<circle cx="619.9" cy="250.5" r="1.5"/>
<circle cx="602.4" cy="271.1" r="1.5"/>
<circle cx="589.5" cy="285.7" r="1.5"/>
<circle cx="646.0" cy="230.0" r="1.5"/>
<circle cx="613.5" cy="259.9" r="1.5"/>
<circle cx="615.2" cy="258.9" r="1.5"/>
<circle cx="608.9" cy="263.8" r="1.5"/>
<circle cx="588.1" cy="284.1" r="1.5"/>
<circle cx="596.0" cy="277.9" r="1.5"/>
<circle cx="562.1" cy="304.8" r="1.5"/>
<circle cx="617.6" cy="258.2" r="1.5"/>
<circle cx="556.2" cy="310.6" r="1.5"/>
<circle cx="555.4" cy="314.9" r="1.5"/>
<circle cx="579.7" cy="290.6" r="1.5"/>
<circle cx="592.3" cy="278.3" r="1.5"/>
<circle cx="576.6" cy="296.3" r="1.5"/>
<circle cx="597.1" cy="275.2" r="1.5"/>
<circle cx="590.1" cy="283.0" r="1.5"/>
<circle cx="569.3" cy="303.0" r="1.5"/>
<circle cx="574.9" cy="292.4" r="1.5"/>
<circle cx="580.1" cy="290.2" r="1.5"/>
<circle cx="612.3" cy="261.0" r="1.5"/>
<circle cx="613.5" cy="262.1" r="1.5"/>
<circle cx="607.1" cy="266.1" r="1.5"/>
<circle cx="587.5" cy="285.5" r="1.5"/>
<circle cx="591.4" cy="278.6" r="1.5"/>
<circle cx="597.2" cy="275.8" r="1.5"/>
<circle cx="584.5" cy="287.3" r="1.5"/>
<circle cx="620.4" cy="253.4" r="1.5"/>
<circle cx="553.9" cy="312.4" r="1.5"/>
<circle cx="621.6" cy="252.3" r="1.5"/>
<circle cx="568.8" cy="300.9" r="1.5"/>
<circle cx="583.9" cy="284.8" r="1.5"/>
<circle cx="593.6" cy="278.0" r="1.5"/>
<circle cx="598.7" cy="273.3" r="1.5"/>
<circle cx="591.9" cy="275.6" r="1.5"/>
<circle cx="558.1" cy="312.9" r="1.5"/>
<circle cx="577.0" cy="295.6" r="1.5"/>
<circle cx="553.0" cy="314.6" r="1.5"/>
<circle cx="594.2" cy="276.7" r="1.5"/>
<circle cx="555.0" cy="314.7" r="1.5"/>
<circle cx="610.9" cy="261.6" r="1.5"/>
<circle cx="622.8" cy="250.9" r="1.5"/>
<circle cx="582.7" cy="284.6" r="1.5"/>
<circle cx="565.7" cy="302.5" r="1.5"/>
<circle cx="557.8" cy="314.5" r="1.5"/>
<circle cx="581.1" cy="292.7" r="1.5"/>
<circle cx="631.5" cy="241.0" r="1.5"/>
<circle cx="632.4" cy="240.1" r="1.5"/>
<circle cx="616.8" cy="257.3" r="1.5"/>
<circle cx="623.0" cy="251.3" r="1.5"/>
<circle cx="602.7" cy="268.1" r="1.5"/>
<circle cx="591.1" cy="279.3" r="1.5"/>
<circle cx="595.3" cy="278.0" r="1.5"/>
<circle cx="581.6" cy="291.3" r="1.5"/>
<circle cx="587.3" cy="285.6" r="1.5"/>
<circle cx="562.6" cy="304.6" r="1.5"/>
<circle cx="535.3" cy="334.9" r="1.5"/>
<circle cx="536.0" cy="331.9" r="1.5"/>
<circle cx="536.6" cy="333.0" r="1.5"/>
<circle cx="536.9" cy="330.3" r="1.5"/>
<circle cx="533.1" cy="339.6" r="1.5"/>
<circle cx="549.5" cy="321.2" r="1.5"/>
<circle cx="536.0" cy="333.7" r="1.5"/>
<circle cx="526.0" cy="342.9" r="1.5"/>
<circle cx="532.1" cy="338.2" r="1.5"/>
<circle cx="536.4" cy="332.9" r="1.5"/>
<circle cx="543.5" cy="326.7" r="1.5"/>
<circle cx="538.9" cy="334.8" r="1.5"/>
<circle cx="543.7" cy="326.2" r="1.5"/>
<circle cx="540.0" cy="329.9" r="1.5"/>
<circle cx="541.3" cy="329.0" r="1.5"/>
<circle cx="531.4" cy="332.9" r="1.5"/>
<circle cx="547.1" cy="320.5" r="1.5"/>
<circle cx="545.1" cy="326.0" r="1.5"/>
<circle cx="633.5" cy="239.4" r="1.5"/>
<circle cx="629.1" cy="240.7" r="1.5"/>
<circle cx="645.3" cy="230.3" r="1.5"/>
<circle cx="633.7" cy="243.8" r="1.5"/>
<circle cx="627.7" cy="248.5" r="1.5"/>
<circle cx="639.4" cy="234.1" r="1.5"/>
<circle cx="632.3" cy="242.6" r="1.5"/>
<circle cx="630.7" cy="242.0" r="1.5"/>
<circle cx="635.9" cy="235.3" r="1.5"/>
<circle cx="641.5" cy="237.3" r="1.5"/>
<circle cx="645.2" cy="232.8" r="1.5"/>
<circle cx="639.0" cy="238.1" r="1.5"/>
<circle cx="645.1" cy="231.9" r="1.5"/>
<circle cx="633.0" cy="240.1" r="1.5"/>
<circle cx="637.5" cy="237.4" r="1.5"/>
<circle cx="647.9" cy="228.4" r="1.5"/>
<circle cx="648.5" cy="228.7" r="1.5"/>
<circle cx="630.5" cy="247.3" r="1.5"/>
</g>
<rect x="515.95" y="213.65" width="143.05" height="142.45" fill="none" stroke="#2b2b2b" stroke-width="1.0"/>
<text x="0.00" y="0.00" font-size="8.0" text-anchor="middle" font-weight="normal" font-style="normal" fill="#1a1a1a" font-family='"Liberation Sans", sans-serif' transform="translate(515.95 365.00) scale(0.875 1)">−1.0</text>
<text x="0.00" y="0.00" font-size="8.0" text-anchor="end" font-weight="normal" font-style="normal" fill="#1a1a1a" font-family='"Liberation Sans", sans-serif' transform="translate(513.35 358.90) scale(0.875 1)">−1.0</text>
<line x1="551.70" y1="356.10" x2="551.70" y2="353.50" stroke="#2b2b2b" stroke-width="0.8"/>
<line x1="551.70" y1="213.65" x2="551.70" y2="216.25" stroke="#2b2b2b" stroke-width="0.8"/>
<line x1="515.95" y1="320.45" x2="518.55" y2="320.45" stroke="#2b2b2b" stroke-width="0.8"/>
<line x1="659.00" y1="320.45" x2="656.40" y2="320.45" stroke="#2b2b2b" stroke-width="0.8"/>
<text x="0.00" y="0.00" font-size="8.0" text-anchor="middle" font-weight="normal" font-style="normal" fill="#1a1a1a" font-family='"Liberation Sans", sans-serif' transform="translate(551.70 365.00) scale(0.875 1)">−0.5</text>
<text x="0.00" y="0.00" font-size="8.0" text-anchor="end" font-weight="normal" font-style="normal" fill="#1a1a1a" font-family='"Liberation Sans", sans-serif' transform="translate(513.35 323.30) scale(0.875 1)">−0.5</text>
<line x1="587.45" y1="356.10" x2="587.45" y2="353.50" stroke="#2b2b2b" stroke-width="0.8"/>
<line x1="587.45" y1="213.65" x2="587.45" y2="216.25" stroke="#2b2b2b" stroke-width="0.8"/>
<line x1="515.95" y1="284.85" x2="518.55" y2="284.85" stroke="#2b2b2b" stroke-width="0.8"/>
<line x1="659.00" y1="284.85" x2="656.40" y2="284.85" stroke="#2b2b2b" stroke-width="0.8"/>
<text x="0.00" y="0.00" font-size="8.0" text-anchor="middle" font-weight="normal" font-style="normal" fill="#1a1a1a" font-family='"Liberation Sans", sans-serif' transform="translate(587.45 365.00) scale(0.875 1)">0.0</text>
<text x="0.00" y="0.00" font-size="8.0" text-anchor="end" font-weight="normal" font-style="normal" fill="#1a1a1a" font-family='"Liberation Sans", sans-serif' transform="translate(513.35 287.70) scale(0.875 1)">0.0</text>
<line x1="623.20" y1="356.10" x2="623.20" y2="353.50" stroke="#2b2b2b" stroke-width="0.8"/>
<line x1="623.20" y1="213.65" x2="623.20" y2="216.25" stroke="#2b2b2b" stroke-width="0.8"/>
<line x1="515.95" y1="249.25" x2="518.55" y2="249.25" stroke="#2b2b2b" stroke-width="0.8"/>
<line x1="659.00" y1="249.25" x2="656.40" y2="249.25" stroke="#2b2b2b" stroke-width="0.8"/>
<text x="0.00" y="0.00" font-size="8.0" text-anchor="middle" font-weight="normal" font-style="normal" fill="#1a1a1a" font-family='"Liberation Sans", sans-serif' transform="translate(623.20 365.00) scale(0.875 1)">0.5</text>
<text x="0.00" y="0.00" font-size="8.0" text-anchor="end" font-weight="normal" font-style="normal" fill="#1a1a1a" font-family='"Liberation Sans", sans-serif' transform="translate(513.35 252.10) scale(0.875 1)">0.5</text>
<text x="0.00" y="0.00" font-size="8.0" text-anchor="middle" font-weight="normal" font-style="normal" fill="#1a1a1a" font-family='"Liberation Sans", sans-serif' transform="translate(658.95 365.00) scale(0.875 1)">1.0</text>
<text x="0.00" y="0.00" font-size="8.0" text-anchor="end" font-weight="normal" font-style="normal" fill="#1a1a1a" font-family='"Liberation Sans", sans-serif' transform="translate(513.35 216.50) scale(0.875 1)">1.0</text>
<text x="588.30" y="377.50" font-size="11.1" text-anchor="middle" font-weight="normal" font-style="normal" fill="#111" font-family='"Liberation Sans", sans-serif'>Theoretical Current (Norm.)</text>
<text x="492.90" y="284.60" font-size="11.1" text-anchor="middle" font-weight="normal" font-style="normal" fill="#111" font-family='"Liberation Sans", sans-serif' transform="rotate(-90 492.90 284.60)">Experimental Current (Norm.)</text></svg>
</body></html>
